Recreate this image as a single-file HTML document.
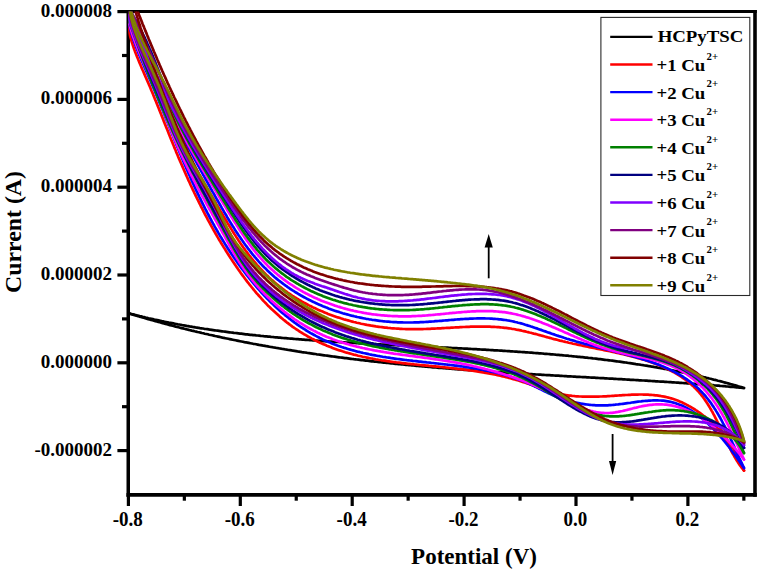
<!DOCTYPE html>
<html><head><meta charset="utf-8"><style>
html,body{margin:0;padding:0;background:#fff;}
body{width:762px;height:574px;overflow:hidden;}
svg{display:block;}
.tl{font-family:"Liberation Serif",serif;font-weight:bold;font-size:19px;fill:#000;stroke:none;}
.lg{font-family:"Liberation Serif",serif;font-weight:bold;font-size:17.4px;fill:#000;}
.sup{font-size:10px;}
.at{font-family:"Liberation Serif",serif;font-weight:bold;font-size:23px;fill:#000;}
</style></head><body>
<svg width="762" height="574" viewBox="0 0 762 574">
<defs><clipPath id="pc"><rect x="128.25" y="11.6" width="626.75" height="483.25"/></clipPath></defs>
<g stroke="#000" stroke-width="3.2" fill="none">
<line x1="126.5" y1="11.5" x2="756.8" y2="11.5" stroke-width="3.1"/>
<line x1="128.25" y1="10" x2="128.25" y2="496.7" stroke-width="3.5"/>
<line x1="126.5" y1="494.85" x2="756.8" y2="494.85" stroke-width="3.7"/>
<line x1="755" y1="10" x2="755" y2="496.7" stroke-width="3.6"/>
</g>
<g clip-path="url(#pc)" fill="none" stroke-width="2.7" stroke-linejoin="round" stroke-linecap="round">
<path d="M128.0,313.1L129.5,313.5L130.9,313.9L132.4,314.2L133.8,314.6L135.3,315.0L136.7,315.4L138.2,315.7L139.7,316.1L141.1,316.4L142.6,316.8L144.0,317.1L145.5,317.5L147.0,317.8L148.4,318.2L149.9,318.5L151.4,318.8L152.8,319.1L154.3,319.5L155.7,319.8L157.2,320.1L158.7,320.4L160.1,320.7L161.6,321.1L163.1,321.4L164.5,321.7L166.0,322.0L167.5,322.3L168.9,322.6L170.4,322.8L171.9,323.1L173.4,323.4L174.8,323.7L176.3,324.0L177.8,324.3L179.2,324.5L180.7,324.8L182.2,325.1L183.7,325.3L185.1,325.6L186.6,325.9L188.1,326.1L189.5,326.4L191.0,326.6L192.5,326.9L194.0,327.1L195.4,327.4L196.9,327.6L198.4,327.8L199.9,328.1L201.4,328.3L202.8,328.5L204.3,328.8L205.8,329.0L207.3,329.2L208.7,329.4L210.2,329.7L211.7,329.9L213.2,330.1L214.7,330.3L216.1,330.5L217.6,330.7L219.1,330.9L220.6,331.1L222.1,331.3L223.6,331.5L225.0,331.7L226.5,331.9L228.0,332.1L229.5,332.3L231.0,332.5L232.4,332.7L233.9,332.9L235.4,333.0L236.9,333.2L238.4,333.4L239.9,333.6L241.4,333.7L242.8,333.9L244.3,334.1L245.8,334.3L247.3,334.4L248.8,334.6L250.3,334.8L251.8,334.9L253.2,335.1L254.7,335.2L256.2,335.4L257.7,335.5L259.2,335.7L260.7,335.9L262.2,336.0L263.7,336.2L265.2,336.3L266.6,336.4L268.1,336.6L269.6,336.7L271.1,336.9L272.6,337.0L274.1,337.2L275.6,337.3L277.1,337.4L278.6,337.6L280.1,337.7L281.5,337.8L283.0,338.0L284.5,338.1L286.0,338.2L287.5,338.3L289.0,338.5L290.5,338.6L292.0,338.7L293.5,338.8L295.0,339.0L296.5,339.1L298.0,339.2L299.4,339.3L300.9,339.4L302.4,339.6L303.9,339.7L305.4,339.8L306.9,339.9L308.4,340.0L309.9,340.1L311.4,340.2L312.9,340.3L314.4,340.4L315.9,340.5L317.4,340.7L318.9,340.8L320.4,340.9L321.9,341.0L323.4,341.1L324.8,341.2L326.3,341.3L327.8,341.4L329.3,341.5L330.8,341.6L332.3,341.7L333.8,341.8L335.3,341.9L336.8,341.9L338.3,342.0L339.8,342.1L341.3,342.2L342.8,342.3L344.3,342.4L345.8,342.5L347.3,342.6L348.8,342.7L350.3,342.8L351.8,342.9L353.3,342.9L354.8,343.0L356.3,343.1L357.8,343.2L359.3,343.3L360.8,343.4L362.3,343.4L363.8,343.5L365.3,343.6L366.8,343.7L368.3,343.8L369.8,343.9L371.3,343.9L372.8,344.0L374.3,344.1L375.8,344.2L377.3,344.3L378.7,344.3L380.2,344.4L381.7,344.5L383.2,344.6L384.7,344.6L386.2,344.7L387.7,344.8L389.2,344.9L390.7,344.9L392.2,345.0L393.7,345.1L395.2,345.2L396.7,345.2L398.2,345.3L399.7,345.4L401.2,345.5L402.7,345.5L404.2,345.6L405.7,345.7L407.2,345.8L408.7,345.8L410.2,345.9L411.7,346.0L413.2,346.1L414.7,346.1L416.2,346.2L417.7,346.3L419.2,346.3L420.7,346.4L422.2,346.5L423.7,346.6L425.2,346.6L426.7,346.7L428.2,346.8L429.7,346.9L431.2,346.9L432.7,347.0L434.2,347.1L435.7,347.1L437.2,347.2L438.7,347.3L440.2,347.4L441.7,347.4L443.2,347.5L444.7,347.6L446.2,347.7L447.7,347.7L449.2,347.8L450.7,347.9L452.2,348.0L453.7,348.0L455.2,348.1L456.7,348.2L458.2,348.3L459.7,348.3L461.2,348.4L462.7,348.5L464.2,348.6L465.7,348.7L467.2,348.7L468.7,348.8L470.2,348.9L471.7,349.0L473.2,349.1L474.7,349.1L476.2,349.2L477.7,349.3L479.2,349.4L480.7,349.5L482.2,349.6L483.7,349.6L485.2,349.7L486.7,349.8L488.2,349.9L489.7,350.0L491.2,350.1L492.7,350.2L494.2,350.3L495.7,350.3L497.2,350.4L498.7,350.5L500.2,350.6L501.7,350.7L503.2,350.8L504.7,350.9L506.2,351.0L507.7,351.1L509.2,351.2L510.7,351.3L512.2,351.4L513.7,351.5L515.2,351.6L516.7,351.7L518.2,351.8L519.7,351.9L521.2,352.0L522.7,352.1L524.2,352.2L525.7,352.3L527.2,352.4L528.7,352.5L530.2,352.6L531.7,352.7L533.2,352.8L534.7,353.0L536.2,353.1L537.7,353.2L539.2,353.3L540.7,353.4L542.2,353.5L543.6,353.7L545.1,353.8L546.6,353.9L548.1,354.0L549.6,354.1L551.1,354.3L552.6,354.4L554.1,354.5L555.6,354.7L557.1,354.8L558.6,354.9L560.1,355.1L561.6,355.2L563.1,355.3L564.6,355.5L566.1,355.6L567.6,355.7L569.0,355.9L570.5,356.0L572.0,356.2L573.5,356.3L575.0,356.5L576.5,356.6L578.0,356.8L579.5,356.9L581.0,357.1L582.5,357.2L584.0,357.4L585.4,357.6L586.9,357.7L588.4,357.9L589.9,358.0L591.4,358.2L592.9,358.4L594.4,358.5L595.9,358.7L597.4,358.9L598.8,359.1L600.3,359.2L601.8,359.4L603.3,359.6L604.8,359.8L606.3,360.0L607.8,360.1L609.2,360.3L610.7,360.5L612.2,360.7L613.7,360.9L615.2,361.1L616.7,361.3L618.1,361.5L619.6,361.7L621.1,361.9L622.6,362.1L624.1,362.3L625.6,362.5L627.0,362.7L628.5,363.0L630.0,363.2L631.5,363.4L633.0,363.6L634.4,363.8L635.9,364.1L637.4,364.3L638.9,364.5L640.3,364.7L641.8,365.0L643.3,365.2L644.8,365.5L646.2,365.7L647.7,365.9L649.2,366.2L650.7,366.4L652.1,366.7L653.6,366.9L655.1,367.2L656.6,367.4L658.0,367.7L659.5,368.0L661.0,368.2L662.5,368.5L663.9,368.8L665.4,369.0L666.9,369.3L668.3,369.6L669.8,369.9L671.3,370.2L672.7,370.4L674.2,370.7L675.7,371.0L677.1,371.3L678.6,371.6L680.1,371.9L681.5,372.2L683.0,372.5L684.5,372.8L685.9,373.1L687.4,373.4L688.9,373.7L690.3,374.1L691.8,374.4L693.2,374.7L694.7,375.0L696.2,375.4L697.6,375.7L699.1,376.0L700.5,376.4L702.0,376.7L703.5,377.1L704.9,377.4L706.4,377.8L707.8,378.1L709.3,378.5L710.7,378.8L712.2,379.2L713.6,379.6L715.1,379.9L716.5,380.3L718.0,380.7L719.4,381.0L720.9,381.4L722.3,381.8L723.8,382.2L725.2,382.6L726.7,383.0L728.1,383.4L729.6,383.8L731.0,384.2L732.5,384.6L733.9,385.0L735.4,385.4L736.8,385.8L738.2,386.3L739.7,386.7L741.1,387.1L742.6,387.6L744.0,388.0" stroke="#000"/>
<path d="M128.0,313.1L129.4,313.5L130.9,314.0L132.3,314.4L133.8,314.9L135.2,315.3L136.6,315.7L138.1,316.1L139.5,316.6L141.0,317.0L142.4,317.4L143.9,317.8L145.3,318.3L146.7,318.7L148.2,319.1L149.6,319.5L151.1,319.9L152.5,320.3L154.0,320.7L155.4,321.1L156.9,321.5L158.3,321.9L159.8,322.3L161.2,322.7L162.7,323.1L164.1,323.5L165.6,323.9L167.0,324.3L168.5,324.7L169.9,325.1L171.4,325.4L172.8,325.8L174.3,326.2L175.7,326.6L177.2,326.9L178.6,327.3L180.1,327.7L181.5,328.1L183.0,328.4L184.4,328.8L185.9,329.1L187.3,329.5L188.8,329.9L190.3,330.2L191.7,330.6L193.2,330.9L194.6,331.3L196.1,331.6L197.5,332.0L199.0,332.3L200.5,332.6L201.9,333.0L203.4,333.3L204.8,333.7L206.3,334.0L207.8,334.3L209.2,334.7L210.7,335.0L212.2,335.3L213.6,335.6L215.1,336.0L216.5,336.3L218.0,336.6L219.5,336.9L220.9,337.2L222.4,337.6L223.9,337.9L225.3,338.2L226.8,338.5L228.3,338.8L229.7,339.1L231.2,339.4L232.7,339.7L234.1,340.0L235.6,340.3L237.1,340.6L238.5,340.9L240.0,341.2L241.5,341.5L242.9,341.8L244.4,342.1L245.9,342.3L247.3,342.6L248.8,342.9L250.3,343.2L251.8,343.5L253.2,343.8L254.7,344.0L256.2,344.3L257.6,344.6L259.1,344.9L260.6,345.1L262.1,345.4L263.5,345.7L265.0,345.9L266.5,346.2L267.9,346.4L269.4,346.7L270.9,347.0L272.4,347.2L273.8,347.5L275.3,347.7L276.8,348.0L278.3,348.2L279.8,348.5L281.2,348.7L282.7,349.0L284.2,349.2L285.7,349.5L287.1,349.7L288.6,350.0L290.1,350.2L291.6,350.4L293.1,350.7L294.5,350.9L296.0,351.1L297.5,351.4L299.0,351.6L300.4,351.8L301.9,352.1L303.4,352.3L304.9,352.5L306.4,352.7L307.9,353.0L309.3,353.2L310.8,353.4L312.3,353.6L313.8,353.8L315.3,354.0L316.7,354.3L318.2,354.5L319.7,354.7L321.2,354.9L322.7,355.1L324.2,355.3L325.6,355.5L327.1,355.7L328.6,355.9L330.1,356.1L331.6,356.3L333.1,356.5L334.5,356.7L336.0,356.9L337.5,357.1L339.0,357.3L340.5,357.5L342.0,357.7L343.5,357.9L344.9,358.1L346.4,358.2L347.9,358.4L349.4,358.6L350.9,358.8L352.4,359.0L353.9,359.2L355.4,359.3L356.8,359.5L358.3,359.7L359.8,359.9L361.3,360.1L362.8,360.2L364.3,360.4L365.8,360.6L367.3,360.7L368.8,360.9L370.2,361.1L371.7,361.3L373.2,361.4L374.7,361.6L376.2,361.7L377.7,361.9L379.2,362.1L380.7,362.2L382.2,362.4L383.7,362.6L385.1,362.7L386.6,362.9L388.1,363.0L389.6,363.2L391.1,363.3L392.6,363.5L394.1,363.6L395.6,363.8L397.1,363.9L398.6,364.1L400.1,364.2L401.6,364.4L403.0,364.5L404.5,364.7L406.0,364.8L407.5,365.0L409.0,365.1L410.5,365.2L412.0,365.4L413.5,365.5L415.0,365.7L416.5,365.8L418.0,365.9L419.5,366.1L421.0,366.2L422.5,366.3L424.0,366.5L425.4,366.6L426.9,366.7L428.4,366.9L429.9,367.0L431.4,367.1L432.9,367.3L434.4,367.4L435.9,367.5L437.4,367.6L438.9,367.8L440.4,367.9L441.9,368.0L443.4,368.1L444.9,368.2L446.4,368.4L447.9,368.5L449.4,368.6L450.9,368.7L452.4,368.8L453.8,369.0L455.3,369.1L456.8,369.2L458.3,369.3L459.8,369.4L461.3,369.5L462.8,369.6L464.3,369.8L465.8,369.9L467.3,370.0L468.8,370.1L470.3,370.2L471.8,370.3L473.3,370.4L474.8,370.5L476.3,370.6L477.8,370.7L479.3,370.8L480.8,370.9L482.3,371.0L483.8,371.1L485.3,371.2L486.8,371.3L488.3,371.5L489.7,371.6L491.2,371.7L492.7,371.8L494.2,371.9L495.7,372.0L497.2,372.1L498.7,372.1L500.2,372.2L501.7,372.3L503.2,372.4L504.7,372.5L506.2,372.6L507.7,372.7L509.2,372.8L510.7,372.9L512.2,373.0L513.7,373.1L515.2,373.2L516.7,373.3L518.2,373.4L519.7,373.5L521.2,373.6L522.7,373.7L524.2,373.7L525.7,373.8L527.2,373.9L528.7,374.0L530.2,374.1L531.7,374.2L533.2,374.3L534.7,374.4L536.1,374.5L537.6,374.5L539.1,374.6L540.6,374.7L542.1,374.8L543.6,374.9L545.1,375.0L546.6,375.1L548.1,375.2L549.6,375.2L551.1,375.3L552.6,375.4L554.1,375.5L555.6,375.6L557.1,375.7L558.6,375.7L560.1,375.8L561.6,375.9L563.1,376.0L564.6,376.1L566.1,376.2L567.6,376.3L569.1,376.3L570.6,376.4L572.1,376.5L573.6,376.6L575.1,376.7L576.6,376.8L578.1,376.8L579.6,376.9L581.1,377.0L582.6,377.1L584.1,377.2L585.6,377.2L587.0,377.3L588.5,377.4L590.0,377.5L591.5,377.6L593.0,377.7L594.5,377.7L596.0,377.8L597.5,377.9L599.0,378.0L600.5,378.1L602.0,378.2L603.5,378.2L605.0,378.3L606.5,378.4L608.0,378.5L609.5,378.6L611.0,378.7L612.5,378.7L614.0,378.8L615.5,378.9L617.0,379.0L618.5,379.1L620.0,379.2L621.5,379.2L623.0,379.3L624.5,379.4L626.0,379.5L627.5,379.6L629.0,379.7L630.5,379.8L631.9,379.8L633.4,379.9L634.9,380.0L636.4,380.1L637.9,380.2L639.4,380.3L640.9,380.4L642.4,380.5L643.9,380.5L645.4,380.6L646.9,380.7L648.4,380.8L649.9,380.9L651.4,381.0L652.9,381.1L654.4,381.2L655.9,381.3L657.4,381.4L658.9,381.5L660.4,381.6L661.9,381.6L663.4,381.7L664.9,381.8L666.3,381.9L667.8,382.0L669.3,382.1L670.8,382.2L672.3,382.3L673.8,382.4L675.3,382.5L676.8,382.6L678.3,382.7L679.8,382.8L681.3,382.9L682.8,383.0L684.3,383.1L685.8,383.2L687.3,383.3L688.8,383.4L690.3,383.5L691.8,383.7L693.2,383.8L694.7,383.9L696.2,384.0L697.7,384.1L699.2,384.2L700.7,384.3L702.2,384.4L703.7,384.5L705.2,384.7L706.7,384.8L708.2,384.9L709.7,385.0L711.2,385.1L712.7,385.2L714.2,385.4L715.7,385.5L717.1,385.6L718.6,385.7L720.1,385.9L721.6,386.0L723.1,386.1L724.6,386.2L726.1,386.4L727.6,386.5L729.1,386.6L730.6,386.8L732.1,386.9L733.6,387.0L735.1,387.2L736.5,387.3L738.0,387.4L739.5,387.6L741.0,387.7L742.5,387.9L744.0,388.0" stroke="#000"/>
<path d="M128.0,26.2L128.6,27.6L129.1,28.9L129.7,30.3L130.2,31.6L130.8,33.0L131.4,34.4L131.9,35.7L132.5,37.1L133.1,38.5L133.6,39.9L134.2,41.2L134.8,42.6L135.4,44.0L135.9,45.4L136.5,46.7L137.1,48.1L137.7,49.5L138.3,50.9L138.8,52.2L139.4,53.6L140.0,55.0L140.6,56.4L141.2,57.7L141.8,59.1L142.4,60.5L143.0,61.9L143.6,63.3L144.2,64.7L144.8,66.0L145.4,67.4L146.0,68.8L146.6,70.2L147.2,71.6L147.8,72.9L148.4,74.3L149.0,75.7L149.6,77.1L150.2,78.4L150.8,79.8L151.4,81.2L152.0,82.6L152.7,83.9L153.3,85.3L153.9,86.7L154.5,88.1L155.2,89.4L155.8,90.8L156.4,92.2L157.0,93.6L157.7,94.9L158.3,96.3L159.0,97.6L159.6,99.0L160.2,100.4L160.9,101.7L161.5,103.1L162.2,104.5L162.8,105.8L163.5,107.2L164.1,108.5L164.8,109.9L165.4,111.2L166.1,112.6L166.7,113.9L167.4,115.2L168.1,116.6L168.7,117.9L169.4,119.3L170.1,120.6L170.7,121.9L171.4,123.3L172.1,124.6L172.8,125.9L173.5,127.2L174.1,128.6L174.8,129.9L175.5,131.2L176.2,132.5L176.9,133.8L177.6,135.1L178.3,136.4L179.0,137.8L179.7,139.1L180.4,140.4L181.1,141.7L181.8,143.0L182.5,144.3L183.2,145.6L183.9,146.9L184.6,148.2L185.3,149.5L186.0,150.8L186.8,152.1L187.5,153.4L188.2,154.7L188.9,156.0L189.6,157.3L190.4,158.6L191.1,159.8L191.8,161.1L192.5,162.4L193.3,163.7L194.0,165.0L194.7,166.3L195.5,167.6L196.2,168.9L196.9,170.2L197.7,171.5L198.4,172.8L199.1,174.1L199.9,175.4L200.6,176.7L201.4,178.0L202.1,179.3L202.8,180.5L203.6,181.8L204.3,183.1L205.1,184.4L205.8,185.7L206.6,187.0L207.3,188.3L208.1,189.7L208.8,191.0L209.6,192.3L210.3,193.6L211.1,194.9L211.9,196.2L212.6,197.5L213.4,198.8L214.1,200.1L214.9,201.4L215.7,202.8L216.4,204.1L217.2,205.4L217.9,206.7L218.7,208.0L219.5,209.4L220.2,210.7L221.0,212.0L221.8,213.3L222.6,214.7L223.3,216.0L224.1,217.3L224.9,218.6L225.7,219.9L226.5,221.2L227.3,222.6L228.1,223.9L228.9,225.2L229.7,226.5L230.5,227.8L231.3,229.1L232.1,230.4L232.9,231.7L233.7,233.0L234.5,234.3L235.4,235.6L236.2,236.9L237.0,238.1L237.9,239.4L238.7,240.7L239.6,241.9L240.4,243.2L241.3,244.5L242.2,245.7L243.0,247.0L243.9,248.2L244.8,249.4L245.7,250.7L246.6,251.9L247.5,253.1L248.4,254.3L249.3,255.5L250.3,256.7L251.2,257.9L252.1,259.0L253.1,260.2L254.0,261.4L255.0,262.5L256.0,263.7L256.9,264.8L257.9,265.9L258.9,267.0L259.9,268.2L260.9,269.2L261.9,270.3L263.0,271.4L264.0,272.5L265.0,273.5L266.1,274.6L267.1,275.6L268.2,276.6L269.3,277.7L270.4,278.7L271.5,279.7L272.6,280.6L273.7,281.6L274.8,282.6L275.9,283.5L277.1,284.5L278.2,285.4L279.4,286.3L280.5,287.2L281.7,288.1L282.9,289.0L284.0,289.9L285.2,290.8L286.4,291.6L287.6,292.5L288.8,293.3L290.1,294.2L291.3,295.0L292.5,295.8L293.8,296.6L295.0,297.4L296.3,298.2L297.5,298.9L298.8,299.7L300.1,300.4L301.3,301.2L302.6,301.9L303.9,302.6L305.2,303.3L306.5,304.0L307.8,304.7L309.1,305.4L310.5,306.1L311.8,306.7L313.1,307.4L314.5,308.0L315.8,308.6L317.1,309.3L318.5,309.9L319.9,310.5L321.2,311.1L322.6,311.6L324.0,312.2L325.3,312.8L326.7,313.3L328.1,313.9L329.5,314.4L330.9,314.9L332.3,315.4L333.7,315.9L335.1,316.4L336.5,316.9L337.9,317.4L339.4,317.8L340.8,318.3L342.2,318.7L343.6,319.2L345.1,319.6L346.5,320.0L348.0,320.4L349.4,320.8L350.9,321.2L352.3,321.6L353.8,322.0L355.2,322.3L356.7,322.7L358.2,323.0L359.6,323.3L361.1,323.7L362.6,324.0L364.0,324.3L365.5,324.6L367.0,324.9L368.5,325.1L370.0,325.4L371.5,325.7L372.9,325.9L374.4,326.1L375.9,326.4L377.4,326.6L378.9,326.8L380.4,327.0L381.9,327.2L383.4,327.4L384.9,327.6L386.4,327.7L387.9,327.9L389.4,328.0L390.9,328.2L392.4,328.3L393.9,328.4L395.4,328.5L397.0,328.6L398.5,328.7L400.0,328.8L401.5,328.9L403.0,329.0L404.5,329.0L406.0,329.1L407.5,329.1L409.0,329.1L410.5,329.2L412.0,329.2L413.6,329.2L415.1,329.2L416.6,329.2L418.1,329.2L419.6,329.1L421.1,329.1L422.6,329.1L424.1,329.0L425.6,329.0L427.1,328.9L428.6,328.9L430.1,328.8L431.6,328.7L433.2,328.7L434.7,328.6L436.2,328.5L437.7,328.4L439.2,328.4L440.7,328.3L442.2,328.2L443.7,328.1L445.2,328.0L446.7,327.9L448.2,327.8L449.7,327.8L451.2,327.7L452.7,327.6L454.2,327.5L455.7,327.4L457.2,327.3L458.7,327.3L460.2,327.2L461.6,327.1L463.1,327.0L464.6,327.0L466.1,326.9L467.6,326.8L469.1,326.8L470.6,326.7L472.1,326.7L473.6,326.6L475.1,326.6L476.5,326.6L478.0,326.6L479.5,326.6L481.0,326.6L482.5,326.6L484.0,326.6L485.4,326.6L486.9,326.6L488.4,326.6L489.9,326.7L491.4,326.8L492.8,326.8L494.3,326.9L495.8,327.0L497.3,327.1L498.7,327.2L500.2,327.3L501.7,327.5L503.1,327.6L504.6,327.8L506.1,327.9L507.5,328.1L509.0,328.3L510.5,328.5L511.9,328.8L513.4,329.0L514.9,329.3L516.3,329.6L517.8,329.8L519.2,330.1L520.7,330.4L522.1,330.8L523.6,331.1L525.1,331.4L526.5,331.8L528.0,332.1L529.4,332.5L530.9,332.8L532.3,333.2L533.8,333.6L535.2,333.9L536.7,334.3L538.1,334.7L539.6,335.1L541.0,335.5L542.5,335.9L543.9,336.3L545.4,336.7L546.8,337.1L548.3,337.5L549.7,337.9L551.2,338.3L552.6,338.7L554.1,339.1L555.5,339.4L557.0,339.8L558.5,340.2L559.9,340.6L561.4,340.9L562.8,341.3L564.3,341.6L565.7,342.0L567.2,342.3L568.7,342.7L570.1,343.0L571.6,343.3L573.0,343.7L574.5,344.0L576.0,344.3L577.4,344.6L578.9,344.9L580.4,345.2L581.8,345.5L583.3,345.9L584.8,346.2L586.2,346.5L587.7,346.8L589.2,347.1L590.6,347.4L592.1,347.7L593.6,348.0L595.1,348.3L596.5,348.6L598.0,348.9L599.5,349.2L601.0,349.5L602.5,349.8L604.0,350.1L605.4,350.4L606.9,350.7L608.4,351.0L609.9,351.3L611.4,351.6L612.9,351.9L614.4,352.3L615.9,352.6L617.3,352.9L618.8,353.3L620.3,353.6L621.8,353.9L623.3,354.3L624.8,354.6L626.3,355.0L627.8,355.4L629.3,355.7L630.7,356.1L632.2,356.5L633.7,356.9L635.2,357.3L636.6,357.7L638.1,358.1L639.6,358.5L641.0,359.0L642.5,359.4L643.9,359.8L645.4,360.3L646.8,360.8L648.2,361.2L649.7,361.7L651.1,362.2L652.5,362.7L653.9,363.2L655.3,363.8L656.7,364.3L658.1,364.8L659.5,365.4L660.8,366.0L662.2,366.6L663.6,367.2L664.9,367.8L666.2,368.4L667.6,369.0L668.9,369.7L670.2,370.3L671.5,371.0L672.8,371.7L674.1,372.4L675.3,373.1L676.6,373.9L677.8,374.6L679.1,375.4L680.3,376.2L681.5,377.0L682.7,377.8L683.9,378.6L685.1,379.5L686.2,380.3L687.4,381.2L688.5,382.1L689.6,383.0L690.7,384.0L691.8,384.9L692.9,385.9L693.9,386.9L695.0,387.9L696.0,389.0L697.0,390.0L698.0,391.1L699.0,392.2L699.9,393.3L700.9,394.4L701.8,395.6L702.7,396.8L703.6,398.0L704.5,399.2L705.3,400.4L706.2,401.7L707.0,402.9L707.8,404.2L708.6,405.5L709.4,406.8L710.2,408.2L711.0,409.5L711.7,410.8L712.5,412.2L713.2,413.6L714.0,415.0L714.7,416.4L715.4,417.8L716.1,419.2L716.8,420.6L717.5,422.0L718.2,423.4L718.9,424.8L719.5,426.3L720.2,427.7L720.9,429.1L721.6,430.5L722.2,432.0L722.9,433.4L723.6,434.8L724.2,436.2L724.9,437.7L725.5,439.1L726.2,440.5L726.9,441.9L727.5,443.3L728.2,444.7L728.9,446.0L729.6,447.4L730.3,448.8L730.9,450.1L731.6,451.5L732.3,452.8L733.0,454.1L733.8,455.4L734.5,456.7L735.2,457.9L736.0,459.2L736.7,460.4L737.5,461.6L738.2,462.8L739.0,464.0L739.8,465.1L740.6,466.2L741.4,467.3L742.3,468.4L743.1,469.5L744.0,470.5" stroke="#ff0000"/>
<path d="M128.0,26.2L128.3,27.7L128.5,29.1L128.8,30.6L129.1,32.0L129.5,33.5L129.8,34.9L130.2,36.4L130.6,37.8L131.0,39.2L131.4,40.7L131.8,42.1L132.3,43.5L132.7,44.9L133.2,46.3L133.7,47.8L134.2,49.2L134.7,50.6L135.2,52.0L135.8,53.4L136.3,54.7L136.8,56.1L137.4,57.5L138.0,58.9L138.5,60.3L139.1,61.7L139.7,63.1L140.3,64.5L140.8,65.8L141.4,67.2L142.0,68.6L142.6,70.0L143.2,71.3L143.8,72.7L144.4,74.1L145.0,75.5L145.6,76.9L146.2,78.2L146.8,79.6L147.4,81.0L148.0,82.4L148.6,83.7L149.2,85.1L149.8,86.5L150.4,87.9L150.9,89.3L151.5,90.7L152.1,92.0L152.7,93.4L153.2,94.8L153.8,96.2L154.4,97.6L154.9,99.0L155.5,100.4L156.1,101.7L156.6,103.1L157.2,104.5L157.7,105.9L158.3,107.3L158.9,108.7L159.4,110.1L160.0,111.5L160.5,112.9L161.1,114.2L161.6,115.6L162.2,117.0L162.7,118.4L163.3,119.8L163.8,121.2L164.4,122.6L164.9,124.0L165.5,125.4L166.0,126.8L166.6,128.1L167.2,129.5L167.7,130.9L168.3,132.3L168.8,133.7L169.4,135.1L169.9,136.5L170.5,137.9L171.0,139.3L171.6,140.6L172.2,142.0L172.7,143.4L173.3,144.8L173.9,146.2L174.4,147.6L175.0,149.0L175.6,150.3L176.1,151.7L176.7,153.1L177.3,154.5L177.9,155.9L178.4,157.2L179.0,158.6L179.6,160.0L180.2,161.4L180.8,162.8L181.4,164.1L182.0,165.5L182.6,166.9L183.2,168.3L183.8,169.6L184.4,171.0L185.0,172.4L185.6,173.7L186.2,175.1L186.8,176.5L187.4,177.8L188.0,179.2L188.6,180.6L189.3,181.9L189.9,183.3L190.5,184.7L191.1,186.0L191.8,187.4L192.4,188.7L193.0,190.1L193.7,191.4L194.3,192.8L195.0,194.1L195.6,195.5L196.3,196.8L196.9,198.2L197.6,199.5L198.3,200.9L198.9,202.2L199.6,203.6L200.3,204.9L200.9,206.3L201.6,207.6L202.3,208.9L203.0,210.3L203.6,211.6L204.3,212.9L205.0,214.3L205.7,215.6L206.4,216.9L207.1,218.2L207.8,219.6L208.5,220.9L209.3,222.2L210.0,223.5L210.7,224.8L211.4,226.1L212.1,227.4L212.9,228.8L213.6,230.1L214.3,231.4L215.1,232.7L215.8,234.0L216.6,235.3L217.3,236.6L218.1,237.9L218.8,239.2L219.6,240.5L220.4,241.7L221.1,243.0L221.9,244.3L222.7,245.6L223.5,246.9L224.3,248.1L225.1,249.4L225.9,250.7L226.7,252.0L227.5,253.2L228.3,254.5L229.1,255.8L229.9,257.0L230.7,258.3L231.6,259.5L232.4,260.8L233.2,262.0L234.1,263.3L234.9,264.5L235.8,265.8L236.6,267.0L237.5,268.3L238.3,269.5L239.2,270.7L240.1,271.9L240.9,273.2L241.8,274.4L242.7,275.6L243.6,276.8L244.5,278.0L245.4,279.2L246.3,280.4L247.2,281.6L248.2,282.8L249.1,284.0L250.0,285.2L251.0,286.3L251.9,287.5L252.9,288.7L253.8,289.8L254.8,291.0L255.7,292.1L256.7,293.3L257.7,294.4L258.7,295.5L259.7,296.6L260.7,297.7L261.7,298.9L262.7,300.0L263.7,301.1L264.7,302.1L265.8,303.2L266.8,304.3L267.8,305.4L268.9,306.4L270.0,307.5L271.0,308.5L272.1,309.6L273.2,310.6L274.3,311.6L275.4,312.6L276.5,313.6L277.6,314.6L278.7,315.6L279.8,316.6L281.0,317.6L282.1,318.5L283.2,319.5L284.4,320.4L285.6,321.4L286.7,322.3L287.9,323.2L289.1,324.1L290.3,325.0L291.5,325.9L292.7,326.8L293.9,327.6L295.2,328.5L296.4,329.3L297.7,330.2L298.9,331.0L300.2,331.8L301.5,332.6L302.7,333.4L304.0,334.2L305.3,334.9L306.6,335.7L307.9,336.5L309.3,337.2L310.6,337.9L311.9,338.6L313.3,339.3L314.6,340.0L316.0,340.7L317.3,341.4L318.7,342.0L320.0,342.7L321.4,343.3L322.8,343.9L324.2,344.5L325.6,345.1L326.9,345.7L328.3,346.2L329.7,346.8L331.1,347.3L332.5,347.9L333.9,348.4L335.3,348.9L336.7,349.4L338.1,349.9L339.5,350.4L341.0,350.8L342.4,351.3L343.8,351.7L345.2,352.2L346.6,352.6L348.1,353.0L349.5,353.4L350.9,353.8L352.4,354.2L353.8,354.6L355.2,354.9L356.7,355.3L358.1,355.7L359.6,356.0L361.0,356.3L362.5,356.7L363.9,357.0L365.4,357.3L366.9,357.6L368.3,357.9L369.8,358.2L371.2,358.5L372.7,358.7L374.2,359.0L375.6,359.3L377.1,359.5L378.6,359.8L380.1,360.0L381.5,360.3L383.0,360.5L384.5,360.7L386.0,360.9L387.4,361.2L388.9,361.4L390.4,361.6L391.9,361.8L393.4,362.0L394.9,362.2L396.3,362.4L397.8,362.5L399.3,362.7L400.8,362.9L402.3,363.1L403.8,363.3L405.3,363.4L406.8,363.6L408.3,363.8L409.8,363.9L411.3,364.1L412.8,364.2L414.3,364.4L415.7,364.5L417.2,364.7L418.7,364.8L420.2,365.0L421.7,365.1L423.2,365.3L424.7,365.4L426.2,365.6L427.7,365.7L429.2,365.9L430.7,366.0L432.2,366.2L433.7,366.3L435.2,366.4L436.7,366.6L438.2,366.7L439.7,366.9L441.2,367.0L442.7,367.2L444.2,367.3L445.7,367.5L447.2,367.6L448.7,367.8L450.2,368.0L451.6,368.1L453.1,368.3L454.6,368.5L456.1,368.6L457.6,368.8L459.1,369.0L460.6,369.2L462.1,369.3L463.5,369.5L465.0,369.7L466.5,369.9L468.0,370.1L469.5,370.3L471.0,370.5L472.4,370.7L473.9,370.9L475.4,371.2L476.9,371.4L478.3,371.6L479.8,371.9L481.3,372.1L482.8,372.3L484.2,372.6L485.7,372.9L487.2,373.1L488.6,373.4L490.1,373.7L491.6,374.0L493.0,374.2L494.5,374.5L495.9,374.8L497.4,375.2L498.9,375.5L500.3,375.8L501.8,376.1L503.2,376.5L504.7,376.8L506.1,377.2L507.6,377.5L509.0,377.9L510.5,378.3L511.9,378.7L513.3,379.1L514.8,379.5L516.2,379.9L517.6,380.3L519.1,380.7L520.5,381.2L521.9,381.6L523.4,382.1L524.8,382.6L526.2,383.1L527.6,383.5L529.1,384.0L530.5,384.6L531.9,385.1L533.3,385.6L534.7,386.1L536.2,386.7L537.6,387.2L539.0,387.7L540.4,388.3L541.8,388.8L543.2,389.3L544.6,389.8L546.1,390.3L547.5,390.8L548.9,391.2L550.3,391.7L551.8,392.1L553.2,392.5L554.6,392.9L556.1,393.2L557.5,393.6L559.0,393.9L560.4,394.2L561.9,394.4L563.3,394.7L564.8,394.9L566.2,395.2L567.7,395.4L569.1,395.6L570.6,395.7L572.1,395.9L573.5,396.0L575.0,396.2L576.5,396.3L578.0,396.4L579.4,396.5L580.9,396.5L582.4,396.6L583.9,396.6L585.3,396.7L586.8,396.7L588.3,396.7L589.8,396.7L591.3,396.7L592.8,396.7L594.3,396.7L595.8,396.7L597.3,396.6L598.7,396.6L600.2,396.5L601.7,396.5L603.2,396.4L604.7,396.3L606.2,396.3L607.7,396.2L609.2,396.1L610.7,396.0L612.2,395.9L613.7,395.8L615.2,395.7L616.7,395.6L618.2,395.5L619.7,395.4L621.2,395.3L622.7,395.2L624.2,395.1L625.7,395.0L627.2,395.0L628.7,394.9L630.2,394.8L631.7,394.7L633.2,394.7L634.7,394.6L636.2,394.6L637.7,394.6L639.2,394.5L640.7,394.5L642.1,394.5L643.6,394.6L645.1,394.6L646.6,394.6L648.1,394.7L649.5,394.8L651.0,394.9L652.5,395.0L653.9,395.1L655.4,395.3L656.8,395.4L658.3,395.6L659.8,395.8L661.2,396.1L662.6,396.3L664.1,396.6L665.5,396.9L666.9,397.2L668.4,397.6L669.8,398.0L671.2,398.4L672.6,398.8L674.0,399.3L675.4,399.8L676.8,400.3L678.2,400.8L679.6,401.4L681.0,402.0L682.4,402.6L683.7,403.3L685.1,403.9L686.4,404.6L687.8,405.3L689.1,406.1L690.5,406.8L691.8,407.6L693.1,408.4L694.4,409.2L695.7,410.1L697.0,410.9L698.2,411.8L699.5,412.7L700.8,413.6L702.0,414.5L703.2,415.5L704.5,416.4L705.7,417.4L706.9,418.4L708.1,419.4L709.2,420.5L710.4,421.5L711.6,422.6L712.7,423.6L713.8,424.7L714.9,425.8L716.0,426.9L717.1,428.1L718.2,429.2L719.2,430.4L720.3,431.5L721.3,432.7L722.3,433.9L723.3,435.0L724.3,436.2L725.3,437.5L726.2,438.7L727.2,439.9L728.1,441.1L729.0,442.4L729.9,443.6L730.7,444.9L731.6,446.1L732.4,447.4L733.2,448.6L734.0,449.9L734.8,451.2L735.5,452.5L736.3,453.7L737.0,455.0L737.7,456.3L738.4,457.6L739.0,458.9L739.7,460.2L740.3,461.5L740.9,462.8L741.5,464.1L742.0,465.4L742.5,466.6L743.0,467.9L743.5,469.2L744.0,470.5" stroke="#ff0000"/>
<path d="M128.0,20.5L128.6,21.9L129.1,23.2L129.7,24.6L130.3,26.0L130.8,27.3L131.4,28.7L132.0,30.1L132.6,31.5L133.2,32.8L133.7,34.2L134.3,35.6L134.9,36.9L135.5,38.3L136.1,39.7L136.7,41.0L137.3,42.4L137.9,43.8L138.5,45.1L139.1,46.5L139.7,47.9L140.3,49.2L140.9,50.6L141.6,52.0L142.2,53.3L142.8,54.7L143.4,56.1L144.0,57.4L144.7,58.8L145.3,60.2L145.9,61.5L146.5,62.9L147.2,64.3L147.8,65.6L148.4,67.0L149.1,68.4L149.7,69.7L150.3,71.1L151.0,72.5L151.6,73.8L152.3,75.2L152.9,76.5L153.6,77.9L154.2,79.3L154.8,80.6L155.5,82.0L156.1,83.3L156.8,84.7L157.5,86.0L158.1,87.4L158.8,88.8L159.4,90.1L160.1,91.5L160.7,92.8L161.4,94.2L162.1,95.5L162.7,96.9L163.4,98.2L164.1,99.6L164.7,100.9L165.4,102.3L166.1,103.6L166.7,105.0L167.4,106.3L168.1,107.6L168.7,109.0L169.4,110.3L170.1,111.7L170.8,113.0L171.4,114.3L172.1,115.7L172.8,117.0L173.5,118.3L174.1,119.7L174.8,121.0L175.5,122.3L176.2,123.7L176.9,125.0L177.5,126.3L178.2,127.7L178.9,129.0L179.6,130.3L180.3,131.6L181.0,133.0L181.6,134.3L182.3,135.6L183.0,136.9L183.7,138.2L184.4,139.6L185.1,140.9L185.8,142.2L186.4,143.5L187.1,144.8L187.8,146.1L188.5,147.5L189.2,148.8L189.9,150.1L190.6,151.4L191.3,152.7L192.0,154.0L192.7,155.3L193.4,156.7L194.1,158.0L194.8,159.3L195.5,160.6L196.2,161.9L196.9,163.2L197.6,164.5L198.3,165.8L199.1,167.2L199.8,168.5L200.5,169.8L201.2,171.1L201.9,172.4L202.6,173.7L203.3,175.0L204.1,176.3L204.8,177.6L205.5,179.0L206.2,180.3L207.0,181.6L207.7,182.9L208.4,184.2L209.1,185.5L209.9,186.8L210.6,188.2L211.3,189.5L212.1,190.8L212.8,192.1L213.6,193.4L214.3,194.7L215.0,196.0L215.8,197.4L216.5,198.7L217.3,200.0L218.0,201.3L218.8,202.6L219.6,204.0L220.3,205.3L221.1,206.6L221.8,207.9L222.6,209.3L223.4,210.6L224.1,211.9L224.9,213.2L225.7,214.5L226.5,215.8L227.2,217.2L228.0,218.5L228.8,219.8L229.6,221.1L230.4,222.4L231.2,223.7L232.0,225.0L232.8,226.3L233.7,227.6L234.5,228.9L235.3,230.2L236.1,231.4L237.0,232.7L237.8,234.0L238.6,235.3L239.5,236.5L240.4,237.8L241.2,239.0L242.1,240.3L243.0,241.5L243.8,242.8L244.7,244.0L245.6,245.2L246.5,246.4L247.4,247.6L248.3,248.9L249.3,250.0L250.2,251.2L251.1,252.4L252.0,253.6L253.0,254.8L254.0,255.9L254.9,257.1L255.9,258.2L256.9,259.4L257.9,260.5L258.8,261.6L259.8,262.7L260.9,263.8L261.9,264.9L262.9,266.0L263.9,267.0L265.0,268.1L266.1,269.1L267.1,270.2L268.2,271.2L269.3,272.2L270.4,273.2L271.5,274.2L272.6,275.2L273.7,276.2L274.8,277.2L275.9,278.1L277.1,279.1L278.2,280.0L279.4,280.9L280.6,281.8L281.7,282.7L282.9,283.6L284.1,284.5L285.3,285.4L286.5,286.2L287.7,287.1L288.9,287.9L290.2,288.8L291.4,289.6L292.6,290.4L293.9,291.2L295.1,292.0L296.4,292.7L297.7,293.5L298.9,294.3L300.2,295.0L301.5,295.8L302.8,296.5L304.1,297.2L305.4,297.9L306.7,298.6L308.0,299.3L309.4,300.0L310.7,300.6L312.0,301.3L313.4,301.9L314.7,302.6L316.1,303.2L317.4,303.8L318.8,304.4L320.2,305.0L321.5,305.6L322.9,306.2L324.3,306.7L325.7,307.3L327.1,307.8L328.5,308.4L329.9,308.9L331.3,309.4L332.7,309.9L334.1,310.4L335.5,310.9L337.0,311.4L338.4,311.8L339.8,312.3L341.2,312.7L342.7,313.2L344.1,313.6L345.6,314.0L347.0,314.4L348.5,314.8L349.9,315.2L351.4,315.6L352.8,315.9L354.3,316.3L355.8,316.6L357.2,317.0L358.7,317.3L360.2,317.6L361.7,317.9L363.2,318.2L364.6,318.5L366.1,318.8L367.6,319.0L369.1,319.3L370.6,319.5L372.1,319.8L373.6,320.0L375.1,320.2L376.6,320.4L378.1,320.6L379.6,320.8L381.1,321.0L382.6,321.2L384.1,321.3L385.6,321.5L387.1,321.6L388.6,321.7L390.1,321.8L391.6,322.0L393.2,322.1L394.7,322.1L396.2,322.2L397.7,322.3L399.2,322.4L400.7,322.4L402.2,322.4L403.7,322.5L405.3,322.5L406.8,322.5L408.3,322.5L409.8,322.5L411.3,322.5L412.8,322.5L414.3,322.4L415.8,322.4L417.3,322.3L418.9,322.3L420.4,322.2L421.9,322.1L423.4,322.1L424.9,322.0L426.4,321.9L427.9,321.8L429.4,321.7L430.9,321.6L432.4,321.5L433.9,321.4L435.4,321.2L436.9,321.1L438.4,321.0L439.9,320.9L441.4,320.8L442.9,320.6L444.4,320.5L445.9,320.4L447.4,320.3L448.9,320.1L450.4,320.0L451.9,319.9L453.4,319.8L454.9,319.6L456.4,319.5L457.9,319.4L459.4,319.3L460.9,319.2L462.4,319.1L463.8,319.0L465.3,318.9L466.8,318.8L468.3,318.8L469.8,318.7L471.3,318.6L472.8,318.6L474.2,318.5L475.7,318.5L477.2,318.4L478.7,318.4L480.1,318.4L481.6,318.4L483.1,318.4L484.6,318.4L486.0,318.5L487.5,318.5L489.0,318.5L490.4,318.6L491.9,318.7L493.4,318.8L494.8,318.9L496.3,319.0L497.8,319.1L499.2,319.3L500.7,319.4L502.1,319.6L503.6,319.8L505.1,320.0L506.5,320.2L508.0,320.5L509.4,320.7L510.9,321.0L512.3,321.3L513.8,321.6L515.2,322.0L516.7,322.3L518.1,322.7L519.5,323.0L521.0,323.4L522.4,323.8L523.9,324.2L525.3,324.7L526.7,325.1L528.2,325.6L529.6,326.0L531.0,326.5L532.5,326.9L533.9,327.4L535.3,327.9L536.8,328.4L538.2,328.9L539.6,329.4L541.1,329.9L542.5,330.4L543.9,330.9L545.4,331.4L546.8,331.9L548.2,332.4L549.7,332.9L551.1,333.4L552.5,333.9L554.0,334.4L555.4,334.9L556.8,335.4L558.3,335.9L559.7,336.4L561.1,336.8L562.6,337.3L564.0,337.8L565.4,338.2L566.9,338.7L568.3,339.1L569.7,339.6L571.2,340.0L572.6,340.4L574.1,340.8L575.5,341.3L576.9,341.7L578.4,342.1L579.8,342.5L581.3,342.9L582.7,343.3L584.2,343.7L585.6,344.1L587.1,344.4L588.5,344.8L590.0,345.2L591.4,345.6L592.9,346.0L594.3,346.3L595.8,346.7L597.2,347.1L598.7,347.5L600.1,347.8L601.6,348.2L603.1,348.6L604.5,348.9L606.0,349.3L607.4,349.7L608.9,350.0L610.4,350.4L611.8,350.8L613.3,351.1L614.8,351.5L616.3,351.9L617.7,352.3L619.2,352.6L620.7,353.0L622.2,353.4L623.6,353.8L625.1,354.2L626.6,354.6L628.0,355.0L629.5,355.3L631.0,355.8L632.4,356.2L633.9,356.6L635.4,357.0L636.8,357.4L638.3,357.8L639.7,358.3L641.2,358.7L642.6,359.2L644.1,359.6L645.5,360.1L646.9,360.5L648.4,361.0L649.8,361.5L651.2,362.0L652.6,362.5L654.0,363.0L655.4,363.5L656.8,364.1L658.2,364.6L659.6,365.1L661.0,365.7L662.4,366.3L663.7,366.8L665.1,367.4L666.5,368.0L667.8,368.6L669.1,369.3L670.5,369.9L671.8,370.6L673.1,371.2L674.4,371.9L675.7,372.6L677.0,373.3L678.3,374.0L679.5,374.7L680.8,375.5L682.0,376.2L683.3,377.0L684.5,377.8L685.7,378.6L686.9,379.4L688.1,380.3L689.3,381.1L690.5,382.0L691.6,382.9L692.8,383.8L693.9,384.7L695.0,385.7L696.1,386.6L697.2,387.6L698.3,388.6L699.4,389.6L700.4,390.7L701.4,391.7L702.5,392.8L703.5,393.9L704.5,395.0L705.5,396.1L706.4,397.3L707.4,398.5L708.3,399.6L709.2,400.9L710.2,402.1L711.1,403.3L711.9,404.6L712.8,405.9L713.7,407.1L714.5,408.4L715.4,409.7L716.2,411.1L717.0,412.4L717.8,413.7L718.6,415.1L719.4,416.5L720.2,417.8L720.9,419.2L721.7,420.6L722.4,422.0L723.1,423.4L723.9,424.8L724.6,426.2L725.3,427.6L726.0,429.0L726.7,430.4L727.4,431.8L728.1,433.3L728.7,434.7L729.4,436.1L730.1,437.5L730.7,438.9L731.3,440.3L732.0,441.7L732.6,443.1L733.3,444.5L733.9,445.9L734.5,447.3L735.1,448.7L735.7,450.0L736.3,451.4L736.9,452.8L737.5,454.1L738.1,455.4L738.7,456.7L739.3,458.1L739.9,459.3L740.5,460.6L741.1,461.9L741.7,463.2L742.3,464.4L742.8,465.6L743.4,466.8L744.0,468.0" stroke="#0000ff"/>
<path d="M128.0,20.5L128.3,22.0L128.7,23.4L129.0,24.9L129.4,26.3L129.8,27.8L130.2,29.2L130.6,30.6L131.1,32.1L131.5,33.5L131.9,34.9L132.4,36.3L132.9,37.8L133.4,39.2L133.8,40.6L134.3,42.0L134.9,43.4L135.4,44.8L135.9,46.2L136.4,47.6L137.0,49.0L137.5,50.4L138.1,51.8L138.6,53.2L139.2,54.6L139.8,55.9L140.4,57.3L140.9,58.7L141.5,60.1L142.1,61.5L142.7,62.8L143.3,64.2L143.9,65.6L144.5,67.0L145.1,68.4L145.7,69.7L146.3,71.1L146.9,72.5L147.5,73.9L148.1,75.2L148.7,76.6L149.3,78.0L149.9,79.4L150.5,80.7L151.1,82.1L151.7,83.5L152.2,84.9L152.8,86.3L153.4,87.6L154.0,89.0L154.6,90.4L155.1,91.8L155.7,93.2L156.3,94.6L156.9,95.9L157.4,97.3L158.0,98.7L158.6,100.1L159.1,101.5L159.7,102.9L160.3,104.3L160.8,105.7L161.4,107.1L161.9,108.4L162.5,109.8L163.1,111.2L163.6,112.6L164.2,114.0L164.7,115.4L165.3,116.8L165.8,118.2L166.4,119.6L166.9,121.0L167.5,122.3L168.1,123.7L168.6,125.1L169.2,126.5L169.7,127.9L170.3,129.3L170.8,130.7L171.4,132.1L171.9,133.5L172.5,134.9L173.1,136.3L173.6,137.6L174.2,139.0L174.7,140.4L175.3,141.8L175.9,143.2L176.4,144.6L177.0,146.0L177.6,147.4L178.1,148.8L178.7,150.1L179.3,151.5L179.8,152.9L180.4,154.3L181.0,155.7L181.6,157.1L182.1,158.4L182.7,159.8L183.3,161.2L183.9,162.6L184.5,164.0L185.1,165.4L185.7,166.7L186.3,168.1L186.9,169.5L187.5,170.9L188.1,172.2L188.7,173.6L189.3,175.0L189.9,176.3L190.5,177.7L191.1,179.1L191.7,180.5L192.3,181.8L192.9,183.2L193.6,184.6L194.2,185.9L194.8,187.3L195.4,188.6L196.1,190.0L196.7,191.4L197.4,192.7L198.0,194.1L198.7,195.4L199.3,196.8L200.0,198.1L200.6,199.5L201.3,200.8L201.9,202.2L202.6,203.5L203.3,204.8L203.9,206.2L204.6,207.5L205.3,208.9L206.0,210.2L206.7,211.5L207.4,212.9L208.1,214.2L208.8,215.5L209.5,216.8L210.2,218.2L210.9,219.5L211.6,220.8L212.3,222.1L213.0,223.4L213.8,224.7L214.5,226.1L215.2,227.4L216.0,228.7L216.7,230.0L217.5,231.3L218.2,232.6L219.0,233.9L219.7,235.2L220.5,236.5L221.3,237.7L222.0,239.0L222.8,240.3L223.6,241.6L224.4,242.9L225.2,244.2L226.0,245.4L226.8,246.7L227.6,248.0L228.4,249.2L229.2,250.5L230.1,251.8L230.9,253.0L231.7,254.3L232.6,255.5L233.4,256.8L234.3,258.0L235.1,259.3L236.0,260.5L236.9,261.7L237.7,263.0L238.6,264.2L239.5,265.4L240.4,266.7L241.3,267.9L242.2,269.1L243.1,270.3L244.0,271.5L244.9,272.7L245.9,273.9L246.8,275.1L247.7,276.3L248.7,277.5L249.6,278.7L250.6,279.9L251.5,281.0L252.5,282.2L253.5,283.4L254.4,284.5L255.4,285.7L256.4,286.8L257.4,288.0L258.4,289.1L259.4,290.2L260.4,291.3L261.4,292.5L262.4,293.6L263.5,294.7L264.5,295.8L265.5,296.9L266.6,298.0L267.6,299.0L268.7,300.1L269.8,301.2L270.8,302.2L271.9,303.3L273.0,304.3L274.1,305.4L275.2,306.4L276.3,307.4L277.4,308.4L278.5,309.4L279.6,310.4L280.7,311.4L281.8,312.4L283.0,313.4L284.1,314.3L285.2,315.3L286.4,316.2L287.6,317.1L288.7,318.1L289.9,319.0L291.1,319.9L292.2,320.8L293.4,321.7L294.6,322.6L295.8,323.4L297.0,324.3L298.2,325.2L299.5,326.0L300.7,326.8L301.9,327.6L303.2,328.5L304.4,329.2L305.6,330.0L306.9,330.8L308.2,331.6L309.4,332.3L310.7,333.1L312.0,333.8L313.3,334.5L314.6,335.2L315.8,335.9L317.2,336.6L318.5,337.3L319.8,338.0L321.1,338.6L322.4,339.3L323.8,339.9L325.1,340.5L326.5,341.1L327.8,341.7L329.2,342.3L330.5,342.8L331.9,343.4L333.3,343.9L334.7,344.5L336.1,345.0L337.4,345.5L338.8,346.0L340.2,346.5L341.7,347.0L343.1,347.4L344.5,347.9L345.9,348.3L347.3,348.8L348.8,349.2L350.2,349.6L351.6,350.0L353.1,350.4L354.5,350.8L356.0,351.2L357.4,351.6L358.9,351.9L360.4,352.3L361.8,352.6L363.3,353.0L364.8,353.3L366.3,353.6L367.7,353.9L369.2,354.3L370.7,354.6L372.2,354.9L373.7,355.1L375.2,355.4L376.7,355.7L378.2,356.0L379.7,356.2L381.2,356.5L382.7,356.8L384.2,357.0L385.7,357.2L387.2,357.5L388.7,357.7L390.2,357.9L391.7,358.2L393.3,358.4L394.8,358.6L396.3,358.8L397.8,359.0L399.3,359.2L400.8,359.4L402.4,359.6L403.9,359.8L405.4,360.0L406.9,360.2L408.5,360.3L410.0,360.5L411.5,360.7L413.0,360.9L414.5,361.0L416.1,361.2L417.6,361.4L419.1,361.6L420.6,361.7L422.1,361.9L423.6,362.1L425.2,362.2L426.7,362.4L428.2,362.5L429.7,362.7L431.2,362.9L432.7,363.0L434.2,363.2L435.7,363.3L437.2,363.5L438.7,363.7L440.2,363.8L441.7,364.0L443.2,364.2L444.7,364.3L446.2,364.5L447.7,364.7L449.2,364.8L450.6,365.0L452.1,365.2L453.6,365.4L455.0,365.6L456.5,365.7L458.0,365.9L459.4,366.1L460.9,366.3L462.4,366.5L463.8,366.7L465.3,366.9L466.7,367.1L468.2,367.3L469.6,367.6L471.1,367.8L472.5,368.0L474.0,368.2L475.4,368.5L476.9,368.7L478.3,369.0L479.8,369.2L481.2,369.5L482.7,369.8L484.1,370.1L485.5,370.3L487.0,370.6L488.4,370.9L489.9,371.2L491.3,371.6L492.8,371.9L494.2,372.2L495.7,372.5L497.1,372.9L498.6,373.3L500.0,373.6L501.5,374.0L502.9,374.4L504.4,374.8L505.8,375.2L507.3,375.6L508.7,376.0L510.1,376.5L511.6,376.9L513.0,377.4L514.4,377.9L515.9,378.4L517.3,378.9L518.7,379.4L520.1,379.9L521.6,380.5L523.0,381.0L524.4,381.6L525.8,382.2L527.2,382.8L528.6,383.4L529.9,384.0L531.3,384.7L532.7,385.3L534.1,386.0L535.4,386.7L536.8,387.3L538.2,388.0L539.5,388.7L540.9,389.4L542.2,390.1L543.6,390.8L545.0,391.5L546.3,392.1L547.7,392.8L549.0,393.4L550.4,394.1L551.8,394.7L553.1,395.3L554.5,395.9L555.9,396.4L557.3,397.0L558.7,397.5L560.0,398.0L561.4,398.5L562.8,399.0L564.2,399.5L565.6,399.9L567.0,400.3L568.4,400.7L569.9,401.1L571.3,401.5L572.7,401.9L574.1,402.2L575.5,402.5L577.0,402.8L578.4,403.1L579.8,403.4L581.3,403.7L582.7,403.9L584.1,404.1L585.6,404.3L587.0,404.5L588.5,404.7L589.9,404.8L591.4,405.0L592.9,405.1L594.3,405.2L595.8,405.3L597.3,405.3L598.8,405.4L600.2,405.4L601.7,405.4L603.2,405.4L604.7,405.4L606.2,405.3L607.7,405.3L609.2,405.2L610.7,405.1L612.2,405.0L613.7,404.8L615.2,404.7L616.8,404.5L618.3,404.4L619.8,404.2L621.3,404.0L622.8,403.8L624.4,403.6L625.9,403.4L627.4,403.2L628.9,403.0L630.5,402.8L632.0,402.5L633.5,402.3L635.0,402.1L636.6,401.9L638.1,401.7L639.6,401.5L641.1,401.4L642.6,401.2L644.2,401.0L645.7,400.9L647.2,400.8L648.7,400.7L650.2,400.6L651.7,400.5L653.2,400.4L654.6,400.4L656.1,400.4L657.6,400.4L659.1,400.5L660.5,400.5L662.0,400.6L663.5,400.7L664.9,400.9L666.3,401.1L667.8,401.3L669.2,401.6L670.6,401.9L672.0,402.2L673.4,402.6L674.8,403.0L676.2,403.4L677.6,403.9L678.9,404.4L680.3,405.0L681.7,405.5L683.0,406.1L684.3,406.8L685.7,407.4L687.0,408.1L688.3,408.9L689.6,409.6L690.9,410.4L692.2,411.2L693.4,412.0L694.7,412.9L695.9,413.7L697.2,414.6L698.4,415.6L699.7,416.5L700.9,417.5L702.1,418.4L703.3,419.4L704.5,420.5L705.6,421.5L706.8,422.5L708.0,423.6L709.1,424.7L710.3,425.8L711.4,426.9L712.5,428.0L713.6,429.2L714.7,430.3L715.8,431.4L716.9,432.6L717.9,433.8L719.0,435.0L720.0,436.1L721.1,437.3L722.1,438.5L723.1,439.7L724.1,441.0L725.1,442.2L726.1,443.4L727.1,444.6L728.0,445.8L729.0,447.0L729.9,448.2L730.8,449.4L731.7,450.7L732.6,451.9L733.5,453.1L734.4,454.3L735.3,455.5L736.1,456.6L737.0,457.8L737.8,459.0L738.6,460.2L739.4,461.3L740.2,462.5L741.0,463.6L741.8,464.7L742.5,465.8L743.3,466.9L744.0,468.0" stroke="#0000ff"/>
<path d="M128.0,18.5L128.4,19.9L128.9,21.4L129.4,22.8L129.9,24.2L130.4,25.6L130.9,27.0L131.4,28.4L132.0,29.8L132.5,31.2L133.1,32.6L133.7,34.0L134.3,35.3L134.9,36.7L135.5,38.1L136.1,39.4L136.7,40.8L137.4,42.1L138.0,43.5L138.7,44.8L139.4,46.1L140.0,47.5L140.7,48.8L141.4,50.1L142.1,51.4L142.8,52.8L143.5,54.1L144.2,55.4L144.9,56.7L145.6,58.0L146.3,59.4L147.0,60.7L147.7,62.0L148.4,63.3L149.2,64.6L149.9,66.0L150.6,67.3L151.3,68.6L152.0,69.9L152.7,71.2L153.4,72.6L154.1,73.9L154.8,75.2L155.5,76.6L156.2,77.9L156.9,79.3L157.5,80.6L158.2,81.9L158.8,83.3L159.5,84.7L160.1,86.0L160.8,87.4L161.4,88.7L162.1,90.1L162.7,91.5L163.3,92.9L163.9,94.2L164.6,95.6L165.2,97.0L165.8,98.4L166.4,99.7L167.0,101.1L167.7,102.5L168.3,103.9L168.9,105.2L169.5,106.6L170.1,108.0L170.7,109.4L171.3,110.7L172.0,112.1L172.6,113.5L173.2,114.8L173.8,116.2L174.5,117.6L175.1,118.9L175.7,120.3L176.4,121.6L177.0,123.0L177.7,124.3L178.4,125.6L179.0,127.0L179.7,128.3L180.4,129.6L181.0,131.0L181.7,132.3L182.4,133.6L183.1,134.9L183.8,136.2L184.5,137.5L185.2,138.8L185.9,140.1L186.6,141.5L187.3,142.8L188.0,144.1L188.7,145.3L189.4,146.6L190.2,147.9L190.9,149.2L191.6,150.5L192.3,151.8L193.1,153.1L193.8,154.4L194.6,155.7L195.3,156.9L196.0,158.2L196.8,159.5L197.5,160.8L198.3,162.1L199.0,163.3L199.8,164.6L200.6,165.9L201.3,167.2L202.1,168.5L202.8,169.7L203.6,171.0L204.4,172.3L205.1,173.6L205.9,174.8L206.7,176.1L207.5,177.4L208.2,178.7L209.0,179.9L209.8,181.2L210.6,182.5L211.3,183.8L212.1,185.1L212.9,186.4L213.7,187.6L214.5,188.9L215.3,190.2L216.0,191.5L216.8,192.8L217.6,194.1L218.4,195.4L219.2,196.7L220.0,198.0L220.7,199.3L221.5,200.6L222.3,201.9L223.1,203.2L223.9,204.5L224.7,205.8L225.5,207.1L226.3,208.4L227.0,209.7L227.8,211.0L228.6,212.3L229.4,213.6L230.2,214.9L231.0,216.3L231.8,217.6L232.6,218.9L233.4,220.2L234.2,221.5L235.0,222.8L235.9,224.1L236.7,225.4L237.5,226.6L238.3,227.9L239.1,229.2L240.0,230.5L240.8,231.8L241.7,233.1L242.5,234.3L243.4,235.6L244.2,236.8L245.1,238.1L246.0,239.3L246.8,240.6L247.7,241.8L248.6,243.0L249.5,244.3L250.4,245.5L251.3,246.7L252.2,247.9L253.1,249.1L254.1,250.3L255.0,251.4L255.9,252.6L256.9,253.8L257.9,254.9L258.8,256.1L259.8,257.2L260.8,258.3L261.8,259.4L262.8,260.5L263.8,261.6L264.8,262.7L265.9,263.8L266.9,264.8L267.9,265.9L269.0,266.9L270.1,267.9L271.2,268.9L272.3,269.9L273.3,270.9L274.5,271.9L275.6,272.9L276.7,273.8L277.8,274.8L279.0,275.7L280.1,276.6L281.3,277.5L282.4,278.4L283.6,279.3L284.8,280.2L286.0,281.1L287.2,281.9L288.4,282.8L289.6,283.6L290.8,284.4L292.1,285.2L293.3,286.0L294.6,286.8L295.8,287.6L297.1,288.4L298.3,289.1L299.6,289.9L300.9,290.6L302.2,291.3L303.5,292.1L304.8,292.8L306.1,293.5L307.4,294.1L308.7,294.8L310.0,295.5L311.4,296.1L312.7,296.8L314.1,297.4L315.4,298.0L316.8,298.6L318.1,299.2L319.5,299.8L320.9,300.4L322.2,301.0L323.6,301.5L325.0,302.1L326.4,302.6L327.8,303.1L329.2,303.6L330.6,304.1L332.0,304.6L333.4,305.1L334.9,305.6L336.3,306.0L337.7,306.5L339.1,306.9L340.6,307.4L342.0,307.8L343.5,308.2L344.9,308.6L346.4,309.0L347.8,309.4L349.3,309.7L350.7,310.1L352.2,310.4L353.7,310.8L355.1,311.1L356.6,311.4L358.1,311.7L359.6,312.0L361.1,312.3L362.5,312.6L364.0,312.9L365.5,313.1L367.0,313.4L368.5,313.6L370.0,313.8L371.5,314.1L373.0,314.3L374.5,314.5L376.0,314.6L377.5,314.8L379.0,315.0L380.5,315.2L382.0,315.3L383.6,315.4L385.1,315.6L386.6,315.7L388.1,315.8L389.6,315.9L391.1,316.0L392.6,316.1L394.2,316.1L395.7,316.2L397.2,316.2L398.7,316.3L400.2,316.3L401.7,316.3L403.3,316.3L404.8,316.4L406.3,316.3L407.8,316.3L409.3,316.3L410.8,316.3L412.4,316.2L413.9,316.2L415.4,316.1L416.9,316.0L418.4,315.9L419.9,315.9L421.4,315.8L422.9,315.7L424.5,315.6L426.0,315.5L427.5,315.3L429.0,315.2L430.5,315.1L432.0,315.0L433.5,314.8L435.0,314.7L436.5,314.5L438.0,314.4L439.5,314.3L441.0,314.1L442.5,314.0L444.0,313.8L445.5,313.7L447.0,313.5L448.5,313.4L450.0,313.2L451.5,313.1L452.9,312.9L454.4,312.8L455.9,312.7L457.4,312.5L458.9,312.4L460.4,312.3L461.9,312.1L463.3,312.0L464.8,311.9L466.3,311.8L467.8,311.7L469.3,311.6L470.7,311.5L472.2,311.4L473.7,311.4L475.2,311.3L476.6,311.2L478.1,311.2L479.6,311.1L481.0,311.1L482.5,311.1L484.0,311.1L485.4,311.1L486.9,311.1L488.3,311.1L489.8,311.1L491.2,311.2L492.7,311.2L494.1,311.3L495.6,311.4L497.0,311.5L498.5,311.6L499.9,311.8L501.4,311.9L502.8,312.1L504.3,312.2L505.7,312.4L507.1,312.6L508.6,312.9L510.0,313.1L511.4,313.4L512.8,313.7L514.3,314.0L515.7,314.3L517.1,314.6L518.5,315.0L520.0,315.3L521.4,315.7L522.8,316.1L524.2,316.5L525.6,316.9L527.0,317.4L528.5,317.8L529.9,318.3L531.3,318.7L532.7,319.2L534.1,319.7L535.5,320.2L536.9,320.7L538.3,321.2L539.7,321.8L541.1,322.3L542.5,322.9L543.9,323.4L545.3,324.0L546.7,324.5L548.1,325.1L549.5,325.7L551.0,326.3L552.4,326.9L553.8,327.5L555.2,328.1L556.6,328.7L558.0,329.3L559.4,329.9L560.8,330.5L562.2,331.1L563.6,331.8L565.0,332.4L566.4,333.0L567.8,333.6L569.2,334.2L570.6,334.9L572.0,335.5L573.4,336.1L574.8,336.7L576.3,337.3L577.7,337.9L579.1,338.5L580.5,339.1L581.9,339.7L583.3,340.3L584.7,340.9L586.2,341.5L587.6,342.1L589.0,342.7L590.4,343.2L591.9,343.8L593.3,344.3L594.7,344.9L596.2,345.4L597.6,345.9L599.0,346.4L600.5,346.9L601.9,347.4L603.3,347.9L604.8,348.4L606.2,348.8L607.7,349.3L609.1,349.7L610.6,350.1L612.0,350.5L613.5,350.9L615.0,351.3L616.4,351.7L617.9,352.1L619.4,352.4L620.8,352.8L622.3,353.1L623.8,353.4L625.2,353.8L626.7,354.1L628.2,354.4L629.6,354.7L631.1,355.0L632.6,355.3L634.0,355.6L635.5,355.9L637.0,356.2L638.4,356.6L639.9,356.9L641.3,357.2L642.8,357.5L644.2,357.8L645.7,358.1L647.1,358.5L648.6,358.8L650.0,359.2L651.5,359.5L652.9,359.9L654.3,360.2L655.7,360.6L657.2,361.0L658.6,361.4L660.0,361.9L661.4,362.3L662.8,362.7L664.2,363.2L665.6,363.7L666.9,364.2L668.3,364.7L669.7,365.2L671.0,365.8L672.4,366.4L673.7,367.0L675.0,367.6L676.4,368.2L677.7,368.9L679.0,369.6L680.3,370.3L681.6,371.0L682.9,371.8L684.2,372.6L685.4,373.4L686.7,374.2L687.9,375.1L689.1,376.0L690.4,376.9L691.6,377.8L692.8,378.7L694.0,379.7L695.1,380.7L696.3,381.7L697.4,382.7L698.6,383.7L699.7,384.8L700.8,385.9L701.9,386.9L703.0,388.0L704.0,389.2L705.1,390.3L706.1,391.4L707.1,392.6L708.1,393.8L709.1,394.9L710.0,396.1L711.0,397.3L711.9,398.5L712.8,399.8L713.7,401.0L714.6,402.2L715.5,403.5L716.3,404.7L717.2,406.0L718.0,407.3L718.8,408.6L719.6,409.9L720.4,411.2L721.2,412.5L722.0,413.8L722.7,415.1L723.4,416.4L724.2,417.7L724.9,419.1L725.6,420.4L726.3,421.7L727.0,423.1L727.7,424.4L728.4,425.8L729.1,427.1L729.7,428.5L730.4,429.8L731.0,431.2L731.7,432.5L732.3,433.9L733.0,435.3L733.6,436.6L734.2,438.0L734.8,439.4L735.5,440.7L736.1,442.1L736.7,443.4L737.3,444.8L737.9,446.1L738.5,447.5L739.1,448.8L739.7,450.2L740.3,451.5L740.9,452.9L741.6,454.2L742.2,455.5L742.8,456.9L743.4,458.2L744.0,459.5" stroke="#ff00ff"/>
<path d="M128.0,18.5L128.3,20.0L128.7,21.4L129.0,22.9L129.4,24.3L129.8,25.8L130.2,27.2L130.6,28.7L131.1,30.1L131.5,31.5L131.9,32.9L132.4,34.4L132.9,35.8L133.4,37.2L133.9,38.6L134.4,40.0L134.9,41.4L135.4,42.8L136.0,44.2L136.5,45.6L137.1,47.0L137.6,48.4L138.2,49.8L138.8,51.2L139.3,52.5L139.9,53.9L140.5,55.3L141.1,56.7L141.7,58.1L142.3,59.5L142.9,60.8L143.5,62.2L144.1,63.6L144.7,65.0L145.3,66.3L145.9,67.7L146.5,69.1L147.1,70.5L147.7,71.8L148.3,73.2L148.9,74.6L149.5,76.0L150.1,77.3L150.7,78.7L151.3,80.1L151.9,81.5L152.5,82.9L153.0,84.2L153.6,85.6L154.2,87.0L154.7,88.4L155.3,89.8L155.9,91.2L156.4,92.6L157.0,94.0L157.5,95.3L158.1,96.7L158.6,98.1L159.2,99.5L159.7,100.9L160.3,102.3L160.8,103.7L161.4,105.1L161.9,106.5L162.4,107.9L163.0,109.3L163.5,110.7L164.0,112.1L164.6,113.5L165.1,114.9L165.7,116.2L166.2,117.6L166.7,119.0L167.3,120.4L167.8,121.8L168.4,123.2L168.9,124.6L169.4,126.0L170.0,127.4L170.5,128.8L171.1,130.2L171.6,131.6L172.2,132.9L172.8,134.3L173.3,135.7L173.9,137.1L174.5,138.5L175.0,139.9L175.6,141.2L176.2,142.6L176.8,144.0L177.4,145.4L177.9,146.8L178.5,148.1L179.1,149.5L179.8,150.9L180.4,152.2L181.0,153.6L181.6,155.0L182.2,156.3L182.9,157.7L183.5,159.1L184.1,160.4L184.8,161.8L185.4,163.1L186.1,164.5L186.7,165.8L187.4,167.2L188.0,168.5L188.7,169.9L189.4,171.2L190.0,172.6L190.7,173.9L191.4,175.3L192.1,176.6L192.8,178.0L193.4,179.3L194.1,180.6L194.8,182.0L195.5,183.3L196.2,184.6L196.9,186.0L197.6,187.3L198.3,188.6L199.0,190.0L199.7,191.3L200.5,192.6L201.2,193.9L201.9,195.3L202.6,196.6L203.3,197.9L204.0,199.2L204.8,200.6L205.5,201.9L206.2,203.2L206.9,204.5L207.7,205.8L208.4,207.2L209.1,208.5L209.8,209.8L210.6,211.1L211.3,212.4L212.0,213.7L212.7,215.0L213.5,216.3L214.2,217.7L214.9,219.0L215.7,220.3L216.4,221.6L217.1,222.9L217.8,224.2L218.6,225.5L219.3,226.8L220.0,228.1L220.8,229.4L221.5,230.7L222.2,232.0L222.9,233.3L223.6,234.6L224.4,235.9L225.1,237.2L225.8,238.5L226.5,239.8L227.2,241.1L227.9,242.4L228.7,243.7L229.4,245.0L230.1,246.3L230.8,247.6L231.5,248.9L232.2,250.2L233.0,251.5L233.7,252.8L234.5,254.0L235.2,255.3L236.0,256.6L236.7,257.9L237.5,259.1L238.3,260.4L239.1,261.7L239.9,262.9L240.7,264.1L241.5,265.4L242.4,266.6L243.2,267.9L244.1,269.1L244.9,270.3L245.8,271.5L246.7,272.7L247.6,273.9L248.5,275.1L249.4,276.3L250.3,277.5L251.3,278.7L252.2,279.9L253.2,281.0L254.1,282.2L255.1,283.4L256.1,284.5L257.1,285.7L258.1,286.8L259.1,287.9L260.1,289.0L261.1,290.2L262.2,291.3L263.2,292.4L264.3,293.5L265.3,294.6L266.4,295.6L267.5,296.7L268.6,297.8L269.7,298.8L270.8,299.9L271.9,300.9L273.0,301.9L274.1,303.0L275.2,304.0L276.4,305.0L277.5,306.0L278.7,307.0L279.8,307.9L281.0,308.9L282.2,309.9L283.4,310.8L284.5,311.8L285.7,312.7L286.9,313.6L288.2,314.5L289.4,315.4L290.6,316.3L291.8,317.2L293.1,318.1L294.3,319.0L295.5,319.8L296.8,320.7L298.1,321.5L299.3,322.3L300.6,323.1L301.9,323.9L303.2,324.7L304.4,325.5L305.7,326.3L307.0,327.0L308.3,327.8L309.7,328.5L311.0,329.2L312.3,329.9L313.6,330.6L315.0,331.3L316.3,332.0L317.6,332.7L319.0,333.3L320.3,334.0L321.7,334.6L323.0,335.2L324.4,335.8L325.8,336.4L327.1,337.0L328.5,337.5L329.9,338.1L331.3,338.6L332.7,339.2L334.1,339.7L335.5,340.2L336.9,340.7L338.3,341.2L339.7,341.7L341.1,342.1L342.5,342.6L343.9,343.0L345.3,343.4L346.8,343.9L348.2,344.3L349.6,344.7L351.1,345.1L352.5,345.5L353.9,345.9L355.4,346.2L356.8,346.6L358.3,346.9L359.7,347.3L361.2,347.6L362.6,348.0L364.1,348.3L365.6,348.6L367.0,348.9L368.5,349.2L369.9,349.5L371.4,349.8L372.9,350.1L374.4,350.4L375.8,350.6L377.3,350.9L378.8,351.2L380.3,351.4L381.8,351.7L383.2,351.9L384.7,352.2L386.2,352.4L387.7,352.7L389.2,352.9L390.7,353.1L392.2,353.3L393.7,353.6L395.2,353.8L396.6,354.0L398.1,354.2L399.6,354.4L401.1,354.6L402.6,354.8L404.1,355.0L405.6,355.2L407.1,355.4L408.6,355.6L410.1,355.8L411.6,356.0L413.1,356.2L414.6,356.4L416.1,356.6L417.6,356.8L419.1,357.0L420.6,357.2L422.1,357.4L423.6,357.6L425.1,357.8L426.6,358.0L428.1,358.2L429.6,358.4L431.1,358.6L432.6,358.8L434.1,359.1L435.6,359.3L437.1,359.5L438.5,359.7L440.0,359.9L441.5,360.1L443.0,360.4L444.5,360.6L446.0,360.8L447.5,361.1L448.9,361.3L450.4,361.6L451.9,361.8L453.4,362.1L454.8,362.3L456.3,362.6L457.8,362.9L459.2,363.1L460.7,363.4L462.2,363.7L463.6,364.0L465.1,364.3L466.6,364.6L468.0,364.9L469.5,365.2L470.9,365.5L472.4,365.8L473.8,366.2L475.3,366.5L476.7,366.8L478.2,367.2L479.6,367.5L481.0,367.9L482.5,368.2L483.9,368.6L485.4,369.0L486.8,369.3L488.2,369.7L489.7,370.1L491.1,370.5L492.5,370.9L493.9,371.3L495.4,371.7L496.8,372.1L498.2,372.5L499.6,372.9L501.1,373.4L502.5,373.8L503.9,374.2L505.3,374.7L506.7,375.1L508.1,375.6L509.5,376.1L510.9,376.5L512.3,377.0L513.7,377.5L515.1,378.0L516.5,378.5L517.9,379.0L519.3,379.5L520.7,380.0L522.1,380.6L523.5,381.1L524.9,381.6L526.3,382.2L527.7,382.7L529.1,383.3L530.5,383.8L531.8,384.4L533.2,385.0L534.6,385.6L536.0,386.2L537.4,386.8L538.7,387.4L540.1,388.0L541.5,388.6L542.8,389.2L544.2,389.8L545.6,390.5L546.9,391.1L548.3,391.8L549.7,392.4L551.0,393.1L552.4,393.8L553.7,394.5L555.1,395.2L556.4,395.9L557.8,396.5L559.1,397.2L560.5,397.9L561.9,398.6L563.2,399.3L564.6,400.0L565.9,400.7L567.3,401.4L568.6,402.0L570.0,402.7L571.3,403.3L572.7,404.0L574.1,404.6L575.4,405.2L576.8,405.8L578.1,406.4L579.5,407.0L580.9,407.5L582.3,408.0L583.6,408.6L585.0,409.0L586.4,409.5L587.8,410.0L589.2,410.4L590.6,410.8L592.0,411.1L593.4,411.5L594.8,411.8L596.2,412.1L597.6,412.3L599.0,412.5L600.4,412.7L601.9,412.8L603.3,412.9L604.8,413.0L606.2,413.0L607.7,413.0L609.1,413.0L610.6,412.9L612.1,412.8L613.6,412.6L615.0,412.4L616.5,412.1L618.0,411.9L619.5,411.6L621.0,411.3L622.6,411.0L624.1,410.6L625.6,410.2L627.1,409.9L628.6,409.5L630.1,409.1L631.7,408.7L633.2,408.3L634.7,407.9L636.3,407.6L637.8,407.2L639.3,406.8L640.8,406.5L642.4,406.2L643.9,405.9L645.4,405.6L646.9,405.4L648.5,405.1L650.0,404.9L651.5,404.8L653.0,404.6L654.5,404.5L656.0,404.4L657.5,404.4L659.0,404.4L660.5,404.4L662.0,404.4L663.5,404.5L664.9,404.6L666.4,404.7L667.9,404.9L669.3,405.1L670.8,405.3L672.2,405.6L673.7,405.9L675.1,406.2L676.5,406.6L677.9,407.0L679.3,407.4L680.8,407.8L682.2,408.3L683.5,408.8L684.9,409.3L686.3,409.9L687.7,410.5L689.0,411.1L690.4,411.7L691.7,412.4L693.0,413.1L694.4,413.8L695.7,414.5L697.0,415.3L698.3,416.1L699.6,416.9L700.9,417.7L702.2,418.5L703.4,419.4L704.7,420.2L705.9,421.1L707.2,422.0L708.4,422.9L709.6,423.9L710.8,424.8L712.0,425.8L713.2,426.8L714.4,427.8L715.6,428.8L716.7,429.8L717.9,430.8L719.0,431.9L720.2,432.9L721.3,434.0L722.4,435.0L723.5,436.1L724.6,437.2L725.7,438.3L726.7,439.4L727.8,440.5L728.8,441.6L729.9,442.7L730.9,443.8L731.9,444.9L732.9,446.1L733.9,447.2L734.9,448.3L735.8,449.4L736.8,450.6L737.7,451.7L738.7,452.8L739.6,453.9L740.5,455.1L741.4,456.2L742.3,457.3L743.1,458.4L744.0,459.5" stroke="#ff00ff"/>
<path d="M128.0,17.8L128.5,19.2L129.0,20.6L129.6,22.0L130.1,23.4L130.7,24.8L131.3,26.2L131.9,27.5L132.4,28.9L133.0,30.3L133.6,31.7L134.3,33.0L134.9,34.4L135.5,35.7L136.1,37.1L136.8,38.4L137.4,39.8L138.1,41.1L138.7,42.5L139.4,43.8L140.1,45.2L140.7,46.5L141.4,47.8L142.1,49.2L142.8,50.5L143.5,51.8L144.1,53.2L144.8,54.5L145.5,55.8L146.2,57.2L146.9,58.5L147.6,59.8L148.3,61.1L149.0,62.5L149.7,63.8L150.4,65.1L151.1,66.5L151.8,67.8L152.5,69.1L153.2,70.5L153.9,71.8L154.6,73.1L155.3,74.5L156.0,75.8L156.6,77.1L157.3,78.5L158.0,79.8L158.7,81.2L159.3,82.5L160.0,83.9L160.6,85.3L161.3,86.6L161.9,88.0L162.6,89.3L163.2,90.7L163.9,92.1L164.5,93.4L165.2,94.8L165.8,96.2L166.4,97.5L167.1,98.9L167.7,100.3L168.3,101.6L169.0,103.0L169.6,104.4L170.2,105.7L170.9,107.1L171.5,108.4L172.2,109.8L172.8,111.2L173.4,112.5L174.1,113.9L174.7,115.2L175.4,116.6L176.0,117.9L176.7,119.3L177.4,120.6L178.0,121.9L178.7,123.3L179.4,124.6L180.0,125.9L180.7,127.3L181.4,128.6L182.1,129.9L182.8,131.2L183.5,132.5L184.2,133.9L184.9,135.2L185.6,136.5L186.3,137.8L187.0,139.1L187.7,140.4L188.4,141.7L189.1,143.0L189.8,144.3L190.6,145.6L191.3,146.9L192.0,148.1L192.8,149.4L193.5,150.7L194.2,152.0L195.0,153.3L195.7,154.6L196.5,155.9L197.2,157.1L198.0,158.4L198.7,159.7L199.5,161.0L200.2,162.3L201.0,163.5L201.7,164.8L202.5,166.1L203.3,167.4L204.0,168.6L204.8,169.9L205.6,171.2L206.3,172.5L207.1,173.7L207.9,175.0L208.7,176.3L209.4,177.6L210.2,178.9L211.0,180.1L211.8,181.4L212.6,182.7L213.4,184.0L214.1,185.2L214.9,186.5L215.7,187.8L216.5,189.1L217.3,190.4L218.1,191.7L218.9,192.9L219.7,194.2L220.5,195.5L221.3,196.8L222.1,198.1L222.9,199.4L223.7,200.7L224.5,202.0L225.3,203.3L226.1,204.6L226.9,205.9L227.7,207.2L228.5,208.5L229.3,209.8L230.1,211.1L230.9,212.4L231.7,213.7L232.5,215.0L233.4,216.3L234.2,217.6L235.0,218.9L235.8,220.2L236.7,221.5L237.5,222.8L238.3,224.0L239.2,225.3L240.0,226.6L240.9,227.9L241.7,229.1L242.6,230.4L243.5,231.7L244.3,232.9L245.2,234.2L246.1,235.4L247.0,236.6L247.9,237.9L248.8,239.1L249.7,240.3L250.6,241.5L251.5,242.7L252.5,243.9L253.4,245.1L254.3,246.3L255.3,247.4L256.2,248.6L257.2,249.8L258.2,250.9L259.2,252.0L260.2,253.2L261.2,254.3L262.2,255.4L263.2,256.5L264.2,257.5L265.2,258.6L266.3,259.7L267.3,260.7L268.4,261.8L269.5,262.8L270.6,263.8L271.7,264.8L272.8,265.8L273.9,266.8L275.0,267.7L276.1,268.7L277.3,269.6L278.4,270.6L279.6,271.5L280.7,272.4L281.9,273.3L283.1,274.2L284.2,275.0L285.4,275.9L286.6,276.8L287.9,277.6L289.1,278.4L290.3,279.3L291.5,280.1L292.8,280.9L294.0,281.6L295.3,282.4L296.5,283.2L297.8,283.9L299.1,284.7L300.4,285.4L301.6,286.1L302.9,286.8L304.2,287.5L305.6,288.2L306.9,288.9L308.2,289.6L309.5,290.2L310.8,290.9L312.2,291.5L313.5,292.1L314.9,292.7L316.2,293.3L317.6,293.9L319.0,294.5L320.3,295.1L321.7,295.6L323.1,296.2L324.5,296.7L325.9,297.2L327.3,297.7L328.7,298.2L330.1,298.7L331.5,299.2L332.9,299.7L334.4,300.1L335.8,300.6L337.2,301.0L338.6,301.5L340.1,301.9L341.5,302.3L343.0,302.7L344.4,303.1L345.9,303.4L347.3,303.8L348.8,304.2L350.3,304.5L351.7,304.8L353.2,305.2L354.7,305.5L356.1,305.8L357.6,306.1L359.1,306.4L360.6,306.6L362.1,306.9L363.6,307.2L365.1,307.4L366.6,307.6L368.1,307.9L369.6,308.1L371.1,308.3L372.6,308.5L374.1,308.6L375.6,308.8L377.1,309.0L378.6,309.1L380.1,309.3L381.6,309.4L383.1,309.5L384.7,309.6L386.2,309.7L387.7,309.8L389.2,309.9L390.7,310.0L392.2,310.0L393.8,310.1L395.3,310.1L396.8,310.2L398.3,310.2L399.9,310.2L401.4,310.2L402.9,310.2L404.4,310.2L405.9,310.2L407.5,310.1L409.0,310.1L410.5,310.0L412.0,310.0L413.5,309.9L415.1,309.8L416.6,309.7L418.1,309.6L419.6,309.5L421.1,309.4L422.7,309.3L424.2,309.2L425.7,309.0L427.2,308.9L428.7,308.8L430.2,308.6L431.7,308.5L433.3,308.3L434.8,308.2L436.3,308.0L437.8,307.9L439.3,307.7L440.8,307.5L442.3,307.4L443.8,307.2L445.3,307.0L446.8,306.9L448.3,306.7L449.8,306.6L451.3,306.4L452.8,306.2L454.3,306.1L455.8,305.9L457.3,305.8L458.8,305.6L460.3,305.5L461.7,305.4L463.2,305.2L464.7,305.1L466.2,305.0L467.7,304.9L469.2,304.8L470.6,304.7L472.1,304.6L473.6,304.5L475.1,304.4L476.5,304.4L478.0,304.3L479.5,304.3L480.9,304.2L482.4,304.2L483.9,304.2L485.3,304.2L486.8,304.2L488.2,304.2L489.7,304.3L491.1,304.3L492.6,304.4L494.0,304.5L495.5,304.6L496.9,304.7L498.4,304.8L499.8,305.0L501.2,305.1L502.7,305.3L504.1,305.5L505.5,305.7L507.0,305.9L508.4,306.2L509.8,306.4L511.2,306.7L512.6,307.0L514.1,307.3L515.5,307.7L516.9,308.0L518.3,308.4L519.7,308.8L521.1,309.2L522.5,309.6L523.9,310.1L525.3,310.5L526.7,311.0L528.1,311.5L529.5,312.0L530.9,312.5L532.3,313.0L533.7,313.5L535.1,314.0L536.4,314.6L537.8,315.2L539.2,315.7L540.6,316.3L542.0,316.9L543.4,317.5L544.8,318.1L546.1,318.7L547.5,319.4L548.9,320.0L550.3,320.6L551.7,321.3L553.1,321.9L554.4,322.6L555.8,323.2L557.2,323.9L558.6,324.6L560.0,325.2L561.3,325.9L562.7,326.6L564.1,327.2L565.5,327.9L566.9,328.6L568.3,329.3L569.6,330.0L571.0,330.6L572.4,331.3L573.8,332.0L575.2,332.6L576.6,333.3L578.0,334.0L579.4,334.6L580.8,335.3L582.2,336.0L583.6,336.6L585.0,337.3L586.4,337.9L587.8,338.5L589.2,339.2L590.6,339.8L592.0,340.4L593.4,341.0L594.8,341.6L596.2,342.2L597.6,342.8L599.1,343.3L600.5,343.9L601.9,344.4L603.3,345.0L604.8,345.5L606.2,346.0L607.6,346.5L609.1,347.0L610.5,347.5L611.9,347.9L613.4,348.4L614.8,348.8L616.3,349.2L617.7,349.6L619.2,350.0L620.7,350.4L622.1,350.8L623.6,351.2L625.0,351.5L626.5,351.9L628.0,352.2L629.4,352.6L630.9,352.9L632.3,353.3L633.8,353.6L635.3,354.0L636.7,354.3L638.2,354.6L639.6,355.0L641.1,355.3L642.5,355.6L644.0,356.0L645.4,356.3L646.9,356.7L648.3,357.0L649.8,357.4L651.2,357.8L652.7,358.1L654.1,358.5L655.5,358.9L656.9,359.3L658.4,359.7L659.8,360.1L661.2,360.5L662.6,361.0L664.0,361.4L665.4,361.9L666.8,362.4L668.2,362.9L669.5,363.4L670.9,363.9L672.3,364.4L673.6,365.0L675.0,365.6L676.3,366.2L677.7,366.8L679.0,367.4L680.3,368.1L681.6,368.8L682.9,369.5L684.2,370.2L685.5,371.0L686.8,371.8L688.0,372.5L689.3,373.4L690.5,374.2L691.8,375.0L693.0,375.9L694.2,376.8L695.4,377.7L696.6,378.7L697.8,379.6L698.9,380.6L700.1,381.6L701.2,382.6L702.4,383.6L703.5,384.6L704.6,385.7L705.6,386.7L706.7,387.8L707.8,388.9L708.8,390.1L709.8,391.2L710.8,392.3L711.8,393.5L712.8,394.7L713.7,395.9L714.7,397.1L715.6,398.3L716.5,399.5L717.4,400.8L718.2,402.0L719.1,403.3L719.9,404.6L720.7,405.9L721.6,407.2L722.3,408.5L723.1,409.8L723.9,411.1L724.7,412.4L725.4,413.8L726.2,415.1L726.9,416.5L727.6,417.8L728.3,419.2L729.0,420.5L729.7,421.9L730.4,423.3L731.0,424.6L731.7,426.0L732.4,427.4L733.0,428.8L733.6,430.1L734.3,431.5L734.9,432.9L735.5,434.3L736.2,435.6L736.8,437.0L737.4,438.4L738.0,439.7L738.6,441.1L739.2,442.4L739.8,443.8L740.4,445.1L741.0,446.4L741.6,447.8L742.2,449.1L742.8,450.4L743.4,451.7L744.0,453.0" stroke="#008000"/>
<path d="M128.0,17.8L128.5,19.2L129.0,20.6L129.5,22.0L130.0,23.4L130.5,24.8L131.0,26.2L131.5,27.7L132.0,29.1L132.5,30.5L133.0,31.9L133.5,33.3L134.0,34.7L134.5,36.1L135.0,37.5L135.5,38.9L136.0,40.3L136.5,41.7L137.0,43.1L137.5,44.5L138.1,45.9L138.6,47.3L139.1,48.7L139.6,50.1L140.1,51.5L140.6,52.9L141.2,54.3L141.7,55.7L142.2,57.2L142.7,58.6L143.3,60.0L143.8,61.4L144.3,62.8L144.9,64.2L145.4,65.6L145.9,67.0L146.5,68.3L147.0,69.7L147.5,71.1L148.1,72.5L148.6,73.9L149.2,75.3L149.7,76.7L150.3,78.1L150.8,79.5L151.4,80.9L151.9,82.3L152.5,83.7L153.0,85.1L153.6,86.5L154.1,87.9L154.7,89.3L155.3,90.6L155.8,92.0L156.4,93.4L157.0,94.8L157.5,96.2L158.1,97.6L158.7,99.0L159.2,100.3L159.8,101.7L160.4,103.1L161.0,104.5L161.6,105.9L162.1,107.3L162.7,108.6L163.3,110.0L163.9,111.4L164.5,112.8L165.1,114.1L165.7,115.5L166.3,116.9L166.9,118.3L167.5,119.6L168.1,121.0L168.7,122.4L169.3,123.7L169.9,125.1L170.5,126.5L171.1,127.8L171.8,129.2L172.4,130.6L173.0,131.9L173.6,133.3L174.2,134.6L174.9,136.0L175.5,137.4L176.1,138.7L176.8,140.1L177.4,141.4L178.0,142.8L178.7,144.1L179.3,145.5L180.0,146.8L180.6,148.2L181.2,149.5L181.9,150.9L182.6,152.2L183.2,153.6L183.9,154.9L184.5,156.3L185.2,157.6L185.9,158.9L186.5,160.3L187.2,161.6L187.9,162.9L188.5,164.3L189.2,165.6L189.9,166.9L190.6,168.3L191.2,169.6L191.9,170.9L192.6,172.3L193.3,173.6L194.0,174.9L194.7,176.2L195.4,177.6L196.0,178.9L196.7,180.2L197.4,181.5L198.1,182.9L198.8,184.2L199.5,185.5L200.2,186.8L200.9,188.2L201.6,189.5L202.3,190.8L203.0,192.1L203.7,193.4L204.5,194.8L205.2,196.1L205.9,197.4L206.6,198.7L207.3,200.0L208.0,201.3L208.7,202.7L209.4,204.0L210.1,205.3L210.9,206.6L211.6,207.9L212.3,209.2L213.0,210.5L213.7,211.9L214.4,213.2L215.2,214.5L215.9,215.8L216.6,217.1L217.3,218.4L218.0,219.7L218.8,221.1L219.5,222.4L220.2,223.7L220.9,225.0L221.6,226.3L222.4,227.6L223.1,228.9L223.8,230.3L224.5,231.6L225.2,232.9L226.0,234.2L226.7,235.5L227.4,236.8L228.1,238.2L228.8,239.5L229.6,240.8L230.3,242.1L231.0,243.4L231.7,244.7L232.5,246.1L233.2,247.4L233.9,248.7L234.7,250.0L235.4,251.3L236.1,252.6L236.9,253.9L237.7,255.2L238.4,256.5L239.2,257.8L240.0,259.0L240.8,260.3L241.6,261.6L242.4,262.8L243.3,264.1L244.1,265.3L245.0,266.5L245.8,267.8L246.7,269.0L247.6,270.2L248.5,271.4L249.4,272.6L250.3,273.8L251.2,274.9L252.2,276.1L253.1,277.3L254.1,278.4L255.1,279.6L256.0,280.7L257.0,281.9L258.0,283.0L259.0,284.1L260.0,285.2L261.1,286.3L262.1,287.4L263.1,288.5L264.2,289.6L265.2,290.6L266.3,291.7L267.4,292.7L268.5,293.8L269.6,294.8L270.7,295.8L271.8,296.8L272.9,297.9L274.0,298.8L275.1,299.8L276.3,300.8L277.4,301.8L278.6,302.8L279.7,303.7L280.9,304.6L282.1,305.6L283.3,306.5L284.5,307.4L285.7,308.3L286.9,309.2L288.1,310.1L289.3,311.0L290.5,311.9L291.8,312.7L293.0,313.6L294.2,314.4L295.5,315.2L296.8,316.1L298.0,316.9L299.3,317.7L300.6,318.5L301.8,319.3L303.1,320.0L304.4,320.8L305.7,321.5L307.0,322.3L308.3,323.0L309.6,323.7L311.0,324.4L312.3,325.1L313.6,325.8L314.9,326.5L316.3,327.2L317.6,327.8L319.0,328.5L320.3,329.1L321.7,329.7L323.0,330.4L324.4,331.0L325.8,331.6L327.1,332.1L328.5,332.7L329.9,333.3L331.3,333.8L332.6,334.4L334.0,334.9L335.4,335.4L336.8,335.9L338.2,336.4L339.6,336.9L341.0,337.4L342.4,337.9L343.8,338.4L345.3,338.8L346.7,339.3L348.1,339.7L349.5,340.1L350.9,340.6L352.4,341.0L353.8,341.4L355.2,341.8L356.7,342.2L358.1,342.6L359.6,342.9L361.0,343.3L362.5,343.7L363.9,344.0L365.4,344.4L366.8,344.7L368.3,345.1L369.7,345.4L371.2,345.7L372.7,346.1L374.1,346.4L375.6,346.7L377.1,347.0L378.5,347.3L380.0,347.6L381.5,347.9L383.0,348.2L384.4,348.4L385.9,348.7L387.4,349.0L388.9,349.3L390.4,349.5L391.8,349.8L393.3,350.0L394.8,350.3L396.3,350.5L397.8,350.8L399.3,351.0L400.8,351.3L402.3,351.5L403.8,351.7L405.2,352.0L406.7,352.2L408.2,352.4L409.7,352.7L411.2,352.9L412.7,353.1L414.2,353.3L415.7,353.5L417.2,353.8L418.7,354.0L420.2,354.2L421.7,354.4L423.2,354.6L424.7,354.8L426.2,355.1L427.7,355.3L429.2,355.5L430.7,355.7L432.2,355.9L433.7,356.1L435.2,356.4L436.7,356.6L438.2,356.8L439.7,357.0L441.1,357.2L442.6,357.5L444.1,357.7L445.6,357.9L447.1,358.1L448.6,358.4L450.1,358.6L451.6,358.8L453.1,359.1L454.5,359.3L456.0,359.6L457.5,359.8L459.0,360.1L460.5,360.3L462.0,360.6L463.4,360.8L464.9,361.1L466.4,361.4L467.8,361.6L469.3,361.9L470.8,362.2L472.2,362.5L473.7,362.8L475.2,363.1L476.6,363.4L478.1,363.7L479.5,364.0L481.0,364.4L482.4,364.7L483.9,365.0L485.3,365.4L486.8,365.7L488.2,366.1L489.6,366.5L491.1,366.8L492.5,367.2L493.9,367.6L495.4,368.0L496.8,368.4L498.2,368.9L499.6,369.3L501.0,369.7L502.4,370.2L503.8,370.6L505.2,371.1L506.6,371.6L508.0,372.1L509.4,372.6L510.8,373.1L512.2,373.6L513.6,374.1L514.9,374.7L516.3,375.2L517.7,375.8L519.0,376.4L520.4,377.0L521.8,377.6L523.1,378.2L524.5,378.8L525.8,379.5L527.1,380.1L528.5,380.8L529.8,381.5L531.1,382.2L532.4,382.9L533.7,383.6L535.1,384.4L536.4,385.1L537.7,385.9L539.0,386.6L540.3,387.4L541.6,388.1L542.9,388.9L544.2,389.7L545.5,390.5L546.8,391.3L548.1,392.0L549.4,392.8L550.7,393.6L552.0,394.4L553.3,395.2L554.7,395.9L556.0,396.7L557.3,397.4L558.6,398.2L559.9,399.0L561.3,399.7L562.6,400.4L563.9,401.2L565.3,401.9L566.6,402.6L567.9,403.3L569.3,404.0L570.6,404.7L572.0,405.3L573.3,406.0L574.7,406.6L576.1,407.2L577.4,407.8L578.8,408.4L580.1,409.0L581.5,409.6L582.9,410.1L584.3,410.6L585.7,411.2L587.0,411.6L588.4,412.1L589.8,412.6L591.2,413.0L592.6,413.4L594.0,413.8L595.4,414.1L596.9,414.5L598.3,414.8L599.7,415.1L601.1,415.3L602.5,415.6L604.0,415.8L605.4,416.0L606.9,416.1L608.3,416.2L609.7,416.3L611.2,416.4L612.7,416.4L614.1,416.4L615.6,416.4L617.1,416.4L618.5,416.3L620.0,416.2L621.5,416.1L623.0,416.0L624.5,415.8L625.9,415.7L627.4,415.5L628.9,415.3L630.4,415.1L631.9,414.9L633.4,414.7L634.9,414.4L636.4,414.2L637.9,413.9L639.4,413.7L641.0,413.4L642.5,413.2L644.0,412.9L645.5,412.7L647.0,412.5L648.5,412.2L650.0,412.0L651.5,411.8L653.1,411.5L654.6,411.3L656.1,411.1L657.6,411.0L659.1,410.8L660.6,410.6L662.1,410.5L663.7,410.4L665.2,410.3L666.7,410.2L668.2,410.2L669.7,410.1L671.2,410.1L672.7,410.1L674.2,410.2L675.7,410.3L677.2,410.4L678.7,410.5L680.2,410.6L681.7,410.8L683.2,411.0L684.6,411.3L686.1,411.5L687.6,411.8L689.0,412.1L690.5,412.4L691.9,412.8L693.4,413.2L694.8,413.6L696.2,414.0L697.6,414.4L699.0,414.9L700.4,415.4L701.8,415.9L703.2,416.5L704.6,417.1L705.9,417.7L707.3,418.3L708.6,418.9L710.0,419.6L711.3,420.3L712.6,421.0L713.9,421.7L715.1,422.5L716.4,423.3L717.6,424.1L718.9,424.9L720.1,425.8L721.3,426.7L722.5,427.6L723.7,428.5L724.8,429.4L726.0,430.4L727.1,431.4L728.2,432.4L729.3,433.4L730.4,434.5L731.4,435.6L732.4,436.7L733.5,437.8L734.4,439.0L735.4,440.1L736.4,441.3L737.3,442.5L738.2,443.8L739.1,445.0L740.0,446.3L740.8,447.6L741.7,448.9L742.5,450.3L743.2,451.6L744.0,453.0" stroke="#008000"/>
<path d="M128.0,8.0L128.8,9.2L129.7,10.5L130.5,11.8L131.3,13.0L132.1,14.3L132.8,15.6L133.6,16.9L134.4,18.1L135.1,19.4L135.9,20.7L136.6,22.0L137.3,23.3L138.0,24.7L138.7,26.0L139.4,27.3L140.1,28.6L140.8,30.0L141.5,31.3L142.2,32.6L142.8,34.0L143.5,35.3L144.1,36.7L144.8,38.0L145.4,39.4L146.0,40.7L146.7,42.1L147.3,43.5L147.9,44.8L148.5,46.2L149.1,47.6L149.7,49.0L150.3,50.3L150.9,51.7L151.5,53.1L152.1,54.5L152.6,55.9L153.2,57.3L153.8,58.7L154.3,60.1L154.9,61.5L155.5,62.9L156.0,64.3L156.6,65.7L157.1,67.1L157.7,68.5L158.3,69.9L158.8,71.3L159.4,72.7L159.9,74.1L160.4,75.5L161.0,76.9L161.5,78.3L162.1,79.7L162.6,81.1L163.2,82.5L163.7,83.9L164.3,85.3L164.8,86.7L165.4,88.1L165.9,89.5L166.5,90.9L167.0,92.3L167.6,93.7L168.1,95.1L168.7,96.5L169.3,97.9L169.8,99.3L170.4,100.7L171.0,102.1L171.5,103.4L172.1,104.8L172.7,106.2L173.3,107.6L173.9,109.0L174.5,110.3L175.1,111.7L175.7,113.1L176.3,114.4L176.9,115.8L177.5,117.2L178.1,118.5L178.8,119.9L179.4,121.2L180.0,122.6L180.7,123.9L181.3,125.2L182.0,126.6L182.6,127.9L183.3,129.2L184.0,130.5L184.7,131.9L185.4,133.2L186.0,134.5L186.7,135.8L187.4,137.1L188.1,138.4L188.9,139.7L189.6,141.0L190.3,142.3L191.0,143.6L191.7,144.9L192.5,146.2L193.2,147.5L193.9,148.8L194.7,150.1L195.4,151.4L196.2,152.7L196.9,154.0L197.7,155.2L198.4,156.5L199.2,157.8L200.0,159.1L200.8,160.3L201.5,161.6L202.3,162.9L203.1,164.2L203.9,165.4L204.6,166.7L205.4,168.0L206.2,169.3L207.0,170.5L207.8,171.8L208.6,173.1L209.4,174.3L210.2,175.6L211.0,176.9L211.8,178.1L212.6,179.4L213.4,180.7L214.2,182.0L215.0,183.2L215.9,184.5L216.7,185.8L217.5,187.0L218.3,188.3L219.1,189.6L219.9,190.9L220.7,192.1L221.6,193.4L222.4,194.7L223.2,196.0L224.0,197.3L224.8,198.5L225.7,199.8L226.5,201.1L227.3,202.4L228.1,203.7L228.9,205.0L229.8,206.3L230.6,207.5L231.4,208.8L232.2,210.1L233.1,211.4L233.9,212.7L234.7,214.0L235.6,215.3L236.4,216.5L237.2,217.8L238.1,219.1L238.9,220.4L239.8,221.6L240.6,222.9L241.5,224.2L242.3,225.4L243.2,226.7L244.1,227.9L245.0,229.2L245.8,230.4L246.7,231.7L247.6,232.9L248.5,234.1L249.4,235.3L250.3,236.5L251.2,237.7L252.2,238.9L253.1,240.1L254.0,241.3L255.0,242.5L255.9,243.6L256.9,244.8L257.8,245.9L258.8,247.1L259.8,248.2L260.8,249.3L261.8,250.4L262.8,251.5L263.8,252.6L264.8,253.7L265.9,254.7L266.9,255.8L268.0,256.8L269.1,257.8L270.1,258.9L271.2,259.9L272.3,260.9L273.4,261.8L274.5,262.8L275.7,263.8L276.8,264.7L277.9,265.6L279.1,266.6L280.2,267.5L281.4,268.4L282.6,269.3L283.8,270.1L285.0,271.0L286.2,271.9L287.4,272.7L288.6,273.5L289.8,274.3L291.0,275.2L292.3,276.0L293.5,276.7L294.8,277.5L296.0,278.3L297.3,279.0L298.6,279.8L299.8,280.5L301.1,281.2L302.4,281.9L303.7,282.6L305.0,283.3L306.4,284.0L307.7,284.7L309.0,285.3L310.3,286.0L311.7,286.6L313.0,287.2L314.4,287.8L315.7,288.4L317.1,289.0L318.5,289.6L319.8,290.2L321.2,290.7L322.6,291.3L324.0,291.8L325.4,292.3L326.8,292.8L328.2,293.3L329.6,293.8L331.0,294.3L332.5,294.8L333.9,295.2L335.3,295.7L336.7,296.1L338.2,296.5L339.6,297.0L341.1,297.4L342.5,297.8L344.0,298.1L345.4,298.5L346.9,298.9L348.3,299.2L349.8,299.6L351.3,299.9L352.8,300.2L354.2,300.6L355.7,300.9L357.2,301.1L358.7,301.4L360.2,301.7L361.7,302.0L363.2,302.2L364.7,302.5L366.2,302.7L367.7,302.9L369.2,303.1L370.7,303.3L372.2,303.5L373.7,303.7L375.2,303.9L376.7,304.0L378.2,304.2L379.7,304.3L381.3,304.4L382.8,304.6L384.3,304.7L385.8,304.8L387.3,304.9L388.9,304.9L390.4,305.0L391.9,305.1L393.4,305.1L394.9,305.2L396.5,305.2L398.0,305.2L399.5,305.2L401.0,305.2L402.6,305.2L404.1,305.2L405.6,305.2L407.1,305.1L408.7,305.1L410.2,305.0L411.7,305.0L413.2,304.9L414.8,304.8L416.3,304.7L417.8,304.6L419.3,304.5L420.8,304.4L422.4,304.3L423.9,304.1L425.4,304.0L426.9,303.9L428.4,303.7L429.9,303.6L431.4,303.4L432.9,303.3L434.5,303.1L436.0,303.0L437.5,302.8L439.0,302.6L440.5,302.5L442.0,302.3L443.5,302.1L445.0,302.0L446.5,301.8L448.0,301.6L449.5,301.5L451.0,301.3L452.5,301.2L454.0,301.0L455.5,300.9L456.9,300.7L458.4,300.6L459.9,300.4L461.4,300.3L462.9,300.2L464.4,300.1L465.8,299.9L467.3,299.8L468.8,299.7L470.3,299.6L471.7,299.5L473.2,299.5L474.7,299.4L476.1,299.3L477.6,299.3L479.1,299.3L480.5,299.2L482.0,299.2L483.4,299.2L484.9,299.2L486.3,299.2L487.8,299.3L489.2,299.3L490.7,299.4L492.1,299.5L493.6,299.6L495.0,299.7L496.4,299.8L497.9,299.9L499.3,300.1L500.7,300.3L502.1,300.5L503.6,300.7L505.0,300.9L506.4,301.1L507.8,301.4L509.2,301.7L510.6,302.0L512.0,302.3L513.4,302.7L514.8,303.0L516.2,303.4L517.6,303.8L519.0,304.2L520.4,304.7L521.8,305.1L523.2,305.6L524.6,306.1L526.0,306.6L527.4,307.1L528.7,307.6L530.1,308.1L531.5,308.7L532.9,309.3L534.2,309.8L535.6,310.4L537.0,311.0L538.4,311.6L539.7,312.3L541.1,312.9L542.5,313.5L543.8,314.2L545.2,314.8L546.6,315.5L547.9,316.2L549.3,316.9L550.7,317.5L552.0,318.2L553.4,318.9L554.8,319.6L556.1,320.3L557.5,321.1L558.8,321.8L560.2,322.5L561.6,323.2L562.9,323.9L564.3,324.7L565.7,325.4L567.0,326.1L568.4,326.8L569.8,327.6L571.1,328.3L572.5,329.0L573.9,329.7L575.2,330.4L576.6,331.2L578.0,331.9L579.4,332.6L580.7,333.3L582.1,334.0L583.5,334.7L584.9,335.4L586.3,336.1L587.6,336.7L589.0,337.4L590.4,338.1L591.8,338.7L593.2,339.4L594.6,340.0L596.0,340.6L597.4,341.2L598.8,341.8L600.2,342.4L601.6,343.0L603.0,343.6L604.4,344.1L605.8,344.7L607.2,345.2L608.7,345.7L610.1,346.2L611.5,346.7L612.9,347.2L614.4,347.7L615.8,348.1L617.2,348.6L618.7,349.0L620.1,349.4L621.6,349.8L623.0,350.2L624.4,350.6L625.9,351.0L627.3,351.3L628.8,351.7L630.2,352.1L631.7,352.4L633.1,352.8L634.6,353.1L636.0,353.4L637.5,353.8L638.9,354.1L640.4,354.5L641.8,354.8L643.2,355.2L644.7,355.5L646.1,355.9L647.6,356.2L649.0,356.6L650.4,356.9L651.9,357.3L653.3,357.7L654.7,358.1L656.1,358.5L657.5,358.9L659.0,359.3L660.4,359.7L661.8,360.1L663.2,360.6L664.6,361.0L666.0,361.5L667.3,362.0L668.7,362.5L670.1,363.0L671.5,363.5L672.8,364.1L674.2,364.6L675.5,365.2L676.9,365.8L678.2,366.4L679.6,367.1L680.9,367.8L682.2,368.5L683.5,369.2L684.8,369.9L686.1,370.6L687.4,371.4L688.7,372.2L689.9,373.0L691.2,373.9L692.4,374.7L693.7,375.6L694.9,376.5L696.1,377.4L697.3,378.3L698.5,379.3L699.7,380.2L700.9,381.2L702.0,382.2L703.2,383.2L704.3,384.2L705.4,385.3L706.5,386.3L707.6,387.4L708.7,388.5L709.8,389.6L710.8,390.7L711.9,391.8L712.9,393.0L713.9,394.1L714.9,395.3L715.8,396.5L716.8,397.7L717.7,398.9L718.7,400.1L719.6,401.3L720.5,402.6L721.4,403.8L722.2,405.1L723.1,406.3L723.9,407.6L724.8,408.9L725.6,410.2L726.4,411.5L727.2,412.8L727.9,414.1L728.7,415.4L729.5,416.7L730.2,418.1L730.9,419.4L731.6,420.7L732.4,422.1L733.1,423.4L733.7,424.8L734.4,426.1L735.1,427.5L735.7,428.8L736.4,430.2L737.0,431.6L737.6,432.9L738.3,434.3L738.9,435.6L739.5,437.0L740.1,438.3L740.6,439.7L741.2,441.1L741.8,442.4L742.4,443.8L742.9,445.1L743.5,446.5L744.0,447.8" stroke="#000080"/>
<path d="M128.0,8.0L128.3,9.5L128.5,11.0L128.8,12.4L129.1,13.9L129.4,15.4L129.8,16.8L130.1,18.3L130.4,19.8L130.8,21.2L131.2,22.7L131.6,24.1L132.0,25.6L132.4,27.0L132.8,28.4L133.2,29.9L133.6,31.3L134.1,32.7L134.5,34.2L135.0,35.6L135.5,37.0L135.9,38.4L136.4,39.8L136.9,41.2L137.4,42.7L137.9,44.1L138.4,45.5L138.9,46.9L139.5,48.3L140.0,49.7L140.5,51.1L141.1,52.5L141.6,53.9L142.2,55.3L142.7,56.7L143.3,58.0L143.8,59.4L144.4,60.8L145.0,62.2L145.5,63.6L146.1,65.0L146.7,66.4L147.3,67.8L147.8,69.2L148.4,70.5L149.0,71.9L149.6,73.3L150.2,74.7L150.7,76.1L151.3,77.5L151.9,78.9L152.5,80.2L153.1,81.6L153.6,83.0L154.2,84.4L154.8,85.8L155.4,87.2L155.9,88.6L156.5,89.9L157.1,91.3L157.6,92.7L158.2,94.1L158.8,95.5L159.3,96.9L159.9,98.3L160.5,99.7L161.1,101.0L161.6,102.4L162.2,103.8L162.8,105.2L163.3,106.6L163.9,108.0L164.5,109.4L165.0,110.7L165.6,112.1L166.2,113.5L166.8,114.9L167.3,116.3L167.9,117.7L168.5,119.0L169.1,120.4L169.7,121.8L170.2,123.2L170.8,124.6L171.4,125.9L172.0,127.3L172.6,128.7L173.2,130.1L173.8,131.4L174.4,132.8L175.0,134.2L175.6,135.5L176.2,136.9L176.8,138.3L177.4,139.6L178.0,141.0L178.6,142.3L179.3,143.7L179.9,145.1L180.5,146.4L181.1,147.8L181.8,149.1L182.4,150.5L183.0,151.8L183.7,153.2L184.3,154.5L185.0,155.9L185.6,157.2L186.3,158.6L187.0,159.9L187.6,161.2L188.3,162.6L189.0,163.9L189.6,165.2L190.3,166.6L191.0,167.9L191.7,169.2L192.3,170.6L193.0,171.9L193.7,173.2L194.4,174.5L195.1,175.9L195.8,177.2L196.5,178.5L197.2,179.8L197.9,181.2L198.6,182.5L199.3,183.8L200.0,185.1L200.7,186.4L201.4,187.8L202.2,189.1L202.9,190.4L203.6,191.7L204.3,193.0L205.0,194.3L205.8,195.6L206.5,197.0L207.2,198.3L207.9,199.6L208.7,200.9L209.4,202.2L210.1,203.5L210.8,204.8L211.6,206.1L212.3,207.5L213.0,208.8L213.8,210.1L214.5,211.4L215.2,212.7L216.0,214.0L216.7,215.3L217.4,216.6L218.2,217.9L218.9,219.2L219.7,220.6L220.4,221.9L221.1,223.2L221.9,224.5L222.6,225.8L223.3,227.1L224.1,228.4L224.8,229.7L225.6,231.1L226.3,232.4L227.0,233.7L227.8,235.0L228.5,236.3L229.2,237.6L230.0,239.0L230.7,240.3L231.4,241.6L232.2,242.9L232.9,244.2L233.6,245.5L234.4,246.9L235.1,248.2L235.9,249.5L236.6,250.8L237.4,252.1L238.1,253.4L238.9,254.7L239.7,256.0L240.5,257.2L241.3,258.5L242.1,259.8L242.9,261.0L243.7,262.3L244.6,263.5L245.4,264.8L246.3,266.0L247.2,267.2L248.0,268.4L248.9,269.6L249.9,270.8L250.8,272.0L251.7,273.1L252.6,274.3L253.6,275.5L254.6,276.6L255.5,277.7L256.5,278.9L257.5,280.0L258.5,281.1L259.5,282.2L260.5,283.3L261.6,284.4L262.6,285.5L263.6,286.5L264.7,287.6L265.8,288.6L266.8,289.7L267.9,290.7L269.0,291.7L270.1,292.8L271.2,293.8L272.3,294.8L273.5,295.7L274.6,296.7L275.8,297.7L276.9,298.7L278.1,299.6L279.2,300.5L280.4,301.5L281.6,302.4L282.8,303.3L284.0,304.2L285.2,305.1L286.4,306.0L287.6,306.9L288.8,307.7L290.0,308.6L291.3,309.5L292.5,310.3L293.8,311.1L295.0,312.0L296.3,312.8L297.6,313.6L298.8,314.4L300.1,315.1L301.4,315.9L302.7,316.7L304.0,317.4L305.3,318.2L306.6,318.9L307.9,319.7L309.2,320.4L310.5,321.1L311.9,321.8L313.2,322.5L314.5,323.1L315.9,323.8L317.2,324.5L318.6,325.1L319.9,325.8L321.3,326.4L322.6,327.0L324.0,327.6L325.4,328.2L326.7,328.8L328.1,329.4L329.5,330.0L330.9,330.5L332.3,331.1L333.6,331.6L335.0,332.2L336.4,332.7L337.8,333.2L339.2,333.7L340.6,334.2L342.0,334.7L343.5,335.2L344.9,335.7L346.3,336.2L347.7,336.6L349.1,337.1L350.6,337.5L352.0,338.0L353.4,338.4L354.8,338.8L356.3,339.2L357.7,339.7L359.2,340.1L360.6,340.5L362.0,340.8L363.5,341.2L364.9,341.6L366.4,342.0L367.8,342.3L369.3,342.7L370.8,343.1L372.2,343.4L373.7,343.8L375.1,344.1L376.6,344.4L378.1,344.7L379.5,345.1L381.0,345.4L382.5,345.7L384.0,346.0L385.4,346.3L386.9,346.6L388.4,346.9L389.9,347.2L391.3,347.5L392.8,347.8L394.3,348.1L395.8,348.3L397.3,348.6L398.8,348.9L400.2,349.2L401.7,349.4L403.2,349.7L404.7,349.9L406.2,350.2L407.7,350.5L409.2,350.7L410.7,351.0L412.2,351.2L413.7,351.4L415.1,351.7L416.6,351.9L418.1,352.2L419.6,352.4L421.1,352.7L422.6,352.9L424.1,353.1L425.6,353.4L427.1,353.6L428.6,353.8L430.1,354.1L431.6,354.3L433.1,354.5L434.6,354.8L436.1,355.0L437.6,355.2L439.1,355.5L440.6,355.7L442.0,355.9L443.5,356.2L445.0,356.4L446.5,356.6L448.0,356.9L449.5,357.1L451.0,357.4L452.5,357.6L454.0,357.8L455.4,358.1L456.9,358.3L458.4,358.6L459.9,358.8L461.4,359.1L462.9,359.4L464.3,359.6L465.8,359.9L467.3,360.2L468.8,360.4L470.2,360.7L471.7,361.0L473.2,361.3L474.6,361.6L476.1,361.9L477.6,362.2L479.0,362.5L480.5,362.8L481.9,363.2L483.4,363.5L484.8,363.8L486.3,364.2L487.7,364.5L489.2,364.9L490.6,365.3L492.0,365.6L493.5,366.0L494.9,366.4L496.3,366.8L497.7,367.2L499.1,367.6L500.6,368.1L502.0,368.5L503.4,369.0L504.8,369.4L506.2,369.9L507.6,370.4L508.9,370.9L510.3,371.4L511.7,371.9L513.1,372.4L514.5,373.0L515.8,373.5L517.2,374.1L518.6,374.7L519.9,375.3L521.3,375.9L522.6,376.5L523.9,377.1L525.3,377.8L526.6,378.4L527.9,379.1L529.2,379.8L530.6,380.5L531.9,381.2L533.2,382.0L534.5,382.7L535.8,383.5L537.0,384.2L538.3,385.0L539.6,385.8L540.9,386.6L542.2,387.4L543.5,388.2L544.7,389.1L546.0,389.9L547.3,390.7L548.6,391.6L549.8,392.4L551.1,393.3L552.4,394.1L553.7,395.0L555.0,395.8L556.2,396.7L557.5,397.5L558.8,398.4L560.1,399.2L561.4,400.1L562.7,400.9L564.0,401.8L565.3,402.6L566.5,403.4L567.8,404.3L569.1,405.1L570.4,405.9L571.7,406.7L573.1,407.5L574.4,408.2L575.7,409.0L577.0,409.8L578.3,410.5L579.6,411.2L580.9,411.9L582.3,412.6L583.6,413.3L584.9,413.9L586.3,414.6L587.6,415.2L589.0,415.8L590.3,416.4L591.7,416.9L593.0,417.5L594.4,418.0L595.7,418.5L597.1,418.9L598.5,419.3L599.9,419.8L601.3,420.1L602.6,420.5L604.0,420.8L605.4,421.1L606.8,421.4L608.3,421.6L609.7,421.8L611.1,422.0L612.5,422.1L613.9,422.2L615.4,422.3L616.8,422.3L618.3,422.3L619.7,422.3L621.2,422.3L622.6,422.2L624.1,422.1L625.6,422.0L627.0,421.9L628.5,421.8L630.0,421.6L631.5,421.5L633.0,421.3L634.5,421.1L635.9,420.9L637.4,420.6L638.9,420.4L640.4,420.2L641.9,419.9L643.4,419.7L645.0,419.4L646.5,419.2L648.0,418.9L649.5,418.7L651.0,418.4L652.5,418.2L654.0,417.9L655.6,417.7L657.1,417.4L658.6,417.2L660.1,417.0L661.6,416.7L663.1,416.5L664.7,416.4L666.2,416.2L667.7,416.0L669.2,415.9L670.7,415.8L672.3,415.7L673.8,415.6L675.3,415.5L676.8,415.5L678.3,415.4L679.8,415.4L681.3,415.4L682.8,415.5L684.3,415.5L685.8,415.6L687.3,415.7L688.8,415.8L690.3,416.0L691.8,416.1L693.2,416.3L694.7,416.5L696.1,416.8L697.6,417.0L699.0,417.3L700.5,417.6L701.9,418.0L703.3,418.3L704.7,418.7L706.1,419.1L707.5,419.6L708.9,420.0L710.3,420.5L711.6,421.0L713.0,421.6L714.3,422.2L715.6,422.8L717.0,423.4L718.3,424.1L719.6,424.7L720.8,425.5L722.1,426.2L723.3,427.0L724.6,427.8L725.8,428.6L727.0,429.5L728.2,430.4L729.4,431.3L730.5,432.3L731.7,433.3L732.8,434.3L733.9,435.4L735.0,436.5L736.1,437.6L737.1,438.7L738.2,439.9L739.2,441.2L740.2,442.4L741.2,443.7L742.1,445.0L743.1,446.4L744.0,447.8" stroke="#000080"/>
<path d="M128.0,15.2L128.7,16.5L129.4,17.8L130.0,19.2L130.7,20.5L131.4,21.8L132.1,23.2L132.7,24.5L133.4,25.8L134.1,27.2L134.7,28.5L135.4,29.8L136.0,31.2L136.7,32.5L137.3,33.9L138.0,35.2L138.6,36.6L139.3,37.9L139.9,39.3L140.6,40.6L141.2,42.0L141.9,43.3L142.5,44.7L143.2,46.0L143.8,47.4L144.4,48.8L145.1,50.1L145.7,51.5L146.3,52.9L147.0,54.2L147.6,55.6L148.3,56.9L148.9,58.3L149.5,59.7L150.2,61.0L150.8,62.4L151.4,63.8L152.1,65.1L152.7,66.5L153.3,67.9L154.0,69.2L154.6,70.6L155.2,72.0L155.9,73.3L156.5,74.7L157.1,76.1L157.8,77.4L158.4,78.8L159.0,80.2L159.7,81.5L160.3,82.9L161.0,84.3L161.6,85.6L162.2,87.0L162.9,88.3L163.5,89.7L164.2,91.1L164.8,92.4L165.5,93.8L166.1,95.1L166.8,96.5L167.4,97.8L168.1,99.2L168.7,100.5L169.4,101.9L170.1,103.2L170.7,104.6L171.4,105.9L172.1,107.3L172.7,108.6L173.4,109.9L174.1,111.3L174.8,112.6L175.5,113.9L176.1,115.3L176.8,116.6L177.5,117.9L178.2,119.2L178.9,120.6L179.6,121.9L180.3,123.2L181.0,124.5L181.7,125.8L182.4,127.1L183.1,128.4L183.9,129.7L184.6,131.0L185.3,132.3L186.0,133.6L186.8,134.9L187.5,136.2L188.2,137.5L189.0,138.8L189.7,140.1L190.5,141.4L191.2,142.7L191.9,144.0L192.7,145.3L193.4,146.5L194.2,147.8L195.0,149.1L195.7,150.4L196.5,151.6L197.2,152.9L198.0,154.2L198.8,155.5L199.6,156.7L200.3,158.0L201.1,159.3L201.9,160.6L202.7,161.8L203.4,163.1L204.2,164.4L205.0,165.6L205.8,166.9L206.6,168.2L207.4,169.4L208.2,170.7L209.0,172.0L209.8,173.2L210.6,174.5L211.4,175.7L212.2,177.0L213.0,178.3L213.8,179.5L214.6,180.8L215.4,182.1L216.2,183.3L217.0,184.6L217.8,185.9L218.6,187.1L219.4,188.4L220.2,189.6L221.1,190.9L221.9,192.2L222.7,193.4L223.5,194.7L224.3,196.0L225.2,197.2L226.0,198.5L226.8,199.8L227.6,201.1L228.4,202.3L229.3,203.6L230.1,204.9L230.9,206.1L231.8,207.4L232.6,208.7L233.4,210.0L234.3,211.2L235.1,212.5L236.0,213.8L236.8,215.0L237.6,216.3L238.5,217.5L239.4,218.8L240.2,220.1L241.1,221.3L241.9,222.6L242.8,223.8L243.7,225.0L244.6,226.3L245.5,227.5L246.4,228.7L247.3,229.9L248.2,231.2L249.1,232.4L250.0,233.6L250.9,234.8L251.8,236.0L252.7,237.1L253.7,238.3L254.6,239.5L255.6,240.7L256.5,241.8L257.5,243.0L258.5,244.1L259.5,245.2L260.5,246.3L261.5,247.5L262.5,248.6L263.5,249.6L264.5,250.7L265.5,251.8L266.6,252.9L267.6,253.9L268.7,255.0L269.8,256.0L270.8,257.0L271.9,258.0L273.0,259.0L274.1,260.0L275.2,261.0L276.4,261.9L277.5,262.9L278.6,263.8L279.8,264.7L281.0,265.6L282.1,266.5L283.3,267.4L284.5,268.2L285.7,269.1L287.0,269.9L288.2,270.7L289.4,271.5L290.7,272.3L291.9,273.1L293.2,273.8L294.5,274.6L295.8,275.3L297.1,276.0L298.4,276.7L299.7,277.3L301.1,278.0L302.4,278.6L303.8,279.2L305.1,279.8L306.5,280.4L307.9,281.0L309.3,281.5L310.7,282.1L312.1,282.6L313.5,283.1L314.9,283.7L316.4,284.2L317.8,284.7L319.2,285.2L320.7,285.7L322.1,286.2L323.5,286.6L325.0,287.1L326.4,287.6L327.9,288.1L329.3,288.6L330.8,289.1L332.2,289.6L333.6,290.1L335.1,290.6L336.5,291.1L338.0,291.6L339.4,292.1L340.8,292.5L342.3,293.0L343.7,293.5L345.2,294.0L346.6,294.4L348.1,294.9L349.5,295.3L350.9,295.7L352.4,296.2L353.8,296.6L355.3,296.9L356.7,297.3L358.2,297.7L359.6,298.0L361.1,298.3L362.5,298.7L364.0,298.9L365.4,299.2L366.9,299.5L368.3,299.7L369.8,299.9L371.3,300.1L372.7,300.3L374.2,300.5L375.6,300.6L377.1,300.8L378.6,300.9L380.0,301.0L381.5,301.1L383.0,301.2L384.5,301.2L385.9,301.3L387.4,301.3L388.9,301.4L390.4,301.4L391.8,301.4L393.3,301.4L394.8,301.4L396.3,301.3L397.8,301.3L399.3,301.2L400.8,301.2L402.2,301.1L403.7,301.0L405.2,300.9L406.7,300.8L408.2,300.7L409.7,300.6L411.2,300.5L412.7,300.4L414.2,300.2L415.7,300.1L417.2,299.9L418.7,299.8L420.2,299.6L421.7,299.4L423.2,299.3L424.8,299.1L426.3,298.9L427.8,298.7L429.3,298.5L430.8,298.3L432.3,298.2L433.8,298.0L435.3,297.8L436.8,297.6L438.3,297.4L439.9,297.2L441.4,297.0L442.9,296.8L444.4,296.6L445.9,296.4L447.4,296.3L448.9,296.1L450.4,295.9L451.9,295.7L453.4,295.6L455.0,295.4L456.5,295.3L458.0,295.1L459.5,295.0L461.0,294.8L462.5,294.7L464.0,294.6L465.5,294.5L467.0,294.3L468.5,294.2L470.0,294.2L471.5,294.1L472.9,294.0L474.4,294.0L475.9,293.9L477.4,293.9L478.9,293.8L480.4,293.8L481.8,293.8L483.3,293.9L484.8,293.9L486.3,293.9L487.7,294.0L489.2,294.1L490.7,294.1L492.1,294.3L493.6,294.4L495.0,294.5L496.5,294.7L497.9,294.8L499.4,295.0L500.8,295.2L502.3,295.5L503.7,295.7L505.1,296.0L506.6,296.3L508.0,296.6L509.4,296.9L510.8,297.3L512.2,297.7L513.6,298.1L515.0,298.5L516.4,298.9L517.8,299.4L519.2,299.8L520.6,300.3L522.0,300.8L523.4,301.4L524.8,301.9L526.2,302.5L527.5,303.1L528.9,303.6L530.3,304.2L531.7,304.9L533.0,305.5L534.4,306.1L535.8,306.8L537.1,307.5L538.5,308.1L539.8,308.8L541.2,309.5L542.5,310.2L543.9,311.0L545.2,311.7L546.6,312.4L547.9,313.1L549.3,313.9L550.6,314.6L552.0,315.4L553.3,316.2L554.7,316.9L556.0,317.7L557.4,318.5L558.7,319.2L560.0,320.0L561.4,320.8L562.7,321.5L564.1,322.3L565.4,323.1L566.8,323.9L568.1,324.6L569.4,325.4L570.8,326.2L572.1,326.9L573.5,327.7L574.8,328.5L576.2,329.2L577.5,330.0L578.9,330.7L580.2,331.4L581.6,332.1L582.9,332.9L584.3,333.6L585.6,334.3L587.0,335.0L588.4,335.6L589.7,336.3L591.1,337.0L592.5,337.6L593.8,338.2L595.2,338.9L596.6,339.5L597.9,340.1L599.3,340.6L600.7,341.2L602.1,341.7L603.5,342.3L604.9,342.8L606.3,343.3L607.7,343.8L609.1,344.2L610.5,344.6L611.9,345.1L613.3,345.5L614.7,345.9L616.1,346.2L617.5,346.6L619.0,346.9L620.4,347.3L621.8,347.6L623.2,347.9L624.7,348.2L626.1,348.5L627.5,348.8L629.0,349.1L630.4,349.4L631.8,349.7L633.3,350.0L634.7,350.4L636.2,350.7L637.6,351.0L639.0,351.4L640.5,351.7L641.9,352.1L643.4,352.5L644.8,352.9L646.2,353.3L647.7,353.7L649.1,354.1L650.6,354.5L652.0,355.0L653.4,355.5L654.8,355.9L656.3,356.4L657.7,356.9L659.1,357.4L660.5,358.0L661.9,358.5L663.4,359.1L664.8,359.6L666.2,360.2L667.6,360.8L669.0,361.4L670.3,362.0L671.7,362.7L673.1,363.3L674.5,363.9L675.9,364.6L677.2,365.3L678.6,366.0L679.9,366.7L681.3,367.4L682.6,368.1L683.9,368.9L685.3,369.6L686.6,370.4L687.9,371.2L689.2,372.0L690.5,372.8L691.8,373.6L693.0,374.4L694.3,375.3L695.5,376.2L696.8,377.0L698.0,377.9L699.2,378.8L700.4,379.7L701.6,380.7L702.8,381.6L703.9,382.6L705.1,383.6L706.2,384.5L707.3,385.5L708.4,386.6L709.5,387.6L710.6,388.6L711.6,389.7L712.7,390.8L713.7,391.9L714.7,393.0L715.7,394.1L716.6,395.2L717.6,396.4L718.5,397.6L719.4,398.7L720.3,399.9L721.2,401.1L722.0,402.4L722.9,403.6L723.7,404.8L724.5,406.1L725.3,407.4L726.1,408.6L726.8,409.9L727.6,411.2L728.3,412.5L729.1,413.8L729.8,415.1L730.5,416.5L731.2,417.8L731.9,419.1L732.6,420.5L733.3,421.8L733.9,423.2L734.6,424.5L735.2,425.9L735.9,427.3L736.5,428.6L737.2,430.0L737.8,431.4L738.4,432.7L739.0,434.1L739.7,435.5L740.3,436.8L740.9,438.2L741.5,439.6L742.1,440.9L742.8,442.3L743.4,443.6L744.0,445.0" stroke="#8000ff"/>
<path d="M128.0,15.2L128.4,16.7L128.8,18.1L129.2,19.5L129.6,21.0L130.1,22.4L130.5,23.8L130.9,25.3L131.4,26.7L131.9,28.1L132.4,29.5L132.9,30.9L133.4,32.3L133.9,33.7L134.4,35.1L134.9,36.5L135.4,37.9L136.0,39.3L136.5,40.7L137.1,42.1L137.6,43.5L138.2,44.8L138.7,46.2L139.3,47.6L139.9,49.0L140.5,50.4L141.0,51.7L141.6,53.1L142.2,54.5L142.8,55.8L143.4,57.2L144.0,58.6L144.6,60.0L145.2,61.3L145.8,62.7L146.4,64.1L147.0,65.4L147.6,66.8L148.2,68.2L148.8,69.5L149.4,70.9L150.0,72.3L150.6,73.7L151.2,75.0L151.8,76.4L152.4,77.8L153.0,79.2L153.6,80.6L154.1,82.0L154.7,83.3L155.3,84.7L155.9,86.1L156.4,87.5L157.0,88.9L157.6,90.3L158.1,91.7L158.7,93.1L159.2,94.5L159.8,95.9L160.4,97.3L160.9,98.7L161.5,100.1L162.0,101.5L162.6,102.9L163.1,104.3L163.7,105.7L164.2,107.1L164.8,108.5L165.3,109.9L165.9,111.3L166.4,112.7L167.0,114.1L167.6,115.5L168.1,116.9L168.7,118.3L169.2,119.7L169.8,121.1L170.4,122.5L170.9,123.9L171.5,125.2L172.1,126.6L172.7,128.0L173.3,129.4L173.8,130.8L174.4,132.1L175.0,133.5L175.6,134.9L176.2,136.2L176.8,137.6L177.5,138.9L178.1,140.3L178.7,141.6L179.3,143.0L180.0,144.3L180.6,145.7L181.2,147.0L181.9,148.3L182.5,149.6L183.2,151.0L183.9,152.3L184.6,153.6L185.2,154.9L185.9,156.2L186.6,157.5L187.3,158.8L188.0,160.1L188.7,161.3L189.4,162.6L190.2,163.9L190.9,165.2L191.6,166.5L192.3,167.7L193.1,169.0L193.8,170.3L194.5,171.6L195.3,172.8L196.0,174.1L196.7,175.4L197.5,176.7L198.2,177.9L198.9,179.2L199.7,180.5L200.4,181.7L201.2,183.0L201.9,184.3L202.6,185.6L203.4,186.8L204.1,188.1L204.9,189.4L205.6,190.7L206.3,192.0L207.0,193.3L207.8,194.6L208.5,195.9L209.2,197.2L209.9,198.5L210.6,199.8L211.3,201.1L212.0,202.4L212.7,203.8L213.4,205.1L214.1,206.4L214.8,207.7L215.5,209.1L216.2,210.4L216.9,211.8L217.6,213.1L218.2,214.5L218.9,215.8L219.6,217.2L220.3,218.5L221.0,219.9L221.7,221.3L222.4,222.6L223.1,224.0L223.8,225.4L224.4,226.8L225.1,228.1L225.9,229.5L226.6,230.9L227.3,232.3L228.0,233.6L228.7,235.0L229.4,236.4L230.2,237.8L230.9,239.2L231.6,240.6L232.4,241.9L233.2,243.3L233.9,244.7L234.7,246.1L235.5,247.5L236.3,248.8L237.1,250.2L237.9,251.6L238.7,252.9L239.5,254.3L240.3,255.6L241.1,256.9L242.0,258.2L242.8,259.5L243.7,260.8L244.6,262.1L245.5,263.4L246.4,264.6L247.3,265.9L248.2,267.1L249.1,268.3L250.0,269.5L251.0,270.7L251.9,271.9L252.9,273.1L253.8,274.2L254.8,275.4L255.8,276.5L256.8,277.6L257.8,278.7L258.8,279.8L259.8,280.9L260.8,282.0L261.9,283.0L262.9,284.1L264.0,285.1L265.0,286.1L266.1,287.1L267.2,288.1L268.2,289.1L269.3,290.1L270.4,291.1L271.5,292.0L272.7,293.0L273.8,293.9L274.9,294.8L276.0,295.8L277.2,296.7L278.3,297.5L279.5,298.4L280.7,299.3L281.8,300.2L283.0,301.0L284.2,301.9L285.4,302.7L286.6,303.5L287.8,304.3L289.0,305.1L290.2,305.9L291.4,306.7L292.7,307.5L293.9,308.2L295.2,309.0L296.4,309.7L297.7,310.5L298.9,311.2L300.2,311.9L301.5,312.6L302.7,313.3L304.0,314.0L305.3,314.7L306.6,315.4L307.9,316.1L309.2,316.7L310.5,317.4L311.9,318.0L313.2,318.7L314.5,319.3L315.8,319.9L317.2,320.5L318.5,321.1L319.9,321.7L321.2,322.3L322.6,322.9L323.9,323.5L325.3,324.0L326.7,324.6L328.0,325.1L329.4,325.7L330.8,326.2L332.2,326.7L333.6,327.3L335.0,327.8L336.4,328.3L337.8,328.8L339.2,329.3L340.6,329.8L342.0,330.3L343.4,330.8L344.8,331.2L346.3,331.7L347.7,332.2L349.1,332.6L350.6,333.1L352.0,333.5L353.4,334.0L354.9,334.4L356.3,334.8L357.8,335.2L359.2,335.7L360.7,336.1L362.1,336.5L363.6,336.9L365.1,337.3L366.5,337.7L368.0,338.1L369.5,338.4L370.9,338.8L372.4,339.2L373.9,339.6L375.4,339.9L376.8,340.3L378.3,340.6L379.8,341.0L381.3,341.4L382.8,341.7L384.2,342.0L385.7,342.4L387.2,342.7L388.7,343.0L390.2,343.4L391.7,343.7L393.2,344.0L394.7,344.3L396.2,344.6L397.7,345.0L399.2,345.3L400.7,345.6L402.2,345.9L403.7,346.2L405.2,346.5L406.7,346.8L408.2,347.1L409.7,347.3L411.2,347.6L412.7,347.9L414.2,348.2L415.7,348.5L417.2,348.8L418.7,349.0L420.2,349.3L421.7,349.6L423.2,349.9L424.7,350.1L426.2,350.4L427.7,350.7L429.2,350.9L430.7,351.2L432.2,351.5L433.7,351.7L435.2,352.0L436.6,352.3L438.1,352.5L439.6,352.8L441.1,353.1L442.6,353.3L444.1,353.6L445.6,353.8L447.1,354.1L448.5,354.4L450.0,354.6L451.5,354.9L453.0,355.1L454.4,355.4L455.9,355.7L457.4,355.9L458.9,356.2L460.3,356.4L461.8,356.7L463.2,357.0L464.7,357.3L466.2,357.5L467.6,357.8L469.1,358.1L470.5,358.4L472.0,358.7L473.4,358.9L474.9,359.2L476.3,359.5L477.7,359.9L479.2,360.2L480.6,360.5L482.0,360.8L483.5,361.1L484.9,361.5L486.3,361.8L487.7,362.2L489.2,362.5L490.6,362.9L492.0,363.2L493.4,363.6L494.8,364.0L496.2,364.4L497.6,364.8L499.0,365.2L500.4,365.6L501.8,366.1L503.2,366.5L504.6,367.0L505.9,367.4L507.3,367.9L508.7,368.4L510.1,368.9L511.4,369.4L512.8,369.9L514.2,370.4L515.5,371.0L516.9,371.5L518.2,372.1L519.6,372.7L520.9,373.3L522.2,373.9L523.6,374.5L524.9,375.2L526.2,375.8L527.6,376.5L528.9,377.2L530.2,377.9L531.5,378.6L532.8,379.3L534.1,380.0L535.4,380.8L536.7,381.6L538.0,382.3L539.3,383.1L540.6,383.9L541.9,384.7L543.2,385.5L544.5,386.4L545.8,387.2L547.1,388.0L548.4,388.9L549.6,389.7L550.9,390.6L552.2,391.4L553.5,392.3L554.7,393.1L556.0,394.0L557.3,394.9L558.6,395.7L559.9,396.6L561.1,397.5L562.4,398.3L563.7,399.2L565.0,400.0L566.3,400.9L567.5,401.7L568.8,402.6L570.1,403.4L571.4,404.3L572.7,405.1L574.0,405.9L575.3,406.7L576.6,407.5L577.9,408.3L579.2,409.1L580.5,409.8L581.8,410.6L583.1,411.3L584.4,412.0L585.7,412.8L587.0,413.5L588.4,414.1L589.7,414.8L591.0,415.4L592.4,416.1L593.7,416.7L595.1,417.3L596.4,417.9L597.8,418.4L599.1,418.9L600.5,419.5L601.9,419.9L603.3,420.4L604.7,420.8L606.0,421.3L607.4,421.6L608.9,422.0L610.3,422.3L611.7,422.7L613.1,422.9L614.5,423.2L616.0,423.4L617.4,423.6L618.9,423.8L620.3,424.0L621.8,424.1L623.3,424.3L624.7,424.4L626.2,424.4L627.7,424.5L629.2,424.5L630.7,424.6L632.2,424.6L633.7,424.6L635.2,424.6L636.7,424.5L638.2,424.5L639.7,424.4L641.2,424.4L642.7,424.3L644.2,424.2L645.8,424.1L647.3,424.0L648.8,423.9L650.3,423.8L651.9,423.7L653.4,423.6L654.9,423.4L656.4,423.3L658.0,423.2L659.5,423.0L661.0,422.9L662.5,422.8L664.1,422.6L665.6,422.5L667.1,422.4L668.6,422.3L670.2,422.1L671.7,422.0L673.2,421.9L674.7,421.8L676.2,421.7L677.7,421.6L679.2,421.6L680.7,421.5L682.2,421.5L683.7,421.4L685.2,421.4L686.7,421.4L688.2,421.4L689.7,421.4L691.2,421.4L692.6,421.5L694.1,421.5L695.6,421.6L697.0,421.7L698.5,421.8L699.9,422.0L701.4,422.1L702.8,422.3L704.2,422.5L705.6,422.8L707.0,423.0L708.5,423.3L709.8,423.6L711.2,424.0L712.6,424.3L714.0,424.7L715.4,425.1L716.7,425.6L718.1,426.1L719.4,426.6L720.7,427.2L722.1,427.7L723.4,428.4L724.7,429.0L726.0,429.7L727.2,430.4L728.5,431.2L729.8,432.0L731.0,432.9L732.3,433.7L733.5,434.7L734.7,435.6L735.9,436.7L737.1,437.7L738.3,438.8L739.5,440.0L740.6,441.1L741.8,442.4L742.9,443.7L744.0,445.0" stroke="#8000ff"/>
<path d="M128.0,5.0L128.7,6.3L129.3,7.7L130.0,9.0L130.7,10.3L131.3,11.7L132.0,13.0L132.6,14.3L133.3,15.7L133.9,17.0L134.5,18.4L135.2,19.7L135.8,21.1L136.4,22.4L137.1,23.8L137.7,25.1L138.3,26.5L139.0,27.9L139.6,29.2L140.2,30.6L140.8,32.0L141.4,33.3L142.1,34.7L142.7,36.1L143.3,37.4L143.9,38.8L144.5,40.2L145.1,41.5L145.7,42.9L146.3,44.3L146.9,45.7L147.5,47.0L148.1,48.4L148.7,49.8L149.3,51.2L150.0,52.6L150.6,53.9L151.2,55.3L151.8,56.7L152.4,58.1L153.0,59.4L153.6,60.8L154.2,62.2L154.8,63.6L155.4,65.0L156.0,66.3L156.6,67.7L157.2,69.1L157.8,70.5L158.4,71.9L159.0,73.2L159.6,74.6L160.2,76.0L160.8,77.4L161.4,78.8L162.0,80.1L162.6,81.5L163.2,82.9L163.8,84.3L164.4,85.6L165.0,87.0L165.7,88.4L166.3,89.7L166.9,91.1L167.5,92.5L168.1,93.8L168.8,95.2L169.4,96.6L170.0,97.9L170.7,99.3L171.3,100.6L171.9,102.0L172.6,103.4L173.2,104.7L173.9,106.1L174.5,107.4L175.2,108.8L175.8,110.1L176.5,111.5L177.1,112.8L177.8,114.1L178.4,115.5L179.1,116.8L179.8,118.1L180.5,119.5L181.1,120.8L181.8,122.1L182.5,123.4L183.2,124.8L183.9,126.1L184.6,127.4L185.3,128.7L186.0,130.0L186.7,131.3L187.4,132.6L188.1,133.9L188.8,135.2L189.6,136.5L190.3,137.8L191.0,139.1L191.7,140.4L192.5,141.7L193.2,143.0L194.0,144.3L194.7,145.6L195.5,146.9L196.2,148.2L197.0,149.4L197.7,150.7L198.5,152.0L199.2,153.3L200.0,154.6L200.8,155.8L201.5,157.1L202.3,158.4L203.1,159.7L203.9,160.9L204.6,162.2L205.4,163.5L206.2,164.7L207.0,166.0L207.8,167.3L208.6,168.5L209.4,169.8L210.2,171.0L211.0,172.3L211.8,173.6L212.6,174.8L213.4,176.1L214.2,177.3L215.0,178.6L215.8,179.9L216.7,181.1L217.5,182.4L218.3,183.6L219.1,184.9L220.0,186.1L220.8,187.4L221.6,188.7L222.4,189.9L223.3,191.2L224.1,192.4L225.0,193.7L225.8,194.9L226.6,196.2L227.5,197.4L228.3,198.7L229.2,200.0L230.0,201.2L230.9,202.5L231.8,203.7L232.6,205.0L233.5,206.2L234.3,207.5L235.2,208.7L236.1,210.0L236.9,211.2L237.8,212.5L238.7,213.7L239.6,215.0L240.5,216.2L241.4,217.4L242.2,218.7L243.1,219.9L244.1,221.1L245.0,222.3L245.9,223.5L246.8,224.7L247.7,225.9L248.6,227.1L249.6,228.3L250.5,229.5L251.5,230.7L252.4,231.8L253.4,233.0L254.4,234.1L255.3,235.3L256.3,236.4L257.3,237.5L258.3,238.7L259.3,239.8L260.3,240.9L261.3,242.0L262.4,243.0L263.4,244.1L264.4,245.2L265.5,246.2L266.6,247.2L267.6,248.3L268.7,249.3L269.8,250.3L270.9,251.3L272.0,252.2L273.1,253.2L274.3,254.2L275.4,255.1L276.5,256.0L277.7,257.0L278.8,257.9L280.0,258.8L281.2,259.6L282.4,260.5L283.6,261.4L284.8,262.2L286.0,263.0L287.2,263.8L288.5,264.6L289.7,265.4L291.0,266.2L292.2,267.0L293.5,267.7L294.8,268.4L296.1,269.2L297.4,269.9L298.7,270.6L300.0,271.2L301.3,271.9L302.7,272.6L304.0,273.2L305.4,273.8L306.7,274.4L308.1,275.0L309.5,275.6L310.9,276.2L312.3,276.7L313.7,277.3L315.1,277.9L316.5,278.4L317.9,278.9L319.3,279.4L320.7,280.0L322.2,280.5L323.6,281.0L325.0,281.5L326.5,282.0L327.9,282.5L329.3,283.0L330.8,283.4L332.2,283.9L333.7,284.4L335.1,284.9L336.5,285.3L338.0,285.8L339.4,286.3L340.9,286.7L342.3,287.1L343.8,287.6L345.2,288.0L346.7,288.4L348.1,288.8L349.6,289.2L351.0,289.6L352.5,290.0L353.9,290.4L355.4,290.7L356.8,291.0L358.3,291.4L359.8,291.7L361.2,292.0L362.7,292.3L364.1,292.5L365.6,292.8L367.1,293.0L368.5,293.3L370.0,293.5L371.5,293.7L372.9,293.9L374.4,294.0L375.9,294.2L377.4,294.4L378.8,294.5L380.3,294.6L381.8,294.7L383.3,294.8L384.7,294.9L386.2,295.0L387.7,295.1L389.2,295.1L390.7,295.1L392.1,295.2L393.6,295.2L395.1,295.2L396.6,295.2L398.1,295.2L399.6,295.1L401.0,295.1L402.5,295.1L404.0,295.0L405.5,294.9L407.0,294.9L408.5,294.8L410.0,294.7L411.5,294.6L413.0,294.5L414.5,294.3L416.0,294.2L417.5,294.1L419.0,293.9L420.5,293.8L422.0,293.6L423.5,293.4L425.0,293.3L426.5,293.1L428.0,292.9L429.5,292.8L431.0,292.6L432.5,292.4L434.0,292.2L435.5,292.1L437.0,291.9L438.5,291.7L440.0,291.5L441.5,291.4L443.0,291.2L444.5,291.0L446.0,290.9L447.5,290.7L449.0,290.6L450.5,290.4L452.0,290.3L453.5,290.1L455.0,290.0L456.5,289.9L458.0,289.8L459.5,289.7L461.0,289.6L462.5,289.5L464.0,289.5L465.5,289.4L467.0,289.4L468.5,289.3L470.0,289.3L471.4,289.3L472.9,289.3L474.4,289.4L475.9,289.4L477.4,289.5L478.9,289.5L480.4,289.6L481.9,289.7L483.4,289.9L484.8,290.0L486.3,290.2L487.8,290.4L489.3,290.6L490.8,290.8L492.2,291.1L493.7,291.4L495.2,291.7L496.6,292.0L498.1,292.3L499.6,292.7L501.0,293.0L502.5,293.4L503.9,293.8L505.4,294.2L506.8,294.6L508.3,295.1L509.7,295.5L511.1,296.0L512.6,296.5L514.0,297.0L515.4,297.4L516.8,297.9L518.2,298.5L519.6,299.0L521.0,299.5L522.4,300.1L523.8,300.6L525.2,301.2L526.5,301.7L527.9,302.3L529.3,302.9L530.6,303.5L532.0,304.0L533.4,304.6L534.7,305.3L536.1,305.9L537.4,306.5L538.8,307.1L540.1,307.7L541.5,308.4L542.8,309.0L544.2,309.7L545.5,310.3L546.8,311.0L548.2,311.6L549.5,312.3L550.8,312.9L552.2,313.6L553.5,314.3L554.8,314.9L556.1,315.6L557.5,316.3L558.8,317.0L560.1,317.7L561.4,318.3L562.8,319.0L564.1,319.7L565.4,320.4L566.7,321.1L568.1,321.7L569.4,322.4L570.7,323.1L572.0,323.8L573.4,324.5L574.7,325.1L576.0,325.8L577.4,326.5L578.7,327.2L580.0,327.8L581.4,328.5L582.7,329.2L584.0,329.8L585.4,330.5L586.7,331.2L588.1,331.8L589.4,332.5L590.8,333.1L592.1,333.7L593.5,334.4L594.9,335.0L596.2,335.6L597.6,336.2L599.0,336.8L600.3,337.4L601.7,338.0L603.1,338.6L604.5,339.2L605.9,339.8L607.3,340.4L608.7,340.9L610.1,341.5L611.5,342.0L612.9,342.6L614.3,343.1L615.7,343.6L617.2,344.1L618.6,344.6L620.0,345.1L621.5,345.6L622.9,346.1L624.3,346.6L625.8,347.1L627.2,347.6L628.7,348.1L630.1,348.5L631.6,349.0L633.0,349.5L634.5,349.9L635.9,350.4L637.4,350.9L638.9,351.3L640.3,351.8L641.8,352.2L643.2,352.7L644.7,353.2L646.1,353.6L647.6,354.1L649.0,354.6L650.4,355.0L651.9,355.5L653.3,356.0L654.8,356.4L656.2,356.9L657.6,357.4L659.1,357.9L660.5,358.4L661.9,358.9L663.3,359.4L664.7,359.9L666.1,360.4L667.5,361.0L668.9,361.5L670.3,362.0L671.7,362.6L673.1,363.1L674.5,363.7L675.8,364.3L677.2,364.9L678.5,365.5L679.9,366.1L681.2,366.7L682.5,367.3L683.9,367.9L685.2,368.6L686.5,369.3L687.8,369.9L689.1,370.6L690.3,371.3L691.6,372.1L692.9,372.8L694.1,373.5L695.3,374.3L696.6,375.1L697.8,375.9L699.0,376.7L700.2,377.5L701.4,378.4L702.5,379.2L703.7,380.1L704.8,381.0L706.0,381.9L707.1,382.8L708.2,383.8L709.3,384.8L710.4,385.8L711.4,386.8L712.5,387.8L713.5,388.9L714.5,390.0L715.5,391.1L716.5,392.2L717.5,393.4L718.5,394.5L719.4,395.7L720.3,396.9L721.3,398.2L722.2,399.4L723.0,400.7L723.9,402.0L724.8,403.3L725.6,404.7L726.4,406.0L727.2,407.4L728.0,408.7L728.8,410.1L729.6,411.5L730.3,412.9L731.1,414.3L731.8,415.7L732.5,417.1L733.2,418.5L733.9,419.9L734.6,421.3L735.3,422.7L735.9,424.1L736.6,425.6L737.2,427.0L737.8,428.4L738.5,429.7L739.1,431.1L739.6,432.5L740.2,433.9L740.8,435.2L741.4,436.6L741.9,437.9L742.4,439.2L743.0,440.5L743.5,441.7L744.0,443.0" stroke="#800080"/>
<path d="M128.0,5.0L128.2,6.5L128.5,8.0L128.7,9.5L129.0,11.0L129.3,12.5L129.6,14.0L129.9,15.4L130.2,16.9L130.6,18.4L131.0,19.8L131.3,21.3L131.7,22.7L132.1,24.2L132.5,25.6L133.0,27.0L133.4,28.4L133.9,29.9L134.3,31.3L134.8,32.7L135.3,34.1L135.8,35.5L136.3,36.9L136.8,38.3L137.3,39.7L137.8,41.1L138.4,42.5L138.9,43.9L139.5,45.3L140.0,46.6L140.6,48.0L141.1,49.4L141.7,50.8L142.3,52.2L142.9,53.5L143.5,54.9L144.0,56.3L144.6,57.7L145.2,59.0L145.8,60.4L146.4,61.8L147.0,63.1L147.6,64.5L148.2,65.9L148.9,67.2L149.5,68.6L150.1,70.0L150.7,71.4L151.3,72.7L151.9,74.1L152.5,75.5L153.1,76.9L153.7,78.2L154.3,79.6L154.8,81.0L155.4,82.4L156.0,83.8L156.6,85.2L157.2,86.6L157.7,88.0L158.3,89.3L158.9,90.7L159.4,92.1L160.0,93.5L160.6,94.9L161.1,96.3L161.7,97.7L162.2,99.1L162.8,100.5L163.4,101.9L163.9,103.3L164.5,104.7L165.0,106.1L165.6,107.5L166.1,108.9L166.7,110.3L167.2,111.7L167.8,113.1L168.4,114.5L168.9,115.9L169.5,117.3L170.0,118.7L170.6,120.1L171.2,121.5L171.8,122.9L172.3,124.3L172.9,125.7L173.5,127.1L174.1,128.4L174.7,129.8L175.2,131.2L175.8,132.6L176.4,133.9L177.0,135.3L177.6,136.7L178.3,138.0L178.9,139.4L179.5,140.7L180.1,142.1L180.7,143.4L181.4,144.8L182.0,146.1L182.7,147.5L183.3,148.8L184.0,150.1L184.7,151.4L185.3,152.8L186.0,154.1L186.7,155.4L187.4,156.7L188.1,158.0L188.8,159.3L189.5,160.6L190.2,161.9L190.9,163.2L191.6,164.5L192.4,165.8L193.1,167.1L193.8,168.3L194.5,169.6L195.3,170.9L196.0,172.2L196.8,173.5L197.5,174.8L198.2,176.0L199.0,177.3L199.7,178.6L200.4,179.9L201.2,181.2L201.9,182.4L202.6,183.7L203.4,185.0L204.1,186.3L204.9,187.6L205.6,188.9L206.3,190.2L207.0,191.4L207.8,192.7L208.5,194.0L209.2,195.3L209.9,196.6L210.6,198.0L211.3,199.3L212.0,200.6L212.7,201.9L213.4,203.2L214.1,204.5L214.8,205.9L215.4,207.2L216.1,208.5L216.8,209.9L217.5,211.2L218.1,212.6L218.8,213.9L219.5,215.2L220.2,216.6L220.8,217.9L221.5,219.3L222.2,220.7L222.9,222.0L223.5,223.4L224.2,224.7L224.9,226.1L225.6,227.4L226.3,228.8L227.0,230.2L227.7,231.5L228.4,232.9L229.2,234.3L229.9,235.6L230.6,237.0L231.4,238.4L232.1,239.7L232.9,241.1L233.7,242.5L234.5,243.8L235.2,245.2L236.0,246.5L236.9,247.9L237.7,249.2L238.5,250.6L239.3,251.9L240.2,253.2L241.0,254.5L241.9,255.8L242.8,257.1L243.6,258.4L244.5,259.7L245.4,261.0L246.3,262.2L247.3,263.5L248.2,264.7L249.1,265.9L250.1,267.1L251.0,268.3L252.0,269.5L252.9,270.6L253.9,271.8L254.9,272.9L255.9,274.0L256.9,275.2L257.9,276.3L258.9,277.4L260.0,278.4L261.0,279.5L262.1,280.6L263.1,281.6L264.2,282.6L265.2,283.7L266.3,284.7L267.4,285.7L268.5,286.7L269.6,287.6L270.7,288.6L271.8,289.6L272.9,290.5L274.1,291.4L275.2,292.4L276.3,293.3L277.5,294.2L278.7,295.1L279.8,296.0L281.0,296.8L282.2,297.7L283.4,298.5L284.5,299.4L285.7,300.2L286.9,301.0L288.2,301.9L289.4,302.7L290.6,303.4L291.8,304.2L293.1,305.0L294.3,305.8L295.6,306.5L296.8,307.3L298.1,308.0L299.3,308.8L300.6,309.5L301.9,310.2L303.2,310.9L304.5,311.6L305.7,312.3L307.0,313.0L308.3,313.6L309.7,314.3L311.0,314.9L312.3,315.6L313.6,316.2L314.9,316.9L316.3,317.5L317.6,318.1L319.0,318.7L320.3,319.3L321.7,319.9L323.0,320.5L324.4,321.1L325.7,321.6L327.1,322.2L328.5,322.8L329.9,323.3L331.3,323.9L332.6,324.4L334.0,324.9L335.4,325.5L336.8,326.0L338.2,326.5L339.6,327.0L341.0,327.5L342.5,328.0L343.9,328.5L345.3,328.9L346.7,329.4L348.1,329.9L349.6,330.3L351.0,330.8L352.4,331.3L353.9,331.7L355.3,332.1L356.8,332.6L358.2,333.0L359.7,333.4L361.1,333.9L362.6,334.3L364.0,334.7L365.5,335.1L366.9,335.5L368.4,335.9L369.9,336.3L371.3,336.7L372.8,337.1L374.3,337.4L375.8,337.8L377.2,338.2L378.7,338.5L380.2,338.9L381.7,339.3L383.1,339.6L384.6,340.0L386.1,340.3L387.6,340.7L389.1,341.0L390.6,341.3L392.1,341.7L393.6,342.0L395.1,342.3L396.5,342.7L398.0,343.0L399.5,343.3L401.0,343.6L402.5,343.9L404.0,344.3L405.5,344.6L407.0,344.9L408.5,345.2L410.0,345.5L411.5,345.8L413.0,346.1L414.5,346.4L416.0,346.7L417.5,347.0L419.0,347.3L420.5,347.5L422.0,347.8L423.5,348.1L425.0,348.4L426.5,348.7L428.0,349.0L429.5,349.3L431.0,349.5L432.5,349.8L433.9,350.1L435.4,350.4L436.9,350.6L438.4,350.9L439.9,351.2L441.4,351.5L442.9,351.7L444.4,352.0L445.8,352.3L447.3,352.6L448.8,352.8L450.3,353.1L451.8,353.4L453.2,353.7L454.7,354.0L456.2,354.2L457.6,354.5L459.1,354.8L460.6,355.1L462.0,355.3L463.5,355.6L464.9,355.9L466.4,356.2L467.9,356.5L469.3,356.8L470.8,357.1L472.2,357.4L473.7,357.7L475.1,358.0L476.5,358.3L478.0,358.7L479.4,359.0L480.8,359.3L482.3,359.7L483.7,360.0L485.1,360.3L486.5,360.7L488.0,361.1L489.4,361.4L490.8,361.8L492.2,362.2L493.6,362.6L495.0,363.0L496.4,363.4L497.8,363.8L499.2,364.2L500.6,364.6L502.0,365.1L503.4,365.5L504.8,366.0L506.2,366.5L507.5,366.9L508.9,367.4L510.3,367.9L511.7,368.4L513.0,369.0L514.4,369.5L515.7,370.0L517.1,370.6L518.4,371.2L519.8,371.7L521.1,372.3L522.5,372.9L523.8,373.6L525.1,374.2L526.5,374.8L527.8,375.5L529.1,376.2L530.4,376.8L531.8,377.6L533.1,378.3L534.4,379.0L535.7,379.7L537.0,380.5L538.3,381.2L539.6,382.0L540.9,382.8L542.2,383.6L543.4,384.4L544.7,385.2L546.0,386.0L547.3,386.8L548.6,387.7L549.9,388.5L551.1,389.3L552.4,390.2L553.7,391.0L555.0,391.9L556.3,392.8L557.5,393.6L558.8,394.5L560.1,395.3L561.4,396.2L562.6,397.1L563.9,397.9L565.2,398.8L566.5,399.7L567.8,400.5L569.1,401.4L570.3,402.2L571.6,403.1L572.9,403.9L574.2,404.7L575.5,405.5L576.8,406.4L578.1,407.2L579.4,408.0L580.7,408.8L582.0,409.5L583.3,410.3L584.6,411.1L585.9,411.8L587.2,412.6L588.6,413.3L589.9,414.0L591.2,414.7L592.5,415.4L593.9,416.0L595.2,416.7L596.6,417.3L597.9,417.9L599.3,418.5L600.6,419.1L602.0,419.6L603.4,420.1L604.8,420.6L606.1,421.1L607.5,421.6L608.9,422.0L610.3,422.5L611.7,422.8L613.2,423.2L614.6,423.6L616.0,423.9L617.4,424.2L618.9,424.5L620.3,424.7L621.8,425.0L623.2,425.2L624.7,425.4L626.2,425.6L627.6,425.8L629.1,425.9L630.6,426.0L632.1,426.2L633.5,426.3L635.0,426.4L636.5,426.4L638.0,426.5L639.5,426.6L641.0,426.6L642.5,426.7L644.0,426.7L645.5,426.7L647.0,426.7L648.6,426.7L650.1,426.7L651.6,426.7L653.1,426.7L654.6,426.6L656.1,426.6L657.7,426.6L659.2,426.5L660.7,426.5L662.2,426.5L663.8,426.4L665.3,426.4L666.8,426.3L668.3,426.3L669.8,426.3L671.4,426.2L672.9,426.2L674.4,426.2L675.9,426.1L677.4,426.1L679.0,426.1L680.5,426.1L682.0,426.1L683.5,426.1L685.0,426.1L686.5,426.1L688.0,426.2L689.5,426.2L691.0,426.3L692.5,426.3L694.0,426.4L695.5,426.5L697.0,426.6L698.5,426.7L699.9,426.9L701.4,427.0L702.9,427.2L704.3,427.3L705.8,427.5L707.2,427.8L708.7,428.0L710.1,428.3L711.6,428.5L713.0,428.8L714.4,429.2L715.9,429.5L717.3,429.9L718.7,430.2L720.1,430.7L721.5,431.1L722.9,431.6L724.2,432.1L725.6,432.6L727.0,433.1L728.3,433.7L729.7,434.3L731.0,434.9L732.4,435.6L733.7,436.3L735.0,437.0L736.3,437.7L737.6,438.5L738.9,439.4L740.2,440.2L741.5,441.1L742.7,442.0L744.0,443.0" stroke="#800080"/>
<path d="M128.0,-14.0L128.5,-12.6L129.0,-11.2L129.6,-9.8L130.1,-8.4L130.6,-7.0L131.2,-5.6L131.7,-4.2L132.2,-2.8L132.7,-1.4L133.3,-0.1L133.8,1.3L134.4,2.7L134.9,4.1L135.4,5.5L136.0,6.9L136.5,8.3L137.1,9.7L137.6,11.1L138.1,12.5L138.7,13.9L139.2,15.3L139.8,16.7L140.3,18.1L140.9,19.5L141.4,20.9L142.0,22.3L142.5,23.7L143.1,25.1L143.7,26.4L144.2,27.8L144.8,29.2L145.3,30.6L145.9,32.0L146.5,33.4L147.0,34.8L147.6,36.2L148.2,37.6L148.7,39.0L149.3,40.4L149.9,41.7L150.4,43.1L151.0,44.5L151.6,45.9L152.2,47.3L152.8,48.7L153.3,50.1L153.9,51.5L154.5,52.8L155.1,54.2L155.7,55.6L156.3,57.0L156.8,58.4L157.4,59.8L158.0,61.1L158.6,62.5L159.2,63.9L159.8,65.3L160.4,66.6L161.0,68.0L161.6,69.4L162.2,70.8L162.8,72.1L163.4,73.5L164.0,74.9L164.7,76.3L165.3,77.6L165.9,79.0L166.5,80.4L167.1,81.7L167.7,83.1L168.4,84.5L169.0,85.8L169.6,87.2L170.2,88.5L170.8,89.9L171.5,91.3L172.1,92.6L172.7,94.0L173.4,95.3L174.0,96.7L174.6,98.0L175.3,99.4L175.9,100.7L176.6,102.1L177.2,103.4L177.9,104.8L178.5,106.1L179.2,107.5L179.8,108.8L180.5,110.1L181.1,111.5L181.8,112.8L182.4,114.2L183.1,115.5L183.7,116.8L184.4,118.2L185.1,119.5L185.7,120.8L186.4,122.1L187.1,123.5L187.8,124.8L188.4,126.1L189.1,127.4L189.8,128.7L190.5,130.1L191.2,131.4L191.8,132.7L192.5,134.0L193.2,135.3L193.9,136.6L194.6,137.9L195.3,139.2L196.0,140.6L196.7,141.9L197.4,143.2L198.1,144.5L198.8,145.8L199.6,147.1L200.3,148.4L201.0,149.7L201.7,151.0L202.4,152.3L203.2,153.6L203.9,154.9L204.6,156.1L205.4,157.4L206.1,158.7L206.8,160.0L207.6,161.3L208.3,162.6L209.1,163.9L209.8,165.2L210.6,166.5L211.3,167.7L212.1,169.0L212.9,170.3L213.6,171.6L214.4,172.9L215.2,174.2L216.0,175.4L216.8,176.7L217.5,178.0L218.3,179.3L219.1,180.6L219.9,181.8L220.7,183.1L221.5,184.4L222.3,185.7L223.2,187.0L224.0,188.2L224.8,189.5L225.6,190.8L226.4,192.1L227.3,193.3L228.1,194.6L229.0,195.9L229.8,197.2L230.6,198.4L231.5,199.7L232.4,201.0L233.2,202.3L234.1,203.5L234.9,204.8L235.8,206.1L236.7,207.3L237.6,208.6L238.5,209.9L239.4,211.1L240.3,212.4L241.2,213.6L242.1,214.9L243.0,216.1L243.9,217.4L244.9,218.6L245.8,219.8L246.7,221.0L247.7,222.3L248.6,223.5L249.6,224.7L250.6,225.9L251.5,227.0L252.5,228.2L253.5,229.4L254.5,230.5L255.5,231.7L256.5,232.8L257.5,233.9L258.6,235.0L259.6,236.1L260.7,237.2L261.7,238.3L262.8,239.3L263.8,240.4L264.9,241.4L266.0,242.4L267.1,243.4L268.2,244.4L269.3,245.4L270.5,246.4L271.6,247.3L272.7,248.3L273.9,249.2L275.0,250.1L276.2,251.0L277.4,251.9L278.6,252.7L279.7,253.6L280.9,254.4L282.1,255.2L283.4,256.1L284.6,256.9L285.8,257.6L287.0,258.4L288.3,259.2L289.5,259.9L290.8,260.7L292.1,261.4L293.3,262.1L294.6,262.8L295.9,263.5L297.2,264.2L298.5,264.8L299.8,265.5L301.1,266.1L302.4,266.8L303.7,267.4L305.1,268.0L306.4,268.6L307.7,269.2L309.1,269.7L310.4,270.3L311.8,270.8L313.2,271.4L314.5,271.9L315.9,272.4L317.3,272.9L318.7,273.4L320.1,273.9L321.5,274.4L322.9,274.8L324.3,275.3L325.7,275.7L327.1,276.2L328.5,276.6L329.9,277.0L331.4,277.4L332.8,277.8L334.2,278.2L335.7,278.6L337.1,278.9L338.6,279.3L340.0,279.6L341.5,279.9L342.9,280.3L344.4,280.6L345.9,280.9L347.3,281.2L348.8,281.5L350.3,281.8L351.8,282.0L353.2,282.3L354.7,282.6L356.2,282.8L357.7,283.1L359.2,283.3L360.7,283.5L362.2,283.7L363.7,283.9L365.2,284.1L366.7,284.3L368.2,284.5L369.7,284.7L371.2,284.8L372.7,285.0L374.2,285.2L375.7,285.3L377.3,285.4L378.8,285.6L380.3,285.7L381.8,285.8L383.3,285.9L384.9,286.0L386.4,286.1L387.9,286.2L389.4,286.3L390.9,286.4L392.5,286.5L394.0,286.5L395.5,286.6L397.0,286.6L398.6,286.7L400.1,286.7L401.6,286.8L403.2,286.8L404.7,286.8L406.2,286.8L407.7,286.9L409.3,286.9L410.8,286.9L412.3,286.9L413.8,286.9L415.3,286.9L416.9,286.8L418.4,286.8L419.9,286.8L421.4,286.8L422.9,286.7L424.5,286.7L426.0,286.7L427.5,286.6L429.0,286.6L430.5,286.6L432.0,286.5L433.5,286.5L435.0,286.5L436.5,286.4L438.1,286.4L439.6,286.3L441.1,286.3L442.6,286.3L444.1,286.2L445.6,286.2L447.1,286.2L448.6,286.1L450.1,286.1L451.6,286.1L453.0,286.0L454.5,286.0L456.0,286.0L457.5,286.0L459.0,286.0L460.5,286.0L462.0,286.0L463.5,286.0L464.9,286.0L466.4,286.1L467.9,286.1L469.4,286.1L470.8,286.2L472.3,286.2L473.8,286.3L475.2,286.3L476.7,286.4L478.2,286.5L479.6,286.6L481.1,286.7L482.5,286.8L484.0,286.9L485.5,287.0L486.9,287.2L488.3,287.3L489.8,287.5L491.2,287.7L492.7,287.8L494.1,288.0L495.6,288.3L497.0,288.5L498.4,288.7L499.8,289.0L501.3,289.2L502.7,289.5L504.1,289.8L505.5,290.1L507.0,290.4L508.4,290.7L509.8,291.1L511.2,291.4L512.6,291.8L514.0,292.2L515.4,292.6L516.8,293.0L518.2,293.5L519.6,293.9L521.0,294.4L522.4,294.9L523.7,295.4L525.1,295.9L526.5,296.4L527.9,296.9L529.3,297.4L530.7,298.0L532.0,298.5L533.4,299.1L534.8,299.7L536.1,300.3L537.5,300.9L538.9,301.5L540.3,302.1L541.6,302.7L543.0,303.3L544.3,304.0L545.7,304.6L547.1,305.3L548.4,305.9L549.8,306.6L551.2,307.2L552.5,307.9L553.9,308.6L555.2,309.3L556.6,310.0L558.0,310.6L559.3,311.3L560.7,312.0L562.0,312.7L563.4,313.4L564.7,314.1L566.1,314.8L567.5,315.5L568.8,316.3L570.2,317.0L571.5,317.7L572.9,318.4L574.3,319.1L575.6,319.8L577.0,320.5L578.3,321.2L579.7,321.9L581.1,322.6L582.4,323.3L583.8,324.0L585.2,324.7L586.5,325.4L587.9,326.1L589.3,326.8L590.6,327.4L592.0,328.1L593.4,328.8L594.8,329.4L596.1,330.1L597.5,330.7L598.9,331.4L600.3,332.0L601.7,332.7L603.1,333.3L604.5,333.9L605.9,334.5L607.2,335.1L608.6,335.7L610.0,336.3L611.4,336.8L612.9,337.4L614.3,337.9L615.7,338.5L617.1,339.0L618.5,339.6L619.9,340.1L621.3,340.6L622.7,341.1L624.2,341.6L625.6,342.1L627.0,342.6L628.4,343.1L629.8,343.6L631.2,344.0L632.7,344.5L634.1,345.0L635.5,345.5L636.9,345.9L638.3,346.4L639.8,346.9L641.2,347.4L642.6,347.8L644.0,348.3L645.4,348.8L646.8,349.3L648.2,349.7L649.6,350.2L651.0,350.7L652.4,351.2L653.8,351.7L655.2,352.2L656.6,352.7L658.0,353.2L659.4,353.7L660.8,354.3L662.2,354.8L663.6,355.3L664.9,355.9L666.3,356.5L667.7,357.0L669.0,357.6L670.4,358.2L671.7,358.8L673.1,359.4L674.4,360.0L675.7,360.7L677.1,361.3L678.4,362.0L679.7,362.7L681.0,363.3L682.3,364.0L683.6,364.8L684.9,365.5L686.2,366.2L687.5,367.0L688.7,367.8L690.0,368.6L691.2,369.4L692.5,370.2L693.7,371.0L695.0,371.9L696.2,372.7L697.4,373.6L698.6,374.5L699.8,375.4L701.0,376.3L702.1,377.2L703.3,378.2L704.4,379.1L705.6,380.1L706.7,381.1L707.8,382.1L708.9,383.1L710.0,384.1L711.1,385.2L712.2,386.2L713.2,387.3L714.3,388.4L715.3,389.4L716.3,390.6L717.3,391.7L718.3,392.8L719.3,393.9L720.2,395.1L721.2,396.3L722.1,397.5L723.0,398.6L724.0,399.9L724.8,401.1L725.7,402.3L726.6,403.5L727.4,404.8L728.2,406.1L729.1,407.3L729.9,408.6L730.6,409.9L731.4,411.2L732.2,412.5L732.9,413.9L733.6,415.2L734.3,416.6L735.0,417.9L735.7,419.3L736.3,420.6L736.9,422.0L737.6,423.4L738.2,424.8L738.7,426.2L739.3,427.6L739.9,429.0L740.4,430.4L740.9,431.9L741.4,433.3L741.9,434.7L742.3,436.2L742.8,437.6L743.2,439.1L743.6,440.5L744.0,442.0" stroke="#800000"/>
<path d="M128.0,-14.0L128.4,-12.6L128.8,-11.1L129.3,-9.7L129.7,-8.2L130.1,-6.8L130.5,-5.4L130.9,-3.9L131.4,-2.5L131.8,-1.1L132.2,0.4L132.6,1.8L133.1,3.2L133.5,4.7L133.9,6.1L134.4,7.6L134.8,9.0L135.2,10.4L135.7,11.9L136.1,13.3L136.5,14.7L137.0,16.2L137.4,17.6L137.9,19.0L138.3,20.5L138.7,21.9L139.2,23.3L139.6,24.8L140.1,26.2L140.5,27.6L141.0,29.1L141.4,30.5L141.9,31.9L142.3,33.3L142.8,34.8L143.3,36.2L143.7,37.6L144.2,39.1L144.6,40.5L145.1,41.9L145.6,43.3L146.0,44.8L146.5,46.2L147.0,47.6L147.5,49.0L147.9,50.5L148.4,51.9L148.9,53.3L149.4,54.7L149.8,56.2L150.3,57.6L150.8,59.0L151.3,60.4L151.8,61.8L152.3,63.3L152.8,64.7L153.2,66.1L153.7,67.5L154.2,68.9L154.7,70.3L155.2,71.8L155.7,73.2L156.2,74.6L156.7,76.0L157.3,77.4L157.8,78.8L158.3,80.2L158.8,81.6L159.3,83.0L159.8,84.5L160.3,85.9L160.9,87.3L161.4,88.7L161.9,90.1L162.4,91.5L163.0,92.9L163.5,94.3L164.0,95.7L164.6,97.1L165.1,98.5L165.7,99.9L166.2,101.3L166.7,102.7L167.3,104.1L167.8,105.5L168.4,106.9L169.0,108.3L169.5,109.7L170.1,111.0L170.6,112.4L171.2,113.8L171.8,115.2L172.3,116.6L172.9,118.0L173.5,119.4L174.1,120.7L174.6,122.1L175.2,123.5L175.8,124.9L176.4,126.3L177.0,127.7L177.6,129.0L178.2,130.4L178.8,131.8L179.4,133.2L180.0,134.5L180.6,135.9L181.2,137.3L181.8,138.6L182.4,140.0L183.0,141.4L183.6,142.7L184.2,144.1L184.9,145.5L185.5,146.8L186.1,148.2L186.8,149.5L187.4,150.9L188.0,152.3L188.7,153.6L189.3,155.0L190.0,156.3L190.6,157.7L191.3,159.0L191.9,160.4L192.6,161.7L193.2,163.1L193.9,164.4L194.5,165.8L195.2,167.1L195.9,168.4L196.5,169.8L197.2,171.1L197.9,172.5L198.5,173.8L199.2,175.2L199.9,176.5L200.6,177.8L201.2,179.2L201.9,180.5L202.6,181.8L203.3,183.2L203.9,184.5L204.6,185.9L205.3,187.2L206.0,188.5L206.7,189.9L207.3,191.2L208.0,192.5L208.7,193.9L209.4,195.2L210.1,196.5L210.8,197.9L211.4,199.2L212.1,200.6L212.8,201.9L213.5,203.2L214.2,204.6L214.9,205.9L215.5,207.2L216.2,208.6L216.9,209.9L217.6,211.2L218.3,212.6L219.0,213.9L219.7,215.2L220.4,216.5L221.1,217.9L221.8,219.2L222.5,220.5L223.2,221.8L223.9,223.1L224.6,224.4L225.4,225.7L226.1,227.0L226.8,228.3L227.6,229.6L228.3,230.9L229.1,232.2L229.8,233.5L230.6,234.8L231.4,236.1L232.1,237.3L232.9,238.6L233.7,239.9L234.5,241.1L235.3,242.4L236.1,243.6L237.0,244.8L237.8,246.1L238.6,247.3L239.5,248.5L240.4,249.7L241.2,250.9L242.1,252.2L243.0,253.4L243.9,254.5L244.8,255.7L245.7,256.9L246.6,258.1L247.5,259.3L248.5,260.4L249.4,261.6L250.4,262.7L251.4,263.9L252.3,265.0L253.3,266.1L254.3,267.2L255.3,268.4L256.3,269.5L257.4,270.6L258.4,271.7L259.4,272.7L260.5,273.8L261.5,274.9L262.6,276.0L263.7,277.0L264.7,278.1L265.8,279.1L266.9,280.2L268.0,281.2L269.1,282.2L270.3,283.2L271.4,284.2L272.5,285.2L273.7,286.2L274.8,287.2L276.0,288.2L277.1,289.1L278.3,290.1L279.5,291.0L280.7,292.0L281.8,292.9L283.0,293.9L284.2,294.8L285.4,295.7L286.7,296.6L287.9,297.5L289.1,298.4L290.3,299.2L291.6,300.1L292.8,301.0L294.1,301.8L295.3,302.7L296.6,303.5L297.9,304.3L299.1,305.1L300.4,305.9L301.7,306.7L303.0,307.5L304.3,308.3L305.6,309.1L306.9,309.8L308.2,310.6L309.5,311.3L310.8,312.1L312.1,312.8L313.4,313.5L314.8,314.2L316.1,314.9L317.4,315.6L318.8,316.3L320.1,316.9L321.5,317.6L322.8,318.2L324.2,318.9L325.5,319.5L326.9,320.1L328.3,320.7L329.6,321.3L331.0,321.9L332.4,322.5L333.8,323.0L335.1,323.6L336.5,324.2L337.9,324.7L339.3,325.2L340.7,325.8L342.1,326.3L343.5,326.8L344.9,327.3L346.3,327.8L347.7,328.2L349.1,328.7L350.5,329.2L351.9,329.7L353.3,330.1L354.8,330.6L356.2,331.0L357.6,331.4L359.0,331.9L360.5,332.3L361.9,332.7L363.3,333.1L364.8,333.5L366.2,333.9L367.6,334.3L369.1,334.7L370.5,335.0L372.0,335.4L373.4,335.8L374.9,336.1L376.3,336.5L377.8,336.8L379.2,337.2L380.7,337.5L382.1,337.9L383.6,338.2L385.1,338.5L386.5,338.8L388.0,339.2L389.5,339.5L390.9,339.8L392.4,340.1L393.9,340.4L395.3,340.7L396.8,341.0L398.3,341.3L399.7,341.6L401.2,341.9L402.7,342.2L404.2,342.5L405.6,342.7L407.1,343.0L408.6,343.3L410.1,343.6L411.6,343.8L413.0,344.1L414.5,344.4L416.0,344.7L417.5,344.9L419.0,345.2L420.5,345.5L421.9,345.7L423.4,346.0L424.9,346.3L426.4,346.5L427.9,346.8L429.4,347.1L430.8,347.3L432.3,347.6L433.8,347.9L435.3,348.1L436.8,348.4L438.3,348.7L439.8,348.9L441.2,349.2L442.7,349.5L444.2,349.7L445.7,350.0L447.2,350.3L448.7,350.6L450.1,350.9L451.6,351.1L453.1,351.4L454.6,351.7L456.1,352.0L457.5,352.3L459.0,352.6L460.5,352.9L462.0,353.2L463.4,353.5L464.9,353.8L466.4,354.1L467.8,354.4L469.3,354.7L470.8,355.0L472.2,355.4L473.7,355.7L475.2,356.0L476.6,356.4L478.1,356.7L479.5,357.1L481.0,357.4L482.5,357.8L483.9,358.2L485.3,358.6L486.8,358.9L488.2,359.3L489.7,359.7L491.1,360.1L492.5,360.5L494.0,360.9L495.4,361.4L496.8,361.8L498.2,362.2L499.7,362.7L501.1,363.1L502.5,363.6L503.9,364.1L505.3,364.5L506.7,365.0L508.1,365.5L509.5,366.0L510.9,366.5L512.3,367.1L513.6,367.6L515.0,368.1L516.4,368.7L517.8,369.3L519.1,369.8L520.5,370.4L521.8,371.0L523.2,371.6L524.5,372.2L525.9,372.9L527.2,373.5L528.6,374.1L529.9,374.8L531.2,375.5L532.5,376.2L533.8,376.8L535.1,377.6L536.4,378.3L537.7,379.0L539.0,379.7L540.3,380.5L541.6,381.2L542.9,382.0L544.2,382.7L545.5,383.5L546.8,384.3L548.0,385.1L549.3,385.9L550.6,386.7L551.9,387.5L553.1,388.3L554.4,389.1L555.7,389.9L557.0,390.7L558.2,391.6L559.5,392.4L560.8,393.2L562.0,394.1L563.3,394.9L564.6,395.7L565.9,396.6L567.1,397.4L568.4,398.2L569.7,399.1L570.9,399.9L572.2,400.7L573.5,401.5L574.8,402.4L576.1,403.2L577.3,404.0L578.6,404.8L579.9,405.6L581.2,406.4L582.5,407.2L583.8,408.0L585.1,408.8L586.4,409.5L587.7,410.3L589.0,411.0L590.3,411.8L591.6,412.5L592.9,413.2L594.2,413.9L595.6,414.6L596.9,415.3L598.2,416.0L599.6,416.7L600.9,417.3L602.2,417.9L603.6,418.6L604.9,419.2L606.3,419.8L607.7,420.3L609.1,420.9L610.4,421.4L611.8,422.0L613.2,422.5L614.6,423.0L616.0,423.4L617.4,423.9L618.8,424.3L620.2,424.8L621.7,425.2L623.1,425.6L624.5,426.0L626.0,426.3L627.4,426.7L628.8,427.0L630.3,427.3L631.7,427.6L633.2,427.9L634.7,428.2L636.1,428.5L637.6,428.7L639.1,429.0L640.5,429.2L642.0,429.4L643.5,429.6L645.0,429.8L646.5,430.0L647.9,430.2L649.4,430.3L650.9,430.5L652.4,430.6L653.9,430.8L655.4,430.9L656.9,431.0L658.4,431.1L659.9,431.2L661.4,431.2L663.0,431.3L664.5,431.4L666.0,431.4L667.5,431.5L669.0,431.5L670.5,431.5L672.0,431.5L673.5,431.6L675.0,431.6L676.6,431.6L678.1,431.6L679.6,431.6L681.1,431.6L682.6,431.5L684.1,431.5L685.6,431.5L687.2,431.5L688.7,431.5L690.2,431.5L691.7,431.5L693.2,431.5L694.7,431.6L696.2,431.6L697.7,431.6L699.2,431.6L700.7,431.7L702.2,431.7L703.7,431.8L705.2,431.9L706.7,432.0L708.1,432.1L709.6,432.2L711.1,432.4L712.6,432.5L714.1,432.7L715.5,432.9L717.0,433.1L718.5,433.3L719.9,433.6L721.4,433.9L722.8,434.2L724.3,434.5L725.7,434.8L727.2,435.2L728.6,435.6L730.0,436.0L731.4,436.5L732.9,437.0L734.3,437.5L735.7,438.0L737.1,438.6L738.5,439.2L739.9,439.9L741.2,440.5L742.6,441.2L744.0,442.0" stroke="#800000"/>
<path d="M128.0,-5.0L128.2,-3.5L128.4,-1.9L128.6,-0.4L128.9,1.1L129.2,2.6L129.5,4.1L129.8,5.6L130.1,7.0L130.4,8.5L130.8,10.0L131.2,11.4L131.6,12.9L132.0,14.3L132.4,15.8L132.9,17.2L133.3,18.6L133.8,20.0L134.3,21.4L134.8,22.8L135.3,24.2L135.8,25.6L136.3,27.0L136.9,28.4L137.5,29.8L138.0,31.2L138.6,32.5L139.2,33.9L139.8,35.3L140.4,36.6L141.0,38.0L141.7,39.3L142.3,40.7L142.9,42.0L143.6,43.4L144.2,44.7L144.9,46.1L145.6,47.4L146.3,48.7L146.9,50.1L147.6,51.4L148.3,52.7L149.0,54.1L149.7,55.4L150.4,56.7L151.1,58.0L151.8,59.4L152.5,60.7L153.2,62.0L153.9,63.3L154.7,64.6L155.4,66.0L156.1,67.3L156.8,68.6L157.5,69.9L158.2,71.3L158.9,72.6L159.6,73.9L160.3,75.3L161.0,76.6L161.7,77.9L162.4,79.3L163.1,80.6L163.8,82.0L164.5,83.3L165.2,84.7L165.8,86.0L166.5,87.4L167.2,88.7L167.8,90.1L168.5,91.4L169.1,92.8L169.8,94.1L170.5,95.5L171.1,96.8L171.8,98.2L172.4,99.6L173.1,100.9L173.7,102.3L174.4,103.6L175.0,105.0L175.7,106.3L176.3,107.7L177.0,109.0L177.7,110.4L178.3,111.7L179.0,113.1L179.7,114.4L180.3,115.7L181.0,117.1L181.7,118.4L182.3,119.7L183.0,121.1L183.7,122.4L184.4,123.7L185.1,125.0L185.8,126.3L186.5,127.6L187.2,128.9L187.9,130.2L188.6,131.5L189.4,132.8L190.1,134.1L190.8,135.4L191.5,136.7L192.3,138.0L193.0,139.3L193.8,140.6L194.5,141.8L195.3,143.1L196.0,144.4L196.8,145.6L197.5,146.9L198.3,148.2L199.1,149.4L199.9,150.7L200.6,152.0L201.4,153.2L202.2,154.5L203.0,155.7L203.8,157.0L204.6,158.2L205.4,159.5L206.2,160.7L207.0,162.0L207.8,163.2L208.6,164.5L209.4,165.7L210.2,166.9L211.1,168.2L211.9,169.4L212.7,170.7L213.6,171.9L214.4,173.1L215.2,174.4L216.1,175.6L216.9,176.9L217.8,178.1L218.6,179.3L219.5,180.6L220.3,181.8L221.2,183.0L222.1,184.3L222.9,185.5L223.8,186.7L224.7,188.0L225.6,189.2L226.5,190.4L227.3,191.7L228.2,192.9L229.1,194.2L230.0,195.4L230.9,196.6L231.8,197.9L232.7,199.1L233.6,200.4L234.5,201.6L235.4,202.8L236.3,204.1L237.3,205.3L238.2,206.6L239.1,207.8L240.0,209.0L241.0,210.3L241.9,211.5L242.9,212.7L243.8,214.0L244.8,215.2L245.7,216.4L246.7,217.6L247.7,218.8L248.6,220.0L249.6,221.2L250.6,222.3L251.6,223.5L252.6,224.7L253.6,225.8L254.6,226.9L255.7,228.1L256.7,229.2L257.7,230.3L258.8,231.4L259.9,232.4L260.9,233.5L262.0,234.5L263.1,235.6L264.2,236.6L265.3,237.6L266.4,238.5L267.6,239.5L268.7,240.5L269.8,241.4L271.0,242.3L272.2,243.2L273.3,244.1L274.5,244.9L275.7,245.8L276.9,246.6L278.1,247.4L279.4,248.2L280.6,249.0L281.8,249.8L283.1,250.5L284.3,251.3L285.6,252.0L286.9,252.7L288.1,253.4L289.4,254.1L290.7,254.8L292.0,255.4L293.3,256.1L294.7,256.7L296.0,257.3L297.3,257.9L298.6,258.5L300.0,259.1L301.3,259.7L302.7,260.2L304.1,260.8L305.4,261.3L306.8,261.8L308.2,262.3L309.6,262.8L311.0,263.3L312.4,263.8L313.8,264.2L315.2,264.7L316.6,265.1L318.0,265.6L319.5,266.0L320.9,266.4L322.3,266.8L323.8,267.2L325.2,267.6L326.7,267.9L328.1,268.3L329.6,268.6L331.0,269.0L332.5,269.3L334.0,269.7L335.4,270.0L336.9,270.3L338.4,270.6L339.9,270.9L341.4,271.2L342.9,271.5L344.4,271.7L345.9,272.0L347.4,272.3L348.9,272.5L350.4,272.8L351.9,273.0L353.4,273.2L354.9,273.4L356.4,273.7L357.9,273.9L359.4,274.1L360.9,274.3L362.4,274.5L364.0,274.7L365.5,274.9L367.0,275.1L368.5,275.2L370.0,275.4L371.6,275.6L373.1,275.8L374.6,275.9L376.1,276.1L377.7,276.2L379.2,276.4L380.7,276.5L382.2,276.7L383.8,276.8L385.3,277.0L386.8,277.1L388.3,277.2L389.8,277.4L391.4,277.5L392.9,277.6L394.4,277.7L395.9,277.9L397.4,278.0L398.9,278.1L400.4,278.2L402.0,278.4L403.5,278.5L405.0,278.6L406.5,278.7L408.0,278.8L409.5,279.0L411.0,279.1L412.5,279.2L413.9,279.3L415.4,279.4L416.9,279.6L418.4,279.7L419.9,279.8L421.4,279.9L422.8,280.1L424.3,280.2L425.8,280.3L427.2,280.4L428.7,280.6L430.2,280.7L431.7,280.8L433.1,280.9L434.6,281.1L436.1,281.2L437.5,281.3L439.0,281.5L440.5,281.6L441.9,281.8L443.4,281.9L444.9,282.1L446.3,282.2L447.8,282.4L449.3,282.5L450.7,282.7L452.2,282.8L453.7,283.0L455.1,283.1L456.6,283.3L458.1,283.5L459.6,283.6L461.0,283.8L462.5,284.0L464.0,284.1L465.5,284.3L467.0,284.5L468.5,284.7L469.9,284.9L471.4,285.1L472.9,285.3L474.4,285.5L475.9,285.7L477.4,285.9L478.9,286.2L480.3,286.4L481.8,286.7L483.3,286.9L484.8,287.2L486.3,287.5L487.7,287.7L489.2,288.0L490.7,288.3L492.2,288.7L493.6,289.0L495.1,289.3L496.6,289.7L498.0,290.0L499.5,290.4L500.9,290.8L502.4,291.2L503.8,291.6L505.3,292.0L506.7,292.4L508.1,292.8L509.6,293.3L511.0,293.7L512.4,294.2L513.8,294.6L515.2,295.1L516.7,295.6L518.1,296.1L519.5,296.6L520.9,297.1L522.2,297.6L523.6,298.2L525.0,298.7L526.4,299.2L527.8,299.8L529.2,300.3L530.5,300.9L531.9,301.5L533.3,302.0L534.6,302.6L536.0,303.2L537.3,303.8L538.7,304.4L540.1,305.0L541.4,305.6L542.8,306.2L544.1,306.9L545.5,307.5L546.8,308.1L548.1,308.7L549.5,309.4L550.8,310.0L552.2,310.7L553.5,311.3L554.9,312.0L556.2,312.6L557.5,313.3L558.9,313.9L560.2,314.6L561.5,315.2L562.9,315.9L564.2,316.6L565.5,317.2L566.9,317.9L568.2,318.5L569.5,319.2L570.9,319.9L572.2,320.5L573.6,321.2L574.9,321.9L576.2,322.5L577.6,323.2L578.9,323.9L580.3,324.5L581.6,325.2L583.0,325.8L584.3,326.5L585.7,327.1L587.0,327.8L588.4,328.4L589.7,329.1L591.1,329.7L592.4,330.4L593.8,331.0L595.2,331.6L596.5,332.2L597.9,332.9L599.3,333.5L600.7,334.1L602.0,334.7L603.4,335.3L604.8,335.9L606.2,336.5L607.6,337.1L609.0,337.6L610.4,338.2L611.8,338.8L613.2,339.3L614.6,339.9L616.0,340.5L617.5,341.0L618.9,341.5L620.3,342.1L621.7,342.6L623.2,343.1L624.6,343.7L626.0,344.2L627.5,344.7L628.9,345.2L630.3,345.7L631.8,346.2L633.2,346.7L634.7,347.2L636.1,347.8L637.5,348.3L639.0,348.8L640.4,349.3L641.8,349.8L643.3,350.3L644.7,350.8L646.2,351.3L647.6,351.8L649.0,352.3L650.5,352.8L651.9,353.4L653.3,353.9L654.7,354.4L656.2,354.9L657.6,355.4L659.0,356.0L660.4,356.5L661.8,357.1L663.2,357.6L664.6,358.2L666.0,358.7L667.4,359.3L668.8,359.9L670.2,360.4L671.5,361.0L672.9,361.6L674.3,362.2L675.6,362.8L677.0,363.4L678.3,364.1L679.7,364.7L681.0,365.3L682.3,366.0L683.7,366.7L685.0,367.3L686.3,368.0L687.6,368.7L688.9,369.4L690.1,370.1L691.4,370.9L692.7,371.6L693.9,372.4L695.2,373.1L696.4,373.9L697.7,374.7L698.9,375.5L700.1,376.3L701.3,377.1L702.5,378.0L703.7,378.9L704.8,379.7L706.0,380.6L707.1,381.5L708.3,382.5L709.4,383.4L710.5,384.4L711.6,385.3L712.7,386.3L713.8,387.3L714.8,388.4L715.9,389.4L716.9,390.5L717.9,391.6L718.9,392.7L719.9,393.8L720.9,394.9L721.9,396.1L722.8,397.3L723.8,398.5L724.7,399.7L725.6,400.9L726.5,402.2L727.4,403.5L728.2,404.8L729.1,406.0L729.9,407.4L730.7,408.7L731.5,410.0L732.3,411.4L733.0,412.7L733.8,414.1L734.5,415.5L735.2,416.8L735.9,418.2L736.6,419.6L737.2,421.0L737.8,422.5L738.4,423.9L739.0,425.3L739.6,426.7L740.1,428.1L740.6,429.6L741.1,431.0L741.6,432.4L742.1,433.9L742.5,435.3L742.9,436.7L743.3,438.2L743.7,439.6L744.0,441.0" stroke="#808000"/>
<path d="M128.0,-5.0L128.1,-3.4L128.1,-1.9L128.2,-0.3L128.4,1.2L128.5,2.7L128.7,4.2L128.9,5.8L129.1,7.3L129.3,8.8L129.6,10.3L129.9,11.7L130.1,13.2L130.5,14.7L130.8,16.1L131.1,17.6L131.5,19.1L131.9,20.5L132.3,21.9L132.7,23.4L133.1,24.8L133.5,26.2L134.0,27.7L134.5,29.1L134.9,30.5L135.4,31.9L135.9,33.3L136.5,34.7L137.0,36.1L137.5,37.5L138.1,38.9L138.6,40.2L139.2,41.6L139.7,43.0L140.3,44.4L140.9,45.7L141.5,47.1L142.1,48.5L142.7,49.9L143.3,51.2L143.9,52.6L144.5,54.0L145.2,55.3L145.8,56.7L146.4,58.0L147.0,59.4L147.7,60.8L148.3,62.1L148.9,63.5L149.5,64.8L150.2,66.2L150.8,67.6L151.4,68.9L152.1,70.3L152.7,71.7L153.3,73.0L153.9,74.4L154.5,75.8L155.1,77.2L155.7,78.5L156.3,79.9L156.9,81.3L157.5,82.7L158.1,84.1L158.7,85.4L159.2,86.8L159.8,88.2L160.3,89.6L160.9,91.0L161.4,92.4L162.0,93.8L162.5,95.2L163.1,96.6L163.6,98.0L164.2,99.4L164.7,100.8L165.2,102.2L165.8,103.6L166.3,105.0L166.8,106.5L167.3,107.9L167.9,109.3L168.4,110.7L168.9,112.1L169.5,113.5L170.0,114.9L170.5,116.3L171.1,117.7L171.6,119.1L172.2,120.5L172.7,121.9L173.3,123.3L173.8,124.7L174.4,126.0L174.9,127.4L175.5,128.8L176.0,130.2L176.6,131.6L177.2,133.0L177.8,134.3L178.4,135.7L179.0,137.1L179.6,138.4L180.2,139.8L180.8,141.2L181.4,142.5L182.1,143.9L182.7,145.2L183.4,146.6L184.0,147.9L184.7,149.2L185.4,150.6L186.0,151.9L186.7,153.2L187.4,154.5L188.2,155.8L188.9,157.1L189.6,158.4L190.3,159.7L191.1,161.0L191.8,162.3L192.6,163.6L193.3,164.9L194.1,166.2L194.8,167.5L195.6,168.8L196.4,170.1L197.1,171.4L197.9,172.7L198.7,173.9L199.5,175.2L200.2,176.5L201.0,177.8L201.8,179.1L202.5,180.4L203.3,181.7L204.1,183.0L204.8,184.3L205.6,185.6L206.4,186.9L207.1,188.2L207.9,189.5L208.6,190.8L209.3,192.1L210.1,193.4L210.8,194.7L211.5,196.1L212.2,197.4L212.9,198.7L213.6,200.1L214.3,201.4L215.0,202.8L215.6,204.1L216.3,205.5L216.9,206.9L217.6,208.2L218.2,209.6L218.9,211.0L219.5,212.3L220.2,213.7L220.8,215.1L221.5,216.4L222.1,217.8L222.7,219.2L223.4,220.5L224.1,221.9L224.7,223.2L225.4,224.6L226.0,225.9L226.7,227.3L227.4,228.6L228.1,229.9L228.8,231.2L229.5,232.5L230.3,233.8L231.0,235.1L231.8,236.4L232.6,237.6L233.4,238.9L234.2,240.1L235.0,241.3L235.8,242.5L236.7,243.7L237.6,244.9L238.5,246.1L239.4,247.2L240.3,248.4L241.2,249.5L242.2,250.6L243.1,251.8L244.1,252.9L245.1,254.0L246.0,255.1L247.0,256.2L248.0,257.3L249.0,258.4L250.1,259.5L251.1,260.6L252.1,261.6L253.1,262.7L254.2,263.8L255.2,264.9L256.3,265.9L257.3,267.0L258.4,268.1L259.5,269.1L260.5,270.2L261.6,271.2L262.7,272.3L263.8,273.3L264.9,274.4L266.0,275.4L267.1,276.4L268.2,277.5L269.3,278.5L270.4,279.5L271.6,280.5L272.7,281.5L273.8,282.5L275.0,283.5L276.1,284.5L277.3,285.5L278.4,286.4L279.6,287.4L280.8,288.4L281.9,289.3L283.1,290.3L284.3,291.2L285.5,292.2L286.7,293.1L287.9,294.0L289.1,294.9L290.3,295.8L291.5,296.7L292.8,297.6L294.0,298.5L295.2,299.4L296.4,300.2L297.7,301.1L298.9,302.0L300.2,302.8L301.4,303.6L302.7,304.5L304.0,305.3L305.2,306.1L306.5,306.9L307.8,307.7L309.1,308.4L310.4,309.2L311.7,310.0L313.0,310.7L314.3,311.5L315.6,312.2L316.9,312.9L318.2,313.6L319.5,314.3L320.9,315.0L322.2,315.7L323.5,316.3L324.9,317.0L326.2,317.6L327.6,318.3L328.9,318.9L330.3,319.5L331.6,320.1L333.0,320.7L334.4,321.3L335.7,321.8L337.1,322.4L338.5,322.9L339.9,323.5L341.3,324.0L342.7,324.5L344.1,325.0L345.5,325.5L346.9,326.0L348.3,326.5L349.7,327.0L351.1,327.4L352.5,327.9L353.9,328.4L355.3,328.8L356.8,329.2L358.2,329.7L359.6,330.1L361.1,330.5L362.5,330.9L363.9,331.3L365.4,331.7L366.8,332.1L368.3,332.5L369.7,332.9L371.2,333.2L372.6,333.6L374.1,334.0L375.5,334.3L377.0,334.7L378.4,335.0L379.9,335.4L381.4,335.7L382.8,336.0L384.3,336.4L385.8,336.7L387.2,337.0L388.7,337.3L390.2,337.6L391.7,337.9L393.1,338.2L394.6,338.5L396.1,338.8L397.6,339.1L399.0,339.4L400.5,339.7L402.0,340.0L403.5,340.3L405.0,340.6L406.4,340.9L407.9,341.2L409.4,341.5L410.9,341.7L412.4,342.0L413.8,342.3L415.3,342.6L416.8,342.9L418.3,343.1L419.8,343.4L421.3,343.7L422.7,344.0L424.2,344.3L425.7,344.6L427.2,344.8L428.7,345.1L430.1,345.4L431.6,345.7L433.1,346.0L434.6,346.3L436.1,346.6L437.5,346.9L439.0,347.2L440.5,347.5L441.9,347.8L443.4,348.1L444.9,348.4L446.3,348.7L447.8,349.0L449.3,349.3L450.7,349.6L452.2,350.0L453.7,350.3L455.1,350.6L456.6,351.0L458.0,351.3L459.5,351.6L460.9,352.0L462.4,352.4L463.8,352.7L465.3,353.1L466.7,353.4L468.2,353.8L469.6,354.2L471.0,354.6L472.5,355.0L473.9,355.4L475.3,355.8L476.8,356.2L478.2,356.6L479.6,357.0L481.0,357.4L482.4,357.8L483.9,358.3L485.3,358.7L486.7,359.1L488.1,359.6L489.5,360.0L490.9,360.5L492.3,361.0L493.7,361.4L495.1,361.9L496.5,362.4L497.9,362.9L499.3,363.4L500.7,363.9L502.1,364.4L503.5,364.9L504.9,365.4L506.3,366.0L507.6,366.5L509.0,367.0L510.4,367.6L511.8,368.1L513.1,368.7L514.5,369.3L515.9,369.8L517.2,370.4L518.6,371.0L519.9,371.6L521.3,372.2L522.6,372.9L524.0,373.5L525.3,374.1L526.7,374.7L528.0,375.4L529.4,376.1L530.7,376.7L532.0,377.4L533.4,378.1L534.7,378.8L536.0,379.5L537.3,380.2L538.6,380.9L540.0,381.6L541.3,382.3L542.6,383.1L543.9,383.8L545.2,384.6L546.5,385.3L547.8,386.1L549.1,386.9L550.4,387.7L551.7,388.5L553.0,389.3L554.2,390.1L555.5,391.0L556.8,391.8L558.1,392.6L559.3,393.5L560.6,394.3L561.9,395.2L563.2,396.1L564.4,396.9L565.7,397.8L567.0,398.7L568.2,399.5L569.5,400.4L570.8,401.3L572.0,402.1L573.3,403.0L574.6,403.9L575.8,404.7L577.1,405.6L578.4,406.4L579.6,407.3L580.9,408.1L582.2,408.9L583.5,409.8L584.8,410.6L586.0,411.4L587.3,412.2L588.6,413.0L589.9,413.8L591.2,414.5L592.5,415.3L593.8,416.0L595.1,416.8L596.4,417.5L597.7,418.2L599.0,418.9L600.4,419.6L601.7,420.2L603.0,420.9L604.4,421.5L605.7,422.1L607.1,422.7L608.4,423.2L609.8,423.8L611.1,424.3L612.5,424.8L613.9,425.3L615.3,425.7L616.7,426.2L618.1,426.6L619.5,427.0L620.9,427.4L622.3,427.8L623.7,428.1L625.1,428.5L626.6,428.8L628.0,429.1L629.5,429.4L630.9,429.6L632.3,429.9L633.8,430.2L635.3,430.4L636.7,430.6L638.2,430.8L639.6,431.0L641.1,431.2L642.6,431.4L644.1,431.5L645.6,431.7L647.0,431.8L648.5,431.9L650.0,432.1L651.5,432.2L653.0,432.3L654.5,432.4L656.0,432.5L657.5,432.5L659.0,432.6L660.5,432.7L662.0,432.7L663.6,432.8L665.1,432.9L666.6,432.9L668.1,433.0L669.6,433.0L671.1,433.0L672.6,433.1L674.2,433.1L675.7,433.2L677.2,433.2L678.7,433.2L680.2,433.3L681.8,433.3L683.3,433.3L684.8,433.4L686.3,433.4L687.8,433.4L689.4,433.5L690.9,433.5L692.4,433.6L693.9,433.6L695.4,433.7L697.0,433.7L698.5,433.8L700.0,433.9L701.5,434.0L703.0,434.0L704.5,434.1L706.0,434.2L707.5,434.4L709.0,434.5L710.5,434.6L712.0,434.7L713.5,434.9L715.0,435.0L716.5,435.2L718.0,435.4L719.4,435.6L720.9,435.8L722.4,436.0L723.9,436.2L725.3,436.4L726.8,436.7L728.2,437.0L729.7,437.3L731.2,437.6L732.6,437.9L734.0,438.2L735.5,438.5L736.9,438.9L738.3,439.3L739.8,439.7L741.2,440.1L742.6,440.5L744.0,441.0" stroke="#808000"/>
</g>
<g stroke="#000" stroke-width="3.2">
<line x1="117.4" y1="11.60" x2="128.3" y2="11.60"/>
<text x="112" y="16.50" text-anchor="end" class="tl">0.000008</text>
<line x1="117.4" y1="99.40" x2="128.3" y2="99.40"/>
<text x="112" y="104.30" text-anchor="end" class="tl">0.000006</text>
<line x1="117.4" y1="187.20" x2="128.3" y2="187.20"/>
<text x="112" y="192.10" text-anchor="end" class="tl">0.000004</text>
<line x1="117.4" y1="275.00" x2="128.3" y2="275.00"/>
<text x="112" y="279.90" text-anchor="end" class="tl">0.000002</text>
<line x1="117.4" y1="362.80" x2="128.3" y2="362.80"/>
<text x="112" y="367.70" text-anchor="end" class="tl">0.000000</text>
<line x1="117.4" y1="450.60" x2="128.3" y2="450.60"/>
<text x="112" y="455.50" text-anchor="end" class="tl">-0.000002</text>
<line x1="122" y1="55.50" x2="128.3" y2="55.50"/>
<line x1="122" y1="143.30" x2="128.3" y2="143.30"/>
<line x1="122" y1="231.10" x2="128.3" y2="231.10"/>
<line x1="122" y1="318.90" x2="128.3" y2="318.90"/>
<line x1="122" y1="406.70" x2="128.3" y2="406.70"/>
<line x1="128.40" y1="494.8" x2="128.40" y2="506"/>
<text transform="translate(127.80,526.20) scale(1,1.065)" text-anchor="middle" class="tl">-0.8</text>
<line x1="240.30" y1="494.8" x2="240.30" y2="506"/>
<text transform="translate(239.70,526.20) scale(1,1.065)" text-anchor="middle" class="tl">-0.6</text>
<line x1="352.20" y1="494.8" x2="352.20" y2="506"/>
<text transform="translate(351.60,526.20) scale(1,1.065)" text-anchor="middle" class="tl">-0.4</text>
<line x1="464.10" y1="494.8" x2="464.10" y2="506"/>
<text transform="translate(463.50,526.20) scale(1,1.065)" text-anchor="middle" class="tl">-0.2</text>
<line x1="576.00" y1="494.8" x2="576.00" y2="506"/>
<text transform="translate(575.40,526.20) scale(1,1.065)" text-anchor="middle" class="tl">0.0</text>
<line x1="687.90" y1="494.8" x2="687.90" y2="506"/>
<text transform="translate(687.30,526.20) scale(1,1.065)" text-anchor="middle" class="tl">0.2</text>
<line x1="184.35" y1="494.8" x2="184.35" y2="500.7"/>
<line x1="296.25" y1="494.8" x2="296.25" y2="500.7"/>
<line x1="408.15" y1="494.8" x2="408.15" y2="500.7"/>
<line x1="520.05" y1="494.8" x2="520.05" y2="500.7"/>
<line x1="631.95" y1="494.8" x2="631.95" y2="500.7"/>
<line x1="743.85" y1="494.8" x2="743.85" y2="500.7"/>
</g>
<rect x="600.9" y="17.4" width="148.9" height="278.1" fill="#fff" stroke="#2a2a2a" stroke-width="1.1"/>
<line x1="610.2" y1="36.90" x2="652.5" y2="36.90" stroke="#000" stroke-width="2.4"/>
<text transform="translate(657.70,42.20) scale(1.080,1)" class="lg">HCPyTSC</text>
<line x1="610.2" y1="64.50" x2="652.5" y2="64.50" stroke="#ff0000" stroke-width="2.4"/>
<text transform="translate(656.50,71.00) scale(1.080,1)" class="lg">+1 Cu<tspan class="sup" dx="1.20" dy="-11.30">2+</tspan></text>
<line x1="610.2" y1="92.10" x2="652.5" y2="92.10" stroke="#0000ff" stroke-width="2.4"/>
<text transform="translate(656.50,98.60) scale(1.080,1)" class="lg">+2 Cu<tspan class="sup" dx="1.20" dy="-11.30">2+</tspan></text>
<line x1="610.2" y1="119.70" x2="652.5" y2="119.70" stroke="#ff00ff" stroke-width="2.4"/>
<text transform="translate(656.50,126.20) scale(1.080,1)" class="lg">+3 Cu<tspan class="sup" dx="1.20" dy="-11.30">2+</tspan></text>
<line x1="610.2" y1="147.30" x2="652.5" y2="147.30" stroke="#008000" stroke-width="2.4"/>
<text transform="translate(656.50,153.80) scale(1.080,1)" class="lg">+4 Cu<tspan class="sup" dx="1.20" dy="-11.30">2+</tspan></text>
<line x1="610.2" y1="174.90" x2="652.5" y2="174.90" stroke="#000080" stroke-width="2.4"/>
<text transform="translate(656.50,181.40) scale(1.080,1)" class="lg">+5 Cu<tspan class="sup" dx="1.20" dy="-11.30">2+</tspan></text>
<line x1="610.2" y1="202.50" x2="652.5" y2="202.50" stroke="#8000ff" stroke-width="2.4"/>
<text transform="translate(656.50,209.00) scale(1.080,1)" class="lg">+6 Cu<tspan class="sup" dx="1.20" dy="-11.30">2+</tspan></text>
<line x1="610.2" y1="230.10" x2="652.5" y2="230.10" stroke="#800080" stroke-width="2.4"/>
<text transform="translate(656.50,236.60) scale(1.080,1)" class="lg">+7 Cu<tspan class="sup" dx="1.20" dy="-11.30">2+</tspan></text>
<line x1="610.2" y1="257.70" x2="652.5" y2="257.70" stroke="#800000" stroke-width="2.4"/>
<text transform="translate(656.50,264.20) scale(1.080,1)" class="lg">+8 Cu<tspan class="sup" dx="1.20" dy="-11.30">2+</tspan></text>
<line x1="610.2" y1="285.30" x2="652.5" y2="285.30" stroke="#808000" stroke-width="2.4"/>
<text transform="translate(656.50,291.80) scale(1.080,1)" class="lg">+9 Cu<tspan class="sup" dx="1.20" dy="-11.30">2+</tspan></text>
<g fill="#000" stroke="#000" stroke-width="1.8">
<line x1="488.7" y1="278.3" x2="488.7" y2="246"/>
<path d="M484.6,247.5 L488.7,234 L492.8,247.5 Z" stroke="none"/>
<line x1="612.6" y1="434" x2="612.6" y2="462"/>
<path d="M609,461 L612.6,475 L616.2,461 Z" stroke="none"/>
</g>
<text x="474" y="564.4" text-anchor="middle" class="at">Potential (V)</text>
<text transform="translate(21.2,232) rotate(-90)" text-anchor="middle" class="at" style="font-size:23.8px">Current (A)</text>
</svg>
</body></html>
